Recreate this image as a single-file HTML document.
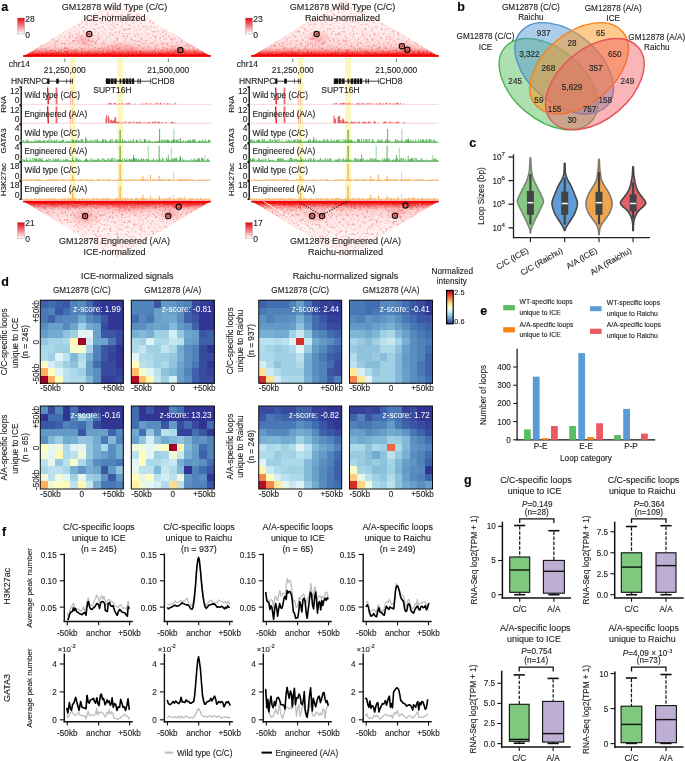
<!DOCTYPE html>
<html><head><meta charset="utf-8"><style>
html,body{margin:0;padding:0;background:#fff;}
svg{display:block;will-change:transform;}
text{font-family:"Liberation Sans", sans-serif;stroke:#222;stroke-width:0.12px;}
</style></head><body>
<svg width="685" height="761" viewBox="0 0 685 761" font-family='"Liberation Sans", sans-serif' fill="#222">
<defs>
<linearGradient id="cbr" x1="0" y1="0" x2="0" y2="1"><stop offset="0" stop-color="#e8000b"/><stop offset="1" stop-color="#ffffff"/></linearGradient>
<linearGradient id="triT" x1="0" y1="1" x2="0" y2="0">
 <stop offset="0" stop-color="#f00000"/><stop offset="0.04" stop-color="#f31c1c"/><stop offset="0.085" stop-color="#f76464"/><stop offset="0.12" stop-color="#faa4a4"/>
 <stop offset="0.16" stop-color="#fcd0d0"/><stop offset="0.3" stop-color="#fee8e8"/><stop offset="0.55" stop-color="#fff2f2"/><stop offset="1" stop-color="#fffbfb"/></linearGradient>
<linearGradient id="triB" x1="0" y1="0" x2="0" y2="1">
 <stop offset="0" stop-color="#f00000"/><stop offset="0.04" stop-color="#f31c1c"/><stop offset="0.085" stop-color="#f76464"/><stop offset="0.12" stop-color="#faa4a4"/>
 <stop offset="0.16" stop-color="#fcd0d0"/><stop offset="0.3" stop-color="#fee8e8"/><stop offset="0.55" stop-color="#fff2f2"/><stop offset="1" stop-color="#fffbfb"/></linearGradient>
<linearGradient id="mT" x1="0" y1="1" x2="0" y2="0"><stop offset="0" stop-color="#fff"/><stop offset="0.25" stop-color="#aaa"/><stop offset="1" stop-color="#555"/></linearGradient>
<linearGradient id="mB" x1="0" y1="0" x2="0" y2="1"><stop offset="0" stop-color="#fff"/><stop offset="0.25" stop-color="#aaa"/><stop offset="1" stop-color="#555"/></linearGradient>
<filter id="spk" x="0" y="0" width="100%" height="100%" color-interpolation-filters="sRGB">
 <feTurbulence type="fractalNoise" baseFrequency="0.42" numOctaves="2" seed="7"/>
 <feColorMatrix type="matrix" values="0 0 0 0 0.95  0 0 0 0 0.25  0 0 0 0 0.25  3.6 0 0 0 -1.85"/>
</filter>
<filter id="wspk" x="0" y="0" width="100%" height="100%" color-interpolation-filters="sRGB">
 <feTurbulence type="fractalNoise" baseFrequency="0.75" numOctaves="2" seed="3"/>
 <feColorMatrix type="matrix" values="0 0 0 0 1  0 0 0 0 0.93  0 0 0 0 0.93  4 0 0 0 -1.9"/>
</filter>
<linearGradient id="wmT" x1="0" y1="1" x2="0" y2="0"><stop offset="0" stop-color="#000"/><stop offset="0.04" stop-color="#333"/><stop offset="0.09" stop-color="#fff"/><stop offset="0.18" stop-color="#999"/><stop offset="0.3" stop-color="#000"/></linearGradient>
<linearGradient id="wmB" x1="0" y1="0" x2="0" y2="1"><stop offset="0" stop-color="#000"/><stop offset="0.04" stop-color="#333"/><stop offset="0.09" stop-color="#fff"/><stop offset="0.18" stop-color="#999"/><stop offset="0.3" stop-color="#000"/></linearGradient>
<radialGradient id="cloud"><stop offset="0" stop-color="#f33" stop-opacity="0.3"/><stop offset="1" stop-color="#f33" stop-opacity="0"/></radialGradient>
<linearGradient id="rdylbu" x1="0" y1="1" x2="0" y2="0">
 <stop offset="0" stop-color="rgb(49,54,149)"/><stop offset="0.1" stop-color="rgb(69,117,180)"/><stop offset="0.2" stop-color="rgb(116,173,209)"/>
 <stop offset="0.3" stop-color="rgb(171,217,233)"/><stop offset="0.4" stop-color="rgb(224,243,248)"/><stop offset="0.5" stop-color="rgb(255,255,191)"/>
 <stop offset="0.6" stop-color="rgb(254,224,144)"/><stop offset="0.7" stop-color="rgb(253,174,97)"/><stop offset="0.8" stop-color="rgb(244,109,67)"/>
 <stop offset="0.9" stop-color="rgb(215,48,39)"/><stop offset="1" stop-color="rgb(165,0,38)"/></linearGradient>
</defs>
<text x="1.2" y="11.2" font-size="12.5" font-weight="bold" fill="#000" style="stroke:#000">a</text>
<rect x="69.80" y="58.00" width="5.50" height="143.00" fill="#fcf6bf"/>
<rect x="117.40" y="58.00" width="5.40" height="143.00" fill="#fcf6bf"/>
<clipPath id="clipt0"><polygon points="23.2,56.6 210.8,56.6 117.0,-0.8"/></clipPath>
<mask id="mt0"><rect x="23.2" y="-0.8" width="187.6" height="57.4" fill="url(#mT)"/></mask>
<g clip-path="url(#clipt0)"><rect x="23.2" y="-0.8" width="187.6" height="57.4" fill="url(#triT)"/><g mask="url(#mt0)"><rect x="23.2" y="-0.8" width="187.6" height="57.4" filter="url(#spk)" opacity="0.75"/></g>
<ellipse cx="85.0" cy="40.0" rx="14" ry="8" fill="url(#cloud)"/>
<ellipse cx="175.0" cy="50.0" rx="10" ry="5" fill="url(#cloud)"/>
<ellipse cx="120.0" cy="48.0" rx="25" ry="6" fill="url(#cloud)"/>
<path d="M23.2,56.6 L23.2,54.1 L24.2,53.0 L25.2,49.8 L26.2,52.4 L27.2,51.9 L28.2,54.1 L29.2,53.0 L30.2,54.6 L31.2,51.7 L32.2,54.0 L33.2,52.3 L34.2,53.8 L35.2,54.4 L36.2,53.7 L37.2,52.8 L38.2,53.4 L39.2,53.3 L40.2,54.4 L41.2,54.5 L42.2,54.1 L43.2,53.5 L44.2,54.2 L45.2,54.6 L46.2,54.0 L47.2,53.0 L48.2,53.5 L49.2,53.0 L50.2,52.2 L51.2,53.4 L52.2,54.2 L53.2,51.7 L54.2,53.6 L55.2,53.8 L56.2,50.9 L57.2,54.4 L58.2,51.4 L59.2,53.5 L60.2,54.3 L61.2,49.8 L62.2,53.8 L63.2,52.3 L64.2,54.2 L65.2,53.7 L66.2,50.0 L67.2,49.7 L68.2,52.2 L69.2,49.0 L70.2,50.3 L71.2,53.9 L72.2,51.9 L73.2,52.4 L74.2,51.9 L75.2,49.0 L76.2,51.0 L77.2,52.5 L78.2,53.0 L79.2,52.7 L80.2,53.5 L81.2,54.4 L82.2,51.3 L83.2,53.3 L84.2,53.6 L85.2,51.4 L86.2,52.6 L87.2,52.1 L88.2,52.6 L89.2,51.9 L90.2,53.7 L91.2,52.4 L92.2,53.2 L93.2,54.4 L94.2,53.5 L95.2,53.5 L96.2,53.1 L97.2,53.7 L98.2,54.3 L99.2,54.4 L100.2,53.7 L101.2,54.4 L102.2,53.8 L103.2,53.0 L104.2,53.8 L105.2,54.5 L106.2,53.5 L107.2,52.6 L108.2,53.2 L109.2,52.3 L110.2,53.3 L111.2,52.8 L112.2,52.2 L113.2,51.8 L114.2,50.5 L115.2,52.7 L116.2,52.1 L117.2,53.3 L118.2,51.3 L119.2,52.3 L120.2,51.6 L121.2,51.2 L122.2,53.6 L123.2,54.5 L124.2,52.8 L125.2,48.3 L126.2,53.5 L127.2,51.3 L128.2,50.1 L129.2,54.1 L130.2,53.6 L131.2,50.6 L132.2,51.8 L133.2,51.4 L134.2,49.0 L135.2,51.5 L136.2,49.7 L137.2,52.8 L138.2,52.6 L139.2,51.6 L140.2,50.0 L141.2,52.7 L142.2,51.1 L143.2,53.7 L144.2,52.4 L145.2,53.6 L146.2,52.9 L147.2,54.5 L148.2,53.5 L149.2,53.0 L150.2,54.6 L151.2,54.1 L152.2,53.2 L153.2,53.5 L154.2,54.3 L155.2,53.7 L156.2,53.4 L157.2,53.5 L158.2,53.2 L159.2,54.1 L160.2,53.2 L161.2,53.4 L162.2,53.3 L163.2,54.6 L164.2,54.4 L165.2,52.5 L166.2,53.8 L167.2,53.7 L168.2,53.0 L169.2,51.1 L170.2,52.6 L171.2,52.7 L172.2,51.7 L173.2,50.9 L174.2,51.7 L175.2,49.6 L176.2,53.3 L177.2,54.2 L178.2,53.5 L179.2,49.8 L180.2,49.8 L181.2,51.6 L182.2,50.3 L183.2,50.1 L184.2,48.1 L185.2,52.6 L186.2,49.4 L187.2,54.0 L188.2,54.0 L189.2,50.1 L190.2,53.2 L191.2,53.6 L192.2,54.5 L193.2,49.6 L194.2,50.2 L195.2,51.1 L196.2,51.0 L197.2,51.7 L198.2,51.5 L199.2,52.6 L200.2,53.5 L201.2,54.5 L202.2,51.8 L203.2,52.9 L204.2,53.4 L205.2,54.6 L206.2,52.8 L207.2,53.6 L208.2,54.3 L209.2,54.2 L210.2,53.4 L210.8,56.6Z" fill="#f00808" opacity="0.3"/>
<path d="M23.2,56.6 L23.2,55.5 L23.9,55.4 L24.6,55.6 L25.3,55.2 L26.0,55.1 L26.7,54.9 L27.4,55.2 L28.1,55.2 L28.8,54.6 L29.5,55.6 L30.2,54.9 L30.9,54.8 L31.6,54.9 L32.3,55.6 L33.0,54.5 L33.7,55.5 L34.4,55.4 L35.1,54.5 L35.8,53.9 L36.5,54.6 L37.2,54.0 L37.9,53.8 L38.6,54.8 L39.3,54.6 L40.0,54.5 L40.7,54.1 L41.4,55.2 L42.1,55.4 L42.8,53.0 L43.5,55.4 L44.2,54.1 L44.9,53.1 L45.6,53.8 L46.3,52.9 L47.0,52.1 L47.7,54.1 L48.4,55.4 L49.1,53.9 L49.8,55.0 L50.5,53.1 L51.2,53.2 L51.9,53.4 L52.6,54.5 L53.3,51.8 L54.0,54.1 L54.7,52.9 L55.4,54.6 L56.1,52.4 L56.8,51.8 L57.5,55.1 L58.2,53.9 L58.9,52.4 L59.6,52.7 L60.3,55.3 L61.0,54.8 L61.7,55.2 L62.4,54.2 L63.1,53.1 L63.8,54.0 L64.5,54.1 L65.2,55.0 L65.9,53.7 L66.6,55.6 L67.3,54.3 L68.0,55.0 L68.7,54.0 L69.4,55.3 L70.1,53.8 L70.8,54.9 L71.5,55.1 L72.2,54.3 L72.9,55.2 L73.6,55.1 L74.3,55.2 L75.0,55.3 L75.7,55.5 L76.4,54.7 L77.1,55.3 L77.8,55.3 L78.5,55.5 L79.2,55.1 L79.9,54.9 L80.6,55.0 L81.3,55.2 L82.0,55.5 L82.7,55.5 L83.4,55.3 L84.1,55.1 L84.8,55.0 L85.5,54.7 L86.2,55.2 L86.9,55.1 L87.6,54.5 L88.3,54.6 L89.0,54.9 L89.7,55.5 L90.4,54.7 L91.1,54.7 L91.8,55.4 L92.5,55.1 L93.2,55.2 L93.9,55.1 L94.6,55.5 L95.3,53.3 L96.0,55.0 L96.7,53.6 L97.4,53.8 L98.1,54.9 L98.8,52.9 L99.5,53.8 L100.2,55.2 L100.9,55.2 L101.6,52.6 L102.3,52.9 L103.0,54.0 L103.7,52.3 L104.4,53.7 L105.1,53.3 L105.8,54.0 L106.5,55.0 L107.2,53.0 L107.9,52.7 L108.6,54.2 L109.3,52.5 L110.0,52.0 L110.7,52.9 L111.4,54.2 L112.1,54.0 L112.8,54.6 L113.5,55.0 L114.2,52.3 L114.9,52.5 L115.6,55.0 L116.3,54.0 L117.0,52.7 L117.7,54.6 L118.4,53.6 L119.1,55.3 L119.8,54.6 L120.5,53.5 L121.2,55.5 L121.9,55.3 L122.6,55.5 L123.3,53.7 L124.0,55.0 L124.7,54.7 L125.4,54.7 L126.1,54.5 L126.8,54.1 L127.5,54.4 L128.2,54.1 L128.9,55.5 L129.6,54.5 L130.3,55.4 L131.0,55.2 L131.7,55.4 L132.4,54.8 L133.1,55.0 L133.8,55.2 L134.5,54.7 L135.2,55.4 L135.9,55.3 L136.6,54.9 L137.3,55.1 L138.0,55.2 L138.7,55.4 L139.4,55.1 L140.1,55.0 L140.8,54.7 L141.5,54.9 L142.2,54.7 L142.9,54.7 L143.6,55.3 L144.3,55.4 L145.0,54.3 L145.7,55.1 L146.4,54.9 L147.1,55.3 L147.8,55.6 L148.5,54.3 L149.2,54.1 L149.9,55.1 L150.6,54.9 L151.3,54.8 L152.0,53.8 L152.7,54.6 L153.4,54.6 L154.1,55.1 L154.8,53.7 L155.5,52.6 L156.2,54.4 L156.9,53.7 L157.6,54.5 L158.3,55.2 L159.0,53.7 L159.7,52.4 L160.4,53.8 L161.1,53.5 L161.8,52.8 L162.5,51.9 L163.2,54.7 L163.9,54.1 L164.6,51.8 L165.3,55.3 L166.0,55.2 L166.7,53.3 L167.4,53.2 L168.1,54.3 L168.8,52.1 L169.5,52.5 L170.2,53.8 L170.9,54.4 L171.6,55.4 L172.3,53.3 L173.0,55.1 L173.7,52.9 L174.4,53.2 L175.1,55.5 L175.8,53.6 L176.5,55.3 L177.2,53.1 L177.9,53.3 L178.6,54.3 L179.3,53.8 L180.0,55.2 L180.7,55.5 L181.4,55.4 L182.1,53.7 L182.8,54.1 L183.5,55.2 L184.2,54.2 L184.9,55.3 L185.6,54.7 L186.3,54.4 L187.0,55.0 L187.7,55.1 L188.4,55.1 L189.1,54.7 L189.8,55.2 L190.5,55.4 L191.2,55.0 L191.9,55.1 L192.6,55.0 L193.3,55.1 L194.0,55.4 L194.7,55.5 L195.4,55.4 L196.1,55.3 L196.8,55.1 L197.5,55.2 L198.2,54.8 L198.9,54.8 L199.6,54.7 L200.3,54.4 L201.0,54.9 L201.7,55.0 L202.4,55.4 L203.1,54.2 L203.8,55.1 L204.5,55.1 L205.2,55.6 L205.9,55.4 L206.6,54.0 L207.3,54.0 L208.0,55.0 L208.7,53.6 L209.4,53.4 L210.1,55.4 L210.8,53.5 L210.8,56.6Z" fill="#f00808" opacity="0.45"/>
<path d="M23.2,56.6 L23.2,55.5 L23.7,56.0 L24.2,54.5 L24.7,55.3 L25.2,55.7 L25.7,54.5 L26.2,54.7 L26.7,55.5 L27.2,55.9 L27.7,54.5 L28.2,54.8 L28.7,54.1 L29.2,56.0 L29.7,55.8 L30.2,53.8 L30.7,55.5 L31.2,53.9 L31.7,54.0 L32.2,54.6 L32.7,55.0 L33.2,54.7 L33.7,53.8 L34.2,55.1 L34.7,54.8 L35.2,54.4 L35.7,55.0 L36.2,53.7 L36.7,54.5 L37.2,55.0 L37.7,55.3 L38.2,54.4 L38.7,54.6 L39.2,54.3 L39.7,56.0 L40.2,56.1 L40.7,54.2 L41.2,54.4 L41.7,54.2 L42.2,56.0 L42.7,55.4 L43.2,54.4 L43.7,55.4 L44.2,55.9 L44.7,54.7 L45.2,55.6 L45.7,54.5 L46.2,55.9 L46.7,55.6 L47.2,55.6 L47.7,55.7 L48.2,54.7 L48.7,55.0 L49.2,55.3 L49.7,54.9 L50.2,55.3 L50.7,55.5 L51.2,55.5 L51.7,55.6 L52.2,55.1 L52.7,55.1 L53.2,56.1 L53.7,55.8 L54.2,55.2 L54.7,55.4 L55.2,55.6 L55.7,55.5 L56.2,55.7 L56.7,56.1 L57.2,56.1 L57.7,55.5 L58.2,55.5 L58.7,56.1 L59.2,56.1 L59.7,56.0 L60.2,55.8 L60.7,55.8 L61.2,56.1 L61.7,56.1 L62.2,56.0 L62.7,55.9 L63.2,56.0 L63.7,55.9 L64.2,55.9 L64.7,56.0 L65.2,55.8 L65.7,55.7 L66.2,55.7 L66.7,55.6 L67.2,55.7 L67.7,55.9 L68.2,55.5 L68.7,55.5 L69.2,55.8 L69.7,55.9 L70.2,55.3 L70.7,55.5 L71.2,55.8 L71.7,56.0 L72.2,55.5 L72.7,55.4 L73.2,55.3 L73.7,55.2 L74.2,56.1 L74.7,55.6 L75.2,55.2 L75.7,55.5 L76.2,54.7 L76.7,55.8 L77.2,55.5 L77.7,54.6 L78.2,55.7 L78.7,55.0 L79.2,55.8 L79.7,54.8 L80.2,55.7 L80.7,54.3 L81.2,55.4 L81.7,54.6 L82.2,55.4 L82.7,54.8 L83.2,55.9 L83.7,55.1 L84.2,55.5 L84.7,54.0 L85.2,54.2 L85.7,54.5 L86.2,55.5 L86.7,54.4 L87.2,54.4 L87.7,54.9 L88.2,54.1 L88.7,55.6 L89.2,55.8 L89.7,55.6 L90.2,55.8 L90.7,54.4 L91.2,53.7 L91.7,55.7 L92.2,55.4 L92.7,54.7 L93.2,53.8 L93.7,54.4 L94.2,54.5 L94.7,54.1 L95.2,55.8 L95.7,54.2 L96.2,55.0 L96.7,55.8 L97.2,53.9 L97.7,56.0 L98.2,55.8 L98.7,54.6 L99.2,54.1 L99.7,55.1 L100.2,54.9 L100.7,54.9 L101.2,55.4 L101.7,54.9 L102.2,54.7 L102.7,56.1 L103.2,55.5 L103.7,54.4 L104.2,54.9 L104.7,55.0 L105.2,55.4 L105.7,55.1 L106.2,55.5 L106.7,55.8 L107.2,55.3 L107.7,55.6 L108.2,55.7 L108.7,55.4 L109.2,55.1 L109.7,56.0 L110.2,55.6 L110.7,55.8 L111.2,55.7 L111.7,55.4 L112.2,55.8 L112.7,55.7 L113.2,55.6 L113.7,55.5 L114.2,55.9 L114.7,55.7 L115.2,55.7 L115.7,55.8 L116.2,55.8 L116.7,55.6 L117.2,55.7 L117.7,56.0 L118.2,55.7 L118.7,55.9 L119.2,55.8 L119.7,55.9 L120.2,55.6 L120.7,55.9 L121.2,55.9 L121.7,55.8 L122.2,55.9 L122.7,55.6 L123.2,55.9 L123.7,55.7 L124.2,55.6 L124.7,55.5 L125.2,55.8 L125.7,55.5 L126.2,55.4 L126.7,55.6 L127.2,55.6 L127.7,55.7 L128.2,55.3 L128.7,55.8 L129.2,56.1 L129.7,55.7 L130.2,56.0 L130.7,55.0 L131.2,55.1 L131.7,55.5 L132.2,55.2 L132.7,54.9 L133.2,55.4 L133.7,55.3 L134.2,55.0 L134.7,55.4 L135.2,55.6 L135.7,54.8 L136.2,55.8 L136.7,55.5 L137.2,54.9 L137.7,54.5 L138.2,56.0 L138.7,54.7 L139.2,55.1 L139.7,55.8 L140.2,56.1 L140.7,55.5 L141.2,55.6 L141.7,55.9 L142.2,54.4 L142.7,56.0 L143.2,55.3 L143.7,55.7 L144.2,55.4 L144.7,55.3 L145.2,54.3 L145.7,54.1 L146.2,54.7 L146.7,55.3 L147.2,53.7 L147.7,54.2 L148.2,54.2 L148.7,54.6 L149.2,55.2 L149.7,54.0 L150.2,54.1 L150.7,54.0 L151.2,55.0 L151.7,56.0 L152.2,55.9 L152.7,54.1 L153.2,54.8 L153.7,54.0 L154.2,54.3 L154.7,55.4 L155.2,55.0 L155.7,54.4 L156.2,54.2 L156.7,54.2 L157.2,54.8 L157.7,54.8 L158.2,55.1 L158.7,55.1 L159.2,55.0 L159.7,54.6 L160.2,54.5 L160.7,54.7 L161.2,55.8 L161.7,55.8 L162.2,55.6 L162.7,54.7 L163.2,55.8 L163.7,54.8 L164.2,56.0 L164.7,55.1 L165.2,55.7 L165.7,56.0 L166.2,55.5 L166.7,55.3 L167.2,55.9 L167.7,55.6 L168.2,55.7 L168.7,56.0 L169.2,55.5 L169.7,55.9 L170.2,55.6 L170.7,56.0 L171.2,56.0 L171.7,55.5 L172.2,55.7 L172.7,55.9 L173.2,56.0 L173.7,55.8 L174.2,56.0 L174.7,55.6 L175.2,55.7 L175.7,56.0 L176.2,56.0 L176.7,56.1 L177.2,56.0 L177.7,55.9 L178.2,56.1 L178.7,55.9 L179.2,55.9 L179.7,55.7 L180.2,55.8 L180.7,56.0 L181.2,55.6 L181.7,56.0 L182.2,55.4 L182.7,55.7 L183.2,55.5 L183.7,55.7 L184.2,55.5 L184.7,55.3 L185.2,56.1 L185.7,55.6 L186.2,55.1 L186.7,55.5 L187.2,55.8 L187.7,55.3 L188.2,55.7 L188.7,55.8 L189.2,55.6 L189.7,55.9 L190.2,55.5 L190.7,55.4 L191.2,55.2 L191.7,56.1 L192.2,55.0 L192.7,54.6 L193.2,54.6 L193.7,54.3 L194.2,55.5 L194.7,55.2 L195.2,55.1 L195.7,55.4 L196.2,54.4 L196.7,55.9 L197.2,55.4 L197.7,55.5 L198.2,55.4 L198.7,54.3 L199.2,55.9 L199.7,54.6 L200.2,54.1 L200.7,54.4 L201.2,55.8 L201.7,55.5 L202.2,54.7 L202.7,54.7 L203.2,54.0 L203.7,53.7 L204.2,54.9 L204.7,55.0 L205.2,54.3 L205.7,53.8 L206.2,55.0 L206.7,54.1 L207.2,54.4 L207.7,55.1 L208.2,54.2 L208.7,55.7 L209.2,56.0 L209.7,56.1 L210.2,54.4 L210.7,54.0 L210.8,56.6Z" fill="#f00808" opacity="0.5"/>
<mask id="wt0"><rect x="23.2" y="-0.8" width="187.6" height="57.4" fill="url(#wmT)"/></mask>
<g mask="url(#wt0)"><rect x="23.2" y="-0.8" width="187.6" height="57.4" filter="url(#wspk)" opacity="0.55"/></g>
</g>
<rect x="23.2" y="55.0" width="187.6" height="1.8" fill="#f00000"/>
<text x="114.5" y="9.6" font-size="9" text-anchor="middle">GM12878 Wild Type (C/C)</text>
<text x="114.5" y="20.5" font-size="9" text-anchor="middle">ICE-normalized</text>
<rect x="17.5" y="18" width="7" height="16" fill="url(#cbr)" stroke="#999" stroke-width="0.4"/>
<text x="25.2" y="21.8" font-size="8.5">28</text>
<text x="25.2" y="37.8" font-size="8.5">0</text>
<circle cx="89.3" cy="34.0" r="1.3" fill="#f22"/>
<circle cx="89.3" cy="34.0" r="2.6" fill="none" stroke="#111" stroke-width="1.3"/>
<circle cx="180.4" cy="50.1" r="1.3" fill="#f22"/>
<circle cx="180.4" cy="50.1" r="2.6" fill="none" stroke="#111" stroke-width="1.3"/>
<text x="8.8" y="67.3" font-size="8.5">chr14</text>
<line x1="64.80" y1="58.60" x2="64.80" y2="62.00" stroke="#333" stroke-width="0.7"/>
<text x="64.8" y="72.5" font-size="8.4" text-anchor="middle">21,250,000</text>
<line x1="168.30" y1="58.60" x2="168.30" y2="62.00" stroke="#333" stroke-width="0.7"/>
<text x="168.3" y="72.5" font-size="8.4" text-anchor="middle">21,500,000</text>
<line x1="47.00" y1="81.20" x2="72.70" y2="81.20" stroke="#111" stroke-width="0.8"/>
<rect x="47.20" y="78.45" width="2.20" height="5.50" fill="#111"/>
<rect x="56.20" y="78.70" width="2.60" height="5.00" fill="#111"/>
<rect x="66.00" y="78.70" width="0.60" height="5.00" fill="#111"/>
<rect x="69.90" y="78.70" width="0.70" height="5.00" fill="#111"/>
<rect x="71.90" y="78.70" width="0.80" height="5.00" fill="#111"/>
<text x="47.3" y="84.2" font-size="8.5" text-anchor="end">HNRNPC</text>
<line x1="105.80" y1="81.20" x2="150.40" y2="81.20" stroke="#111" stroke-width="0.8"/>
<rect x="105.80" y="78.45" width="4.70" height="5.50" fill="#111"/>
<rect x="111.00" y="78.45" width="2.60" height="5.50" fill="#111"/>
<rect x="114.20" y="78.45" width="2.40" height="5.50" fill="#111"/>
<rect x="119.60" y="78.70" width="1.60" height="5.00" fill="#111"/>
<rect x="122.60" y="78.45" width="2.60" height="5.50" fill="#111"/>
<rect x="125.80" y="78.45" width="2.80" height="5.50" fill="#111"/>
<rect x="129.20" y="78.45" width="2.10" height="5.50" fill="#111"/>
<rect x="131.90" y="78.45" width="2.30" height="5.50" fill="#111"/>
<rect x="137.50" y="78.70" width="1.00" height="5.00" fill="#111"/>
<rect x="139.80" y="78.70" width="1.00" height="5.00" fill="#111"/>
<rect x="150.00" y="78.45" width="0.60" height="5.50" fill="#111"/>
<text x="151.3" y="84.2" font-size="8.5">CHD8</text>
<text x="93.3" y="92.8" font-size="8.5">SUPT16H</text>
<path d="M19.5,87.0H21.2V104.8H19.5" stroke="#111" stroke-width="1.4" fill="none"/>
<text x="19.5" y="93.6" font-size="8.5" text-anchor="end">12</text>
<text x="19.5" y="103.4" font-size="8.5" text-anchor="end">0</text>
<path d="M19.5,105.9H21.2V123.7H19.5" stroke="#111" stroke-width="1.4" fill="none"/>
<text x="19.5" y="112.5" font-size="8.5" text-anchor="end">12</text>
<text x="19.5" y="122.3" font-size="8.5" text-anchor="end">0</text>
<path d="M19.5,124.8H21.2V142.6H19.5" stroke="#111" stroke-width="1.4" fill="none"/>
<text x="19.5" y="131.4" font-size="8.5" text-anchor="end">4</text>
<text x="19.5" y="141.2" font-size="8.5" text-anchor="end">0</text>
<path d="M19.5,143.7H21.2V161.5H19.5" stroke="#111" stroke-width="1.4" fill="none"/>
<text x="19.5" y="150.3" font-size="8.5" text-anchor="end">4</text>
<text x="19.5" y="160.1" font-size="8.5" text-anchor="end">0</text>
<path d="M19.5,162.6H21.2V180.4H19.5" stroke="#111" stroke-width="1.4" fill="none"/>
<text x="19.5" y="169.2" font-size="8.5" text-anchor="end">18</text>
<text x="19.5" y="179.0" font-size="8.5" text-anchor="end">0</text>
<path d="M19.5,181.5H21.2V199.3H19.5" stroke="#111" stroke-width="1.4" fill="none"/>
<text x="19.5" y="188.1" font-size="8.5" text-anchor="end">18</text>
<text x="19.5" y="197.9" font-size="8.5" text-anchor="end">0</text>
<text x="6.4" y="104.3" font-size="8.1" text-anchor="middle" transform="rotate(-90 6.4 104.3)">RNA</text>
<text x="6.4" y="140.9" font-size="8.1" text-anchor="middle" transform="rotate(-90 6.4 140.9)">GATA3</text>
<text x="6.4" y="179.7" font-size="8.1" text-anchor="middle" transform="rotate(-90 6.4 179.7)">H3K27ac</text>
<rect x="21.70" y="103.90" width="188.80" height="0.70" fill="#f9c4c4"/>
<path d="M47.6,87.5L48.3,104.3" stroke="#e31a1c" stroke-width="1.4"/>
<rect x="55.60" y="87.50" width="1.80" height="16.80" fill="#ee6a6a"/>
<rect x="70.40" y="93.00" width="0.50" height="11.30" fill="#f08080"/>
<rect x="72.30" y="90.00" width="0.50" height="14.30" fill="#f08080"/>
<rect x="21.70" y="122.80" width="188.80" height="0.70" fill="#f9c4c4"/>
<path d="M47.6,106.4L48.3,123.2" stroke="#e31a1c" stroke-width="1.4"/>
<rect x="55.60" y="106.40" width="1.80" height="16.80" fill="#ee6a6a"/>
<rect x="70.40" y="111.90" width="0.50" height="11.30" fill="#f08080"/>
<rect x="72.30" y="108.90" width="0.50" height="14.30" fill="#f08080"/>
<path d="M108.4,104.3v-0.0 M109.2,104.3v-1.5 M110.0,104.3v-1.4 M110.8,104.3v-0.8 M111.6,104.3v-0.9 M112.4,104.3v-0.0 M114.0,104.3v-1.2 M114.8,104.3v-1.3 M115.6,104.3v-1.0 M117.2,104.3v-0.3 M119.6,104.3v-0.9 M122.0,104.3v-1.4 M122.8,104.3v-0.6 M123.6,104.3v-0.2 M124.4,104.3v-0.5 M125.2,104.3v-0.0 M126.0,104.3v-0.5 M126.8,104.3v-1.3 M127.6,104.3v-0.5 M128.4,104.3v-1.1 M129.2,104.3v-1.6 M131.6,104.3v-0.6 M132.4,104.3v-0.0 M135.6,104.3v-0.6 M139.6,104.3v-0.1 M142.0,104.3v-0.9 M142.8,104.3v-0.5 M143.6,104.3v-0.1 M145.2,104.3v-0.3 M146.0,104.3v-1.6 M146.8,104.3v-0.6 M148.4,104.3v-0.7 M150.0,104.3v-0.1 M150.8,104.3v-1.3 M153.2,104.3v-0.2 M154.8,104.3v-0.5 M156.4,104.3v-1.6 M158.0,104.3v-0.8 M158.8,104.3v-0.6 M160.4,104.3v-1.5 M161.2,104.3v-0.8 M162.0,104.3v-0.1 M164.4,104.3v-1.2 M166.8,104.3v-0.4 M167.6,104.3v-1.2 M169.2,104.3v-1.0 M170.0,104.3v-0.0 M170.8,104.3v-0.4 M173.2,104.3v-0.6 M175.6,104.3v-1.4" stroke="#e31a1c" stroke-width="0.7"/>
<path d="M106.0,123.2v-5.7 M106.8,123.2v-8.6 M108.4,123.2v-7.5 M109.2,123.2v-4.9 M110.8,123.2v-3.1 M111.6,123.2v-3.5 M112.4,123.2v-2.3 M113.2,123.2v-2.4 M114.0,123.2v-3.3 M114.8,123.2v-5.3 M115.6,123.2v-6.1 M116.4,123.2v-1.8 M117.2,123.2v-0.8 M118.0,123.2v-0.8 M118.8,123.2v-1.7 M119.6,123.2v-0.1 M120.4,123.2v-0.2 M121.2,123.2v-0.7 M123.6,123.2v-1.3 M124.4,123.2v-0.3 M126.0,123.2v-1.9 M127.6,123.2v-0.0 M128.4,123.2v-1.1 M129.2,123.2v-0.3 M130.0,123.2v-1.8 M130.8,123.2v-0.9 M133.2,123.2v-1.8 M134.8,123.2v-1.0 M136.4,123.2v-1.0 M137.2,123.2v-1.0 M138.0,123.2v-1.2 M139.6,123.2v-1.7 M140.4,123.2v-1.1 M142.0,123.2v-0.5 M143.6,123.2v-0.6 M144.4,123.2v-0.9 M146.8,123.2v-0.6 M147.6,123.2v-0.7 M148.4,123.2v-1.1 M150.0,123.2v-1.2 M150.8,123.2v-0.5 M152.4,123.2v-1.1 M153.2,123.2v-1.6 M154.8,123.2v-1.3 M155.6,123.2v-1.8 M157.2,123.2v-0.4 M158.0,123.2v-1.7 M158.8,123.2v-1.7 M159.6,123.2v-0.9 M161.2,123.2v-0.3 M162.0,123.2v-1.1 M162.8,123.2v-0.7 M164.4,123.2v-0.1 M166.0,123.2v-1.3 M169.2,123.2v-0.4 M170.8,123.2v-0.3 M171.6,123.2v-1.8 M172.4,123.2v-1.2 M173.2,123.2v-0.3 M174.0,123.2v-0.1 M174.8,123.2v-0.8 M175.6,123.2v-0.1" stroke="#e31a1c" stroke-width="0.7"/>
<path d="M120.1,142.9v-13.0" stroke="#2f9e2f" stroke-width="1.0"/>
<path d="M159.6,142.9v-14.0" stroke="#2f9e2f" stroke-width="0.8"/>
<path d="M173.9,142.9v-14.0" stroke="#86c986" stroke-width="0.8"/>
<path d="M180.2,142.9v-5.0" stroke="#2f9e2f" stroke-width="0.7"/>
<path d="M133.6,142.9v-4.0" stroke="#2f9e2f" stroke-width="0.7"/>
<path d="M85.7,142.9v-6.0" stroke="#2f9e2f" stroke-width="0.7"/>
<path d="M103.0,142.9v-4.0" stroke="#2f9e2f" stroke-width="0.7"/>
<path d="M111.0,142.9v-4.0" stroke="#2f9e2f" stroke-width="0.7"/>
<path d="M145.0,142.9v-4.0" stroke="#2f9e2f" stroke-width="0.7"/>
<path d="M168.0,142.9v-3.0" stroke="#2f9e2f" stroke-width="0.7"/>
<path d="M72.7,142.9v-3.0" stroke="#2f9e2f" stroke-width="0.7"/>
<path d="M21.7,142.9v-3.3 M22.4,142.9v-1.2 M23.1,142.9v-1.7 M23.8,142.9v-3.0 M24.5,142.9v-0.9 M25.2,142.9v-1.6 M25.9,142.9v-0.9 M26.6,142.9v-2.7 M27.3,142.9v-3.8 M28.0,142.9v-0.9 M28.7,142.9v-2.0 M29.4,142.9v-1.5 M30.1,142.9v-1.6 M30.8,142.9v-1.1 M31.5,142.9v-1.8 M32.2,142.9v-1.1 M32.9,142.9v-1.7 M33.6,142.9v-0.9 M34.3,142.9v-2.0 M35.0,142.9v-1.1 M35.7,142.9v-3.3 M36.4,142.9v-1.3 M37.1,142.9v-2.6 M37.8,142.9v-1.6 M38.5,142.9v-2.5 M39.2,142.9v-2.1 M39.9,142.9v-3.3 M40.6,142.9v-2.1 M41.3,142.9v-1.2 M42.0,142.9v-1.6 M42.7,142.9v-2.0 M43.4,142.9v-2.5 M44.1,142.9v-1.6 M44.8,142.9v-2.9 M45.5,142.9v-1.5 M46.2,142.9v-0.9 M46.9,142.9v-2.6 M47.6,142.9v-2.1 M48.3,142.9v-1.0 M49.0,142.9v-4.0 M49.7,142.9v-2.0 M50.4,142.9v-1.1 M51.1,142.9v-3.8 M51.8,142.9v-1.7 M52.5,142.9v-2.0 M53.2,142.9v-0.9 M53.9,142.9v-3.1 M54.6,142.9v-2.8 M55.3,142.9v-1.9 M56.0,142.9v-1.6 M56.7,142.9v-3.4 M57.4,142.9v-1.1 M58.1,142.9v-1.8 M58.8,142.9v-1.4 M59.5,142.9v-2.3 M60.2,142.9v-1.7 M60.9,142.9v-1.1 M61.6,142.9v-2.1 M62.3,142.9v-3.0 M63.0,142.9v-3.1 M63.7,142.9v-3.2 M64.4,142.9v-0.9 M65.1,142.9v-0.9 M65.8,142.9v-1.2 M66.5,142.9v-2.3 M67.2,142.9v-0.9 M67.9,142.9v-1.9 M68.6,142.9v-1.2 M69.3,142.9v-1.7 M70.0,142.9v-1.7 M70.7,142.9v-1.5 M71.4,142.9v-1.1 M72.1,142.9v-3.5 M72.8,142.9v-1.1 M73.5,142.9v-3.1 M74.2,142.9v-0.9 M74.9,142.9v-2.7 M75.6,142.9v-2.6 M76.3,142.9v-2.0 M77.0,142.9v-4.0 M77.7,142.9v-1.9 M78.4,142.9v-2.4 M79.1,142.9v-2.1 M79.8,142.9v-2.3 M80.5,142.9v-1.3 M81.2,142.9v-3.4 M81.9,142.9v-3.3 M82.6,142.9v-3.8 M83.3,142.9v-1.6 M84.0,142.9v-0.9 M84.7,142.9v-0.9 M85.4,142.9v-3.9 M86.1,142.9v-1.0 M86.8,142.9v-4.0 M87.5,142.9v-1.8 M88.2,142.9v-1.4 M88.9,142.9v-2.5 M89.6,142.9v-1.1 M90.3,142.9v-2.4 M91.0,142.9v-1.8 M91.7,142.9v-3.4 M92.4,142.9v-0.9 M93.1,142.9v-1.3 M93.8,142.9v-3.0 M94.5,142.9v-1.1 M95.2,142.9v-3.2 M95.9,142.9v-1.4 M96.6,142.9v-2.5 M97.3,142.9v-4.0 M98.0,142.9v-2.7 M98.7,142.9v-1.0 M99.4,142.9v-1.1 M100.1,142.9v-2.2 M100.8,142.9v-1.4 M101.5,142.9v-1.2 M102.2,142.9v-2.2 M102.9,142.9v-3.5 M103.6,142.9v-2.0 M104.3,142.9v-0.9 M105.0,142.9v-3.4 M105.7,142.9v-3.2 M106.4,142.9v-2.2 M107.1,142.9v-1.5 M107.8,142.9v-1.1 M108.5,142.9v-1.2 M109.2,142.9v-2.0 M109.9,142.9v-1.7 M110.6,142.9v-3.0 M111.3,142.9v-0.9 M112.0,142.9v-0.9 M112.7,142.9v-3.5 M113.4,142.9v-1.1 M114.1,142.9v-1.6 M114.8,142.9v-1.0 M115.5,142.9v-2.8 M116.2,142.9v-3.6 M116.9,142.9v-3.9 M117.6,142.9v-1.3 M118.3,142.9v-1.7 M119.0,142.9v-2.4 M119.7,142.9v-0.9 M120.4,142.9v-1.3 M121.1,142.9v-1.7 M121.8,142.9v-0.9 M122.5,142.9v-3.9 M123.2,142.9v-1.0 M123.9,142.9v-2.2 M124.6,142.9v-2.0 M125.3,142.9v-2.4 M126.0,142.9v-2.0 M126.7,142.9v-1.2 M127.4,142.9v-1.2 M128.1,142.9v-1.7 M128.8,142.9v-2.3 M129.5,142.9v-1.5 M130.2,142.9v-1.3 M130.9,142.9v-3.3 M131.6,142.9v-1.3 M132.3,142.9v-2.0 M133.0,142.9v-2.2 M133.7,142.9v-0.9 M134.4,142.9v-0.9 M135.1,142.9v-0.9 M135.8,142.9v-2.3 M136.5,142.9v-3.0 M137.2,142.9v-3.4 M137.9,142.9v-1.8 M138.6,142.9v-0.9 M139.3,142.9v-1.0 M140.0,142.9v-4.0 M140.7,142.9v-1.3 M141.4,142.9v-1.9 M142.1,142.9v-1.3 M142.8,142.9v-1.0 M143.5,142.9v-0.9 M144.2,142.9v-3.6 M144.9,142.9v-3.6 M145.6,142.9v-2.8 M146.3,142.9v-1.0 M147.0,142.9v-1.0 M147.7,142.9v-2.4 M148.4,142.9v-0.9 M149.1,142.9v-3.1 M149.8,142.9v-2.0 M150.5,142.9v-1.7 M151.2,142.9v-1.4 M151.9,142.9v-0.9 M152.6,142.9v-1.6 M153.3,142.9v-0.9 M154.0,142.9v-1.0 M154.7,142.9v-1.2 M155.4,142.9v-1.5 M156.1,142.9v-2.2 M156.8,142.9v-0.9 M157.5,142.9v-1.8 M158.2,142.9v-1.6 M158.9,142.9v-2.7 M159.6,142.9v-1.8 M160.3,142.9v-1.1 M161.0,142.9v-2.0 M161.7,142.9v-3.6 M162.4,142.9v-2.4 M163.1,142.9v-0.9 M163.8,142.9v-3.4 M164.5,142.9v-2.9 M165.2,142.9v-1.3 M165.9,142.9v-3.3 M166.6,142.9v-2.6 M167.3,142.9v-2.2 M168.0,142.9v-3.5 M168.7,142.9v-2.1 M169.4,142.9v-1.2 M170.1,142.9v-2.1 M170.8,142.9v-0.9 M171.5,142.9v-2.7 M172.2,142.9v-1.9 M172.9,142.9v-2.7 M173.6,142.9v-4.0 M174.3,142.9v-2.3 M175.0,142.9v-3.6 M175.7,142.9v-1.0 M176.4,142.9v-3.2 M177.1,142.9v-2.6 M177.8,142.9v-3.7 M178.5,142.9v-1.5 M179.2,142.9v-1.6 M179.9,142.9v-1.3 M180.6,142.9v-3.6 M181.3,142.9v-1.0 M182.0,142.9v-1.5 M182.7,142.9v-1.3 M183.4,142.9v-2.8 M184.1,142.9v-1.1 M184.8,142.9v-0.9 M185.5,142.9v-2.2 M186.2,142.9v-1.1 M186.9,142.9v-2.0 M187.6,142.9v-2.1 M188.3,142.9v-2.5 M189.0,142.9v-3.1 M189.7,142.9v-2.0 M190.4,142.9v-3.3 M191.1,142.9v-2.1 M191.8,142.9v-1.2 M192.5,142.9v-3.1 M193.2,142.9v-2.8 M193.9,142.9v-3.9 M194.6,142.9v-3.9 M195.3,142.9v-1.8 M196.0,142.9v-1.3 M196.7,142.9v-1.4 M197.4,142.9v-0.9 M198.1,142.9v-1.7 M198.8,142.9v-1.5 M199.5,142.9v-2.5 M200.2,142.9v-2.4 M200.9,142.9v-1.1 M201.6,142.9v-1.2 M202.3,142.9v-3.5 M203.0,142.9v-1.9 M203.7,142.9v-1.7 M204.4,142.9v-1.5 M205.1,142.9v-4.0 M205.8,142.9v-1.0 M206.5,142.9v-1.9 M207.2,142.9v-0.9 M207.9,142.9v-1.6 M208.6,142.9v-3.3 M209.3,142.9v-2.7 M210.0,142.9v-2.8" stroke="#2f9e2f" stroke-width="0.7" fill="none"/>
<path d="M120.1,161.8v-16.0" stroke="#2f9e2f" stroke-width="1.0"/>
<path d="M133.6,161.8v-7.0" stroke="#2f9e2f" stroke-width="0.8"/>
<path d="M148.2,161.8v-16.0" stroke="#86c986" stroke-width="0.8"/>
<path d="M159.1,161.8v-16.0" stroke="#2f9e2f" stroke-width="0.8"/>
<path d="M168.3,161.8v-7.0" stroke="#2f9e2f" stroke-width="0.7"/>
<path d="M171.3,161.8v-14.0" stroke="#86c986" stroke-width="0.7"/>
<path d="M180.2,161.8v-6.0" stroke="#2f9e2f" stroke-width="0.7"/>
<path d="M204.9,161.8v-7.0" stroke="#86c986" stroke-width="0.7"/>
<path d="M72.7,161.8v-5.0" stroke="#2f9e2f" stroke-width="0.8"/>
<path d="M86.0,161.8v-3.0" stroke="#2f9e2f" stroke-width="0.7"/>
<path d="M111.0,161.8v-4.0" stroke="#2f9e2f" stroke-width="0.7"/>
<path d="M21.7,161.8v-3.8 M22.4,161.8v-0.9 M23.1,161.8v-2.7 M23.8,161.8v-1.3 M24.5,161.8v-2.2 M25.2,161.8v-1.0 M25.9,161.8v-1.5 M26.6,161.8v-4.1 M27.3,161.8v-2.0 M28.0,161.8v-1.2 M28.7,161.8v-0.9 M29.4,161.8v-1.3 M30.1,161.8v-3.5 M30.8,161.8v-2.0 M31.5,161.8v-0.9 M32.2,161.8v-1.0 M32.9,161.8v-4.1 M33.6,161.8v-1.0 M34.3,161.8v-3.0 M35.0,161.8v-3.6 M35.7,161.8v-3.0 M36.4,161.8v-4.0 M37.1,161.8v-1.0 M37.8,161.8v-2.7 M38.5,161.8v-1.9 M39.2,161.8v-3.7 M39.9,161.8v-3.2 M40.6,161.8v-3.5 M41.3,161.8v-1.7 M42.0,161.8v-3.7 M42.7,161.8v-1.8 M43.4,161.8v-1.3 M44.1,161.8v-1.0 M44.8,161.8v-1.2 M45.5,161.8v-1.3 M46.2,161.8v-2.6 M46.9,161.8v-1.9 M47.6,161.8v-2.1 M48.3,161.8v-1.1 M49.0,161.8v-3.7 M49.7,161.8v-0.9 M50.4,161.8v-2.7 M51.1,161.8v-1.1 M51.8,161.8v-0.9 M52.5,161.8v-1.2 M53.2,161.8v-3.4 M53.9,161.8v-1.9 M54.6,161.8v-1.2 M55.3,161.8v-3.4 M56.0,161.8v-2.7 M56.7,161.8v-1.4 M57.4,161.8v-2.5 M58.1,161.8v-3.8 M58.8,161.8v-2.7 M59.5,161.8v-1.2 M60.2,161.8v-1.0 M60.9,161.8v-2.5 M61.6,161.8v-0.9 M62.3,161.8v-1.0 M63.0,161.8v-1.4 M63.7,161.8v-2.8 M64.4,161.8v-1.4 M65.1,161.8v-1.7 M65.8,161.8v-2.8 M66.5,161.8v-2.8 M67.2,161.8v-2.6 M67.9,161.8v-1.1 M68.6,161.8v-1.3 M69.3,161.8v-1.7 M70.0,161.8v-1.0 M70.7,161.8v-1.5 M71.4,161.8v-1.0 M72.1,161.8v-1.2 M72.8,161.8v-1.6 M73.5,161.8v-2.0 M74.2,161.8v-0.9 M74.9,161.8v-1.0 M75.6,161.8v-2.3 M76.3,161.8v-4.0 M77.0,161.8v-4.1 M77.7,161.8v-1.6 M78.4,161.8v-2.1 M79.1,161.8v-3.0 M79.8,161.8v-1.2 M80.5,161.8v-1.9 M81.2,161.8v-0.9 M81.9,161.8v-1.0 M82.6,161.8v-1.1 M83.3,161.8v-1.0 M84.0,161.8v-1.1 M84.7,161.8v-1.7 M85.4,161.8v-2.3 M86.1,161.8v-3.6 M86.8,161.8v-2.7 M87.5,161.8v-1.9 M88.2,161.8v-0.9 M88.9,161.8v-1.9 M89.6,161.8v-0.9 M90.3,161.8v-1.4 M91.0,161.8v-3.7 M91.7,161.8v-1.2 M92.4,161.8v-1.4 M93.1,161.8v-2.5 M93.8,161.8v-1.3 M94.5,161.8v-2.5 M95.2,161.8v-1.7 M95.9,161.8v-1.8 M96.6,161.8v-2.1 M97.3,161.8v-1.2 M98.0,161.8v-3.7 M98.7,161.8v-2.8 M99.4,161.8v-2.1 M100.1,161.8v-1.7 M100.8,161.8v-1.5 M101.5,161.8v-1.0 M102.2,161.8v-3.3 M102.9,161.8v-3.9 M103.6,161.8v-0.9 M104.3,161.8v-2.9 M105.0,161.8v-1.8 M105.7,161.8v-1.7 M106.4,161.8v-1.2 M107.1,161.8v-1.7 M107.8,161.8v-3.1 M108.5,161.8v-3.2 M109.2,161.8v-1.1 M109.9,161.8v-1.2 M110.6,161.8v-2.5 M111.3,161.8v-2.1 M112.0,161.8v-0.9 M112.7,161.8v-4.1 M113.4,161.8v-1.6 M114.1,161.8v-0.9 M114.8,161.8v-4.0 M115.5,161.8v-1.0 M116.2,161.8v-1.1 M116.9,161.8v-2.5 M117.6,161.8v-1.9 M118.3,161.8v-2.0 M119.0,161.8v-2.8 M119.7,161.8v-1.9 M120.4,161.8v-1.2 M121.1,161.8v-1.7 M121.8,161.8v-1.5 M122.5,161.8v-3.0 M123.2,161.8v-1.0 M123.9,161.8v-0.9 M124.6,161.8v-3.5 M125.3,161.8v-1.9 M126.0,161.8v-1.5 M126.7,161.8v-3.7 M127.4,161.8v-1.7 M128.1,161.8v-1.3 M128.8,161.8v-2.4 M129.5,161.8v-3.3 M130.2,161.8v-2.3 M130.9,161.8v-2.4 M131.6,161.8v-2.3 M132.3,161.8v-1.7 M133.0,161.8v-3.5 M133.7,161.8v-3.1 M134.4,161.8v-3.8 M135.1,161.8v-2.2 M135.8,161.8v-3.5 M136.5,161.8v-3.1 M137.2,161.8v-1.1 M137.9,161.8v-2.1 M138.6,161.8v-3.1 M139.3,161.8v-2.2 M140.0,161.8v-1.2 M140.7,161.8v-1.7 M141.4,161.8v-3.9 M142.1,161.8v-0.9 M142.8,161.8v-3.2 M143.5,161.8v-2.8 M144.2,161.8v-2.5 M144.9,161.8v-1.2 M145.6,161.8v-0.9 M146.3,161.8v-2.8 M147.0,161.8v-2.8 M147.7,161.8v-1.5 M148.4,161.8v-3.0 M149.1,161.8v-1.0 M149.8,161.8v-1.5 M150.5,161.8v-1.3 M151.2,161.8v-2.0 M151.9,161.8v-1.4 M152.6,161.8v-1.5 M153.3,161.8v-3.4 M154.0,161.8v-2.4 M154.7,161.8v-2.0 M155.4,161.8v-0.9 M156.1,161.8v-1.3 M156.8,161.8v-3.0 M157.5,161.8v-1.5 M158.2,161.8v-0.9 M158.9,161.8v-1.5 M159.6,161.8v-3.3 M160.3,161.8v-2.3 M161.0,161.8v-1.1 M161.7,161.8v-1.1 M162.4,161.8v-3.9 M163.1,161.8v-3.1 M163.8,161.8v-1.4 M164.5,161.8v-0.9 M165.2,161.8v-1.0 M165.9,161.8v-1.2 M166.6,161.8v-3.7 M167.3,161.8v-2.3 M168.0,161.8v-1.3 M168.7,161.8v-1.1 M169.4,161.8v-2.5 M170.1,161.8v-1.4 M170.8,161.8v-1.1 M171.5,161.8v-2.3 M172.2,161.8v-3.2 M172.9,161.8v-3.4 M173.6,161.8v-1.8 M174.3,161.8v-3.8 M175.0,161.8v-2.8 M175.7,161.8v-3.7 M176.4,161.8v-4.0 M177.1,161.8v-2.3 M177.8,161.8v-1.4 M178.5,161.8v-1.0 M179.2,161.8v-1.4 M179.9,161.8v-3.5 M180.6,161.8v-3.9 M181.3,161.8v-0.9 M182.0,161.8v-1.4 M182.7,161.8v-3.5 M183.4,161.8v-1.6 M184.1,161.8v-1.1 M184.8,161.8v-1.5 M185.5,161.8v-2.3 M186.2,161.8v-1.3 M186.9,161.8v-0.9 M187.6,161.8v-1.1 M188.3,161.8v-1.6 M189.0,161.8v-1.4 M189.7,161.8v-1.1 M190.4,161.8v-1.4 M191.1,161.8v-2.9 M191.8,161.8v-1.0 M192.5,161.8v-1.6 M193.2,161.8v-1.0 M193.9,161.8v-3.3 M194.6,161.8v-2.9 M195.3,161.8v-1.5 M196.0,161.8v-1.5 M196.7,161.8v-2.3 M197.4,161.8v-3.2 M198.1,161.8v-2.1 M198.8,161.8v-4.0 M199.5,161.8v-3.2 M200.2,161.8v-1.5 M200.9,161.8v-0.9 M201.6,161.8v-4.1 M202.3,161.8v-3.7 M203.0,161.8v-3.6 M203.7,161.8v-1.3 M204.4,161.8v-0.9 M205.1,161.8v-1.4 M205.8,161.8v-1.0 M206.5,161.8v-0.9 M207.2,161.8v-2.4 M207.9,161.8v-3.5 M208.6,161.8v-1.8 M209.3,161.8v-1.0 M210.0,161.8v-0.9" stroke="#2f9e2f" stroke-width="0.7" fill="none"/>
<path d="M120.1,180.7v-16.5" stroke="#f39a2e" stroke-width="1.0"/>
<path d="M142.8,180.7v-5.0" stroke="#f39a2e" stroke-width="0.8"/>
<path d="M150.4,180.7v-6.0" stroke="#f39a2e" stroke-width="0.8"/>
<path d="M159.1,180.7v-5.0" stroke="#f39a2e" stroke-width="0.8"/>
<path d="M173.5,180.7v-9.0" stroke="#f8c48c" stroke-width="0.8"/>
<path d="M180.6,180.7v-2.0" stroke="#f39a2e" stroke-width="0.7"/>
<path d="M72.7,180.7v-5.0" stroke="#f39a2e" stroke-width="0.9"/>
<path d="M190.0,180.7v-2.0" stroke="#f39a2e" stroke-width="0.7"/>
<path d="M21.7,180.7v-1.2 M22.4,180.7v-1.3 M23.8,180.7v-0.9 M25.2,180.7v-1.0 M26.6,180.7v-1.6 M27.3,180.7v-1.3 M28.0,180.7v-1.3 M29.4,180.7v-1.4 M30.8,180.7v-1.4 M31.5,180.7v-1.0 M32.2,180.7v-1.6 M32.9,180.7v-1.4 M35.7,180.7v-1.5 M36.4,180.7v-1.7 M37.8,180.7v-0.9 M38.5,180.7v-1.7 M39.2,180.7v-1.3 M39.9,180.7v-1.2 M40.6,180.7v-1.0 M41.3,180.7v-1.2 M46.2,180.7v-1.6 M48.3,180.7v-1.4 M49.0,180.7v-1.5 M49.7,180.7v-1.0 M50.4,180.7v-1.6 M51.8,180.7v-1.5 M52.5,180.7v-0.9 M53.2,180.7v-1.5 M54.6,180.7v-1.3 M55.3,180.7v-1.4 M56.0,180.7v-1.6 M57.4,180.7v-1.8 M58.1,180.7v-0.9 M58.8,180.7v-0.9 M59.5,180.7v-1.1 M60.9,180.7v-0.9 M62.3,180.7v-1.7 M63.7,180.7v-1.1 M64.4,180.7v-1.3 M65.1,180.7v-1.2 M67.2,180.7v-1.1 M68.6,180.7v-1.0 M70.0,180.7v-1.2 M70.7,180.7v-1.1 M71.4,180.7v-0.9 M73.5,180.7v-1.3 M74.2,180.7v-1.3 M74.9,180.7v-1.4 M76.3,180.7v-0.9 M78.4,180.7v-1.1 M79.1,180.7v-1.0 M79.8,180.7v-1.0 M80.5,180.7v-1.3 M81.2,180.7v-1.1 M82.6,180.7v-1.2 M84.0,180.7v-1.0 M85.4,180.7v-0.9 M86.1,180.7v-1.4 M86.8,180.7v-1.0 M87.5,180.7v-1.5 M88.2,180.7v-1.6 M88.9,180.7v-1.0 M91.0,180.7v-1.0 M91.7,180.7v-1.2 M92.4,180.7v-1.5 M93.8,180.7v-1.0 M96.6,180.7v-0.9 M97.3,180.7v-1.5 M98.0,180.7v-1.0 M98.7,180.7v-1.1 M99.4,180.7v-1.7 M100.1,180.7v-0.9 M102.9,180.7v-1.7 M104.3,180.7v-1.4 M106.4,180.7v-1.0 M107.1,180.7v-1.0 M107.8,180.7v-1.2 M108.5,180.7v-1.5 M109.2,180.7v-1.6 M112.7,180.7v-0.9 M114.1,180.7v-1.0 M115.5,180.7v-1.1 M117.6,180.7v-1.0 M119.0,180.7v-1.5 M119.7,180.7v-0.9 M120.4,180.7v-1.5 M121.1,180.7v-1.5 M123.9,180.7v-1.3 M125.3,180.7v-1.0 M126.0,180.7v-1.2 M126.7,180.7v-1.1 M128.1,180.7v-0.9 M128.8,180.7v-0.9 M129.5,180.7v-1.8 M130.9,180.7v-1.2 M131.6,180.7v-1.0 M132.3,180.7v-1.3 M133.0,180.7v-1.0 M133.7,180.7v-1.0 M134.4,180.7v-1.2 M135.8,180.7v-0.9 M136.5,180.7v-1.1 M138.6,180.7v-1.5 M140.0,180.7v-1.1 M140.7,180.7v-1.4 M141.4,180.7v-1.4 M142.1,180.7v-1.0 M142.8,180.7v-1.4 M143.5,180.7v-1.1 M144.2,180.7v-1.6 M145.6,180.7v-1.6 M147.0,180.7v-1.1 M147.7,180.7v-1.5 M151.9,180.7v-0.9 M152.6,180.7v-0.9 M153.3,180.7v-1.5 M154.0,180.7v-0.9 M154.7,180.7v-1.6 M155.4,180.7v-0.9 M156.8,180.7v-1.6 M159.6,180.7v-1.5 M160.3,180.7v-1.5 M161.0,180.7v-1.4 M161.7,180.7v-1.4 M163.1,180.7v-1.0 M163.8,180.7v-1.5 M164.5,180.7v-0.9 M165.2,180.7v-1.3 M166.6,180.7v-1.0 M167.3,180.7v-1.0 M168.0,180.7v-0.9 M168.7,180.7v-1.8 M169.4,180.7v-1.4 M170.1,180.7v-1.4 M172.2,180.7v-1.1 M174.3,180.7v-0.9 M176.4,180.7v-1.1 M177.8,180.7v-1.0 M178.5,180.7v-1.2 M179.2,180.7v-1.0 M181.3,180.7v-1.4 M182.0,180.7v-1.6 M182.7,180.7v-1.0 M183.4,180.7v-0.9 M184.1,180.7v-1.1 M184.8,180.7v-1.0 M185.5,180.7v-1.5 M186.2,180.7v-1.8 M186.9,180.7v-1.3 M187.6,180.7v-1.6 M189.0,180.7v-1.1 M191.1,180.7v-1.4 M192.5,180.7v-1.0 M193.2,180.7v-1.4 M196.0,180.7v-0.9 M196.7,180.7v-0.9 M199.5,180.7v-1.6 M200.2,180.7v-1.1 M201.6,180.7v-0.9 M203.0,180.7v-1.0 M203.7,180.7v-1.3 M204.4,180.7v-1.0 M205.1,180.7v-1.1 M205.8,180.7v-1.2 M207.2,180.7v-1.2 M207.9,180.7v-1.0 M209.3,180.7v-1.6" stroke="#f39a2e" stroke-width="0.7" fill="none"/>
<rect x="21.7" y="180.2" width="188.8" height="0.8" fill="#f7b878"/>
<path d="M120.1,199.6v-13.8" stroke="#f39a2e" stroke-width="1.0"/>
<path d="M142.8,199.6v-5.0" stroke="#f39a2e" stroke-width="0.8"/>
<path d="M150.4,199.6v-4.0" stroke="#f39a2e" stroke-width="0.8"/>
<path d="M159.1,199.6v-4.0" stroke="#f39a2e" stroke-width="0.8"/>
<path d="M170.0,199.6v-3.0" stroke="#f39a2e" stroke-width="0.7"/>
<path d="M173.5,199.6v-5.0" stroke="#f8c48c" stroke-width="0.8"/>
<path d="M180.6,199.6v-2.0" stroke="#f39a2e" stroke-width="0.7"/>
<path d="M72.7,199.6v-7.0" stroke="#f39a2e" stroke-width="0.9"/>
<path d="M185.0,199.6v-2.5" stroke="#f39a2e" stroke-width="0.7"/>
<path d="M21.7,199.6v-0.9 M22.4,199.6v-0.9 M23.1,199.6v-1.1 M25.9,199.6v-1.2 M26.6,199.6v-0.9 M27.3,199.6v-1.0 M30.8,199.6v-1.0 M34.3,199.6v-1.3 M35.7,199.6v-0.9 M36.4,199.6v-0.9 M38.5,199.6v-1.0 M39.9,199.6v-1.7 M41.3,199.6v-1.1 M42.0,199.6v-1.1 M42.7,199.6v-1.0 M44.1,199.6v-0.9 M45.5,199.6v-1.2 M46.2,199.6v-1.0 M47.6,199.6v-1.1 M48.3,199.6v-1.3 M49.0,199.6v-1.1 M50.4,199.6v-1.3 M51.8,199.6v-0.9 M52.5,199.6v-1.5 M53.9,199.6v-1.0 M54.6,199.6v-1.1 M55.3,199.6v-1.4 M58.8,199.6v-1.0 M60.9,199.6v-1.8 M63.0,199.6v-1.0 M63.7,199.6v-0.9 M64.4,199.6v-1.8 M65.1,199.6v-0.9 M65.8,199.6v-0.9 M67.2,199.6v-1.0 M67.9,199.6v-1.9 M68.6,199.6v-1.0 M69.3,199.6v-0.9 M70.0,199.6v-1.4 M70.7,199.6v-0.9 M71.4,199.6v-1.0 M72.8,199.6v-1.2 M74.2,199.6v-1.9 M74.9,199.6v-1.0 M75.6,199.6v-0.9 M76.3,199.6v-1.0 M78.4,199.6v-0.9 M79.1,199.6v-1.0 M79.8,199.6v-1.0 M81.2,199.6v-0.9 M82.6,199.6v-1.9 M83.3,199.6v-1.7 M86.1,199.6v-0.9 M86.8,199.6v-1.7 M88.9,199.6v-1.4 M91.7,199.6v-1.4 M93.1,199.6v-1.8 M94.5,199.6v-1.8 M96.6,199.6v-1.7 M97.3,199.6v-1.8 M98.7,199.6v-0.9 M100.1,199.6v-1.5 M101.5,199.6v-0.9 M102.9,199.6v-1.7 M103.6,199.6v-1.6 M105.7,199.6v-1.7 M106.4,199.6v-1.4 M107.1,199.6v-1.7 M108.5,199.6v-1.2 M109.2,199.6v-0.9 M109.9,199.6v-1.2 M112.0,199.6v-1.1 M113.4,199.6v-0.9 M115.5,199.6v-1.2 M116.2,199.6v-1.6 M116.9,199.6v-1.0 M117.6,199.6v-1.8 M118.3,199.6v-0.9 M120.4,199.6v-1.1 M122.5,199.6v-1.7 M123.2,199.6v-1.0 M124.6,199.6v-1.6 M125.3,199.6v-1.7 M126.0,199.6v-0.9 M126.7,199.6v-1.0 M127.4,199.6v-1.7 M128.8,199.6v-1.0 M129.5,199.6v-1.2 M130.9,199.6v-0.9 M131.6,199.6v-1.6 M132.3,199.6v-1.5 M135.8,199.6v-1.7 M136.5,199.6v-1.7 M137.2,199.6v-1.7 M139.3,199.6v-0.9 M140.7,199.6v-1.4 M141.4,199.6v-0.9 M142.1,199.6v-1.6 M142.8,199.6v-1.7 M143.5,199.6v-1.3 M144.2,199.6v-1.3 M144.9,199.6v-1.1 M146.3,199.6v-1.4 M147.0,199.6v-1.0 M147.7,199.6v-0.9 M151.9,199.6v-1.3 M152.6,199.6v-1.3 M155.4,199.6v-1.4 M158.9,199.6v-1.8 M159.6,199.6v-1.3 M161.7,199.6v-1.0 M162.4,199.6v-1.3 M164.5,199.6v-1.1 M165.9,199.6v-1.1 M166.6,199.6v-0.9 M167.3,199.6v-1.4 M168.7,199.6v-1.8 M170.1,199.6v-0.9 M173.6,199.6v-0.9 M174.3,199.6v-1.0 M177.1,199.6v-1.0 M177.8,199.6v-1.8 M178.5,199.6v-1.6 M179.9,199.6v-1.8 M180.6,199.6v-1.2 M181.3,199.6v-0.9 M182.0,199.6v-1.0 M182.7,199.6v-0.9 M184.1,199.6v-1.7 M189.0,199.6v-1.4 M190.4,199.6v-1.2 M191.1,199.6v-1.6 M191.8,199.6v-0.9 M192.5,199.6v-1.7 M193.2,199.6v-1.1 M195.3,199.6v-1.1 M196.0,199.6v-0.9 M197.4,199.6v-1.8 M198.1,199.6v-0.9 M200.2,199.6v-1.2 M200.9,199.6v-1.5 M201.6,199.6v-1.6 M205.1,199.6v-1.6 M206.5,199.6v-0.9 M208.6,199.6v-1.4" stroke="#f39a2e" stroke-width="0.7" fill="none"/>
<rect x="21.7" y="199.1" width="188.8" height="0.8" fill="#f7b878"/>
<text x="24.5" y="97.7" font-size="8.2">Wild type (C/C)</text>
<text x="24.5" y="116.6" font-size="8.2">Engineered (A/A)</text>
<text x="24.5" y="135.5" font-size="8.2">Wild type (C/C)</text>
<text x="24.5" y="154.4" font-size="8.2">Engineered (A/A)</text>
<text x="24.5" y="173.3" font-size="8.2">Wild type (C/C)</text>
<text x="24.5" y="192.2" font-size="8.2">Engineered (A/A)</text>
<clipPath id="clipb0"><polygon points="23.2,200.9 210.8,200.9 117.0,258.3"/></clipPath>
<mask id="mb0"><rect x="23.2" y="200.9" width="187.6" height="57.4" fill="url(#mB)"/></mask>
<g clip-path="url(#clipb0)"><rect x="23.2" y="200.9" width="187.6" height="57.4" fill="url(#triB)"/><g mask="url(#mb0)"><rect x="23.2" y="200.9" width="187.6" height="57.4" filter="url(#spk)" opacity="0.75"/></g>
<ellipse cx="85.0" cy="218.0" rx="16" ry="9" fill="url(#cloud)"/>
<ellipse cx="170.0" cy="214.0" rx="12" ry="7" fill="url(#cloud)"/>
<ellipse cx="130.0" cy="208.0" rx="25" ry="6" fill="url(#cloud)"/>
<path d="M23.2,200.9 L23.2,203.7 L24.2,206.3 L25.2,206.9 L26.2,203.2 L27.2,205.5 L28.2,206.7 L29.2,204.3 L30.2,203.0 L31.2,206.1 L32.2,204.1 L33.2,205.1 L34.2,204.7 L35.2,203.9 L36.2,204.9 L37.2,204.6 L38.2,203.0 L39.2,203.0 L40.2,204.3 L41.2,203.5 L42.2,202.9 L43.2,204.2 L44.2,204.0 L45.2,204.1 L46.2,203.2 L47.2,203.9 L48.2,203.3 L49.2,204.8 L50.2,203.8 L51.2,204.6 L52.2,204.2 L53.2,206.1 L54.2,206.0 L55.2,204.8 L56.2,206.7 L57.2,204.4 L58.2,206.0 L59.2,203.4 L60.2,203.8 L61.2,203.9 L62.2,205.5 L63.2,205.1 L64.2,203.7 L65.2,208.6 L66.2,205.7 L67.2,203.1 L68.2,208.2 L69.2,205.9 L70.2,203.4 L71.2,203.8 L72.2,205.9 L73.2,207.5 L74.2,206.0 L75.2,209.4 L76.2,206.8 L77.2,207.7 L78.2,205.0 L79.2,206.0 L80.2,203.6 L81.2,204.5 L82.2,203.4 L83.2,206.5 L84.2,206.5 L85.2,204.6 L86.2,204.7 L87.2,205.9 L88.2,204.5 L89.2,204.4 L90.2,205.3 L91.2,204.9 L92.2,203.4 L93.2,203.2 L94.2,203.7 L95.2,203.5 L96.2,203.8 L97.2,203.7 L98.2,203.8 L99.2,203.2 L100.2,203.2 L101.2,203.9 L102.2,204.2 L103.2,204.4 L104.2,203.9 L105.2,203.7 L106.2,204.8 L107.2,203.6 L108.2,203.5 L109.2,204.1 L110.2,203.7 L111.2,203.4 L112.2,203.4 L113.2,206.5 L114.2,206.2 L115.2,206.3 L116.2,203.0 L117.2,208.2 L118.2,205.7 L119.2,208.6 L120.2,207.6 L121.2,205.7 L122.2,208.3 L123.2,206.4 L124.2,209.6 L125.2,204.3 L126.2,204.1 L127.2,209.2 L128.2,203.3 L129.2,204.0 L130.2,203.1 L131.2,203.3 L132.2,206.6 L133.2,208.4 L134.2,204.1 L135.2,205.4 L136.2,208.2 L137.2,204.1 L138.2,207.2 L139.2,205.5 L140.2,205.6 L141.2,206.8 L142.2,204.9 L143.2,206.2 L144.2,204.4 L145.2,205.5 L146.2,203.8 L147.2,204.2 L148.2,203.3 L149.2,204.1 L150.2,203.8 L151.2,204.0 L152.2,203.5 L153.2,203.6 L154.2,203.9 L155.2,203.8 L156.2,203.7 L157.2,203.6 L158.2,203.6 L159.2,203.2 L160.2,203.2 L161.2,204.5 L162.2,202.9 L163.2,203.0 L164.2,203.9 L165.2,204.5 L166.2,204.9 L167.2,205.1 L168.2,205.9 L169.2,203.0 L170.2,204.6 L171.2,205.4 L172.2,207.6 L173.2,207.9 L174.2,208.3 L175.2,208.0 L176.2,207.8 L177.2,208.6 L178.2,204.2 L179.2,203.3 L180.2,209.6 L181.2,208.5 L182.2,204.4 L183.2,206.5 L184.2,206.7 L185.2,207.8 L186.2,205.0 L187.2,208.7 L188.2,206.4 L189.2,206.9 L190.2,208.3 L191.2,204.2 L192.2,206.0 L193.2,207.9 L194.2,203.4 L195.2,206.6 L196.2,205.7 L197.2,206.2 L198.2,205.3 L199.2,203.9 L200.2,204.8 L201.2,204.4 L202.2,205.5 L203.2,203.2 L204.2,205.2 L205.2,203.3 L206.2,203.2 L207.2,203.8 L208.2,203.6 L209.2,204.2 L210.2,203.0 L210.8,200.9Z" fill="#f00808" opacity="0.3"/>
<path d="M23.2,200.9 L23.2,202.1 L23.9,202.3 L24.6,202.6 L25.3,201.9 L26.0,202.4 L26.7,202.1 L27.4,202.1 L28.1,201.9 L28.8,202.4 L29.5,202.4 L30.2,202.2 L30.9,202.3 L31.6,201.9 L32.3,202.5 L33.0,203.1 L33.7,203.5 L34.4,203.1 L35.1,202.6 L35.8,203.0 L36.5,202.6 L37.2,203.7 L37.9,203.6 L38.6,203.0 L39.3,202.0 L40.0,202.1 L40.7,202.9 L41.4,202.8 L42.1,204.1 L42.8,203.6 L43.5,203.3 L44.2,202.8 L44.9,203.5 L45.6,202.2 L46.3,204.1 L47.0,203.1 L47.7,201.9 L48.4,202.4 L49.1,203.7 L49.8,203.1 L50.5,205.7 L51.2,205.4 L51.9,204.7 L52.6,205.8 L53.3,204.0 L54.0,204.2 L54.7,205.7 L55.4,203.9 L56.1,204.6 L56.8,204.0 L57.5,204.0 L58.2,205.0 L58.9,202.8 L59.6,203.8 L60.3,204.7 L61.0,202.1 L61.7,201.9 L62.4,203.8 L63.1,203.1 L63.8,204.4 L64.5,202.8 L65.2,204.1 L65.9,203.2 L66.6,202.3 L67.3,202.7 L68.0,203.2 L68.7,202.9 L69.4,202.6 L70.1,203.6 L70.8,202.3 L71.5,203.1 L72.2,202.3 L72.9,202.2 L73.6,202.0 L74.3,203.0 L75.0,202.0 L75.7,202.9 L76.4,202.3 L77.1,202.7 L77.8,202.4 L78.5,202.0 L79.2,201.9 L79.9,202.2 L80.6,202.4 L81.3,202.5 L82.0,202.3 L82.7,202.1 L83.4,201.9 L84.1,202.7 L84.8,202.8 L85.5,202.0 L86.2,202.9 L86.9,202.9 L87.6,202.2 L88.3,202.2 L89.0,202.4 L89.7,202.5 L90.4,201.9 L91.1,203.3 L91.8,202.2 L92.5,203.0 L93.2,202.7 L93.9,202.7 L94.6,202.2 L95.3,202.5 L96.0,201.9 L96.7,204.3 L97.4,203.0 L98.1,204.1 L98.8,204.4 L99.5,204.7 L100.2,203.3 L100.9,204.8 L101.6,203.2 L102.3,205.2 L103.0,205.0 L103.7,203.4 L104.4,203.4 L105.1,202.1 L105.8,204.1 L106.5,204.2 L107.2,202.9 L107.9,204.4 L108.6,202.7 L109.3,204.3 L110.0,204.1 L110.7,205.7 L111.4,205.2 L112.1,203.6 L112.8,205.3 L113.5,202.8 L114.2,203.6 L114.9,204.0 L115.6,204.5 L116.3,205.4 L117.0,204.1 L117.7,204.1 L118.4,202.5 L119.1,203.8 L119.8,204.5 L120.5,203.8 L121.2,202.2 L121.9,203.1 L122.6,202.1 L123.3,201.9 L124.0,202.4 L124.7,202.3 L125.4,203.0 L126.1,203.7 L126.8,202.0 L127.5,203.0 L128.2,202.9 L128.9,202.1 L129.6,202.3 L130.3,203.2 L131.0,203.0 L131.7,201.9 L132.4,202.2 L133.1,202.5 L133.8,202.0 L134.5,202.3 L135.2,202.7 L135.9,202.3 L136.6,202.1 L137.3,202.2 L138.0,202.2 L138.7,202.0 L139.4,202.7 L140.1,202.0 L140.8,202.0 L141.5,202.5 L142.2,202.6 L142.9,202.9 L143.6,202.9 L144.3,202.8 L145.0,202.7 L145.7,202.8 L146.4,202.1 L147.1,203.0 L147.8,202.6 L148.5,202.1 L149.2,202.6 L149.9,203.9 L150.6,202.2 L151.3,202.4 L152.0,203.0 L152.7,203.1 L153.4,202.5 L154.1,203.0 L154.8,203.5 L155.5,203.5 L156.2,204.6 L156.9,202.6 L157.6,202.9 L158.3,204.1 L159.0,205.0 L159.7,203.0 L160.4,205.0 L161.1,204.4 L161.8,203.4 L162.5,203.3 L163.2,203.7 L163.9,203.6 L164.6,204.0 L165.3,205.4 L166.0,203.5 L166.7,203.3 L167.4,203.4 L168.1,204.2 L168.8,205.0 L169.5,202.8 L170.2,205.6 L170.9,203.2 L171.6,202.7 L172.3,204.3 L173.0,202.1 L173.7,203.6 L174.4,202.8 L175.1,203.6 L175.8,203.9 L176.5,202.7 L177.2,204.1 L177.9,202.8 L178.6,202.1 L179.3,201.9 L180.0,204.0 L180.7,203.6 L181.4,202.3 L182.1,203.8 L182.8,202.6 L183.5,202.4 L184.2,203.2 L184.9,203.0 L185.6,202.3 L186.3,202.6 L187.0,202.6 L187.7,202.9 L188.4,202.7 L189.1,202.6 L189.8,202.1 L190.5,202.5 L191.2,202.5 L191.9,202.7 L192.6,202.6 L193.3,202.3 L194.0,202.0 L194.7,202.2 L195.4,202.3 L196.1,202.1 L196.8,201.9 L197.5,202.2 L198.2,202.8 L198.9,202.8 L199.6,202.2 L200.3,202.5 L201.0,202.0 L201.7,202.9 L202.4,202.5 L203.1,202.8 L203.8,203.0 L204.5,202.3 L205.2,202.8 L205.9,203.3 L206.6,203.7 L207.3,203.1 L208.0,203.8 L208.7,202.0 L209.4,202.7 L210.1,204.6 L210.8,204.1 L210.8,200.9Z" fill="#f00808" opacity="0.45"/>
<path d="M23.2,200.9 L23.2,202.7 L23.7,202.4 L24.2,202.6 L24.7,202.4 L25.2,202.6 L25.7,203.3 L26.2,202.7 L26.7,201.5 L27.2,201.6 L27.7,203.0 L28.2,202.7 L28.7,203.0 L29.2,202.2 L29.7,201.6 L30.2,203.0 L30.7,202.8 L31.2,202.6 L31.7,203.4 L32.2,203.2 L32.7,202.2 L33.2,202.8 L33.7,202.3 L34.2,201.7 L34.7,201.5 L35.2,203.2 L35.7,202.8 L36.2,203.2 L36.7,203.4 L37.2,202.0 L37.7,201.4 L38.2,201.5 L38.7,201.7 L39.2,201.7 L39.7,201.9 L40.2,202.4 L40.7,202.8 L41.2,201.9 L41.7,201.9 L42.2,201.7 L42.7,202.4 L43.2,202.5 L43.7,201.6 L44.2,201.8 L44.7,203.2 L45.2,202.1 L45.7,202.6 L46.2,202.9 L46.7,202.5 L47.2,202.1 L47.7,202.5 L48.2,201.6 L48.7,202.3 L49.2,201.8 L49.7,202.0 L50.2,201.9 L50.7,202.4 L51.2,201.8 L51.7,202.2 L52.2,201.8 L52.7,202.0 L53.2,202.1 L53.7,201.6 L54.2,201.7 L54.7,201.9 L55.2,202.1 L55.7,201.7 L56.2,201.4 L56.7,201.5 L57.2,201.8 L57.7,201.5 L58.2,201.6 L58.7,201.9 L59.2,201.7 L59.7,201.8 L60.2,201.9 L60.7,201.5 L61.2,201.5 L61.7,201.5 L62.2,201.9 L62.7,201.6 L63.2,201.6 L63.7,201.8 L64.2,201.9 L64.7,201.8 L65.2,201.5 L65.7,201.7 L66.2,201.7 L66.7,201.6 L67.2,201.6 L67.7,201.6 L68.2,201.6 L68.7,201.6 L69.2,201.9 L69.7,202.0 L70.2,201.9 L70.7,202.0 L71.2,202.2 L71.7,202.3 L72.2,202.3 L72.7,201.8 L73.2,201.8 L73.7,201.9 L74.2,202.1 L74.7,202.3 L75.2,201.6 L75.7,201.8 L76.2,202.5 L76.7,202.6 L77.2,201.6 L77.7,202.3 L78.2,202.5 L78.7,202.3 L79.2,202.0 L79.7,201.9 L80.2,202.9 L80.7,202.8 L81.2,203.0 L81.7,201.8 L82.2,201.9 L82.7,203.1 L83.2,202.5 L83.7,201.5 L84.2,202.8 L84.7,202.9 L85.2,201.8 L85.7,202.9 L86.2,202.3 L86.7,203.4 L87.2,203.7 L87.7,202.3 L88.2,202.1 L88.7,202.9 L89.2,201.6 L89.7,203.1 L90.2,203.7 L90.7,203.1 L91.2,201.4 L91.7,202.4 L92.2,202.5 L92.7,202.7 L93.2,203.6 L93.7,202.7 L94.2,203.8 L94.7,203.6 L95.2,203.4 L95.7,203.4 L96.2,201.8 L96.7,202.0 L97.2,203.1 L97.7,203.3 L98.2,202.8 L98.7,202.6 L99.2,202.0 L99.7,202.2 L100.2,201.7 L100.7,202.6 L101.2,202.9 L101.7,202.6 L102.2,202.3 L102.7,202.5 L103.2,201.8 L103.7,202.0 L104.2,202.3 L104.7,202.0 L105.2,201.9 L105.7,201.6 L106.2,202.1 L106.7,201.9 L107.2,201.9 L107.7,202.1 L108.2,201.4 L108.7,201.9 L109.2,202.0 L109.7,201.4 L110.2,201.4 L110.7,201.5 L111.2,201.8 L111.7,201.6 L112.2,202.0 L112.7,201.4 L113.2,202.1 L113.7,201.5 L114.2,201.9 L114.7,202.0 L115.2,201.6 L115.7,201.9 L116.2,201.5 L116.7,201.9 L117.2,201.4 L117.7,201.8 L118.2,201.9 L118.7,201.6 L119.2,201.5 L119.7,201.5 L120.2,201.4 L120.7,201.7 L121.2,201.8 L121.7,201.5 L122.2,201.8 L122.7,201.6 L123.2,201.6 L123.7,201.5 L124.2,201.5 L124.7,201.6 L125.2,201.5 L125.7,201.7 L126.2,201.8 L126.7,202.0 L127.2,202.1 L127.7,202.1 L128.2,201.5 L128.7,202.2 L129.2,202.2 L129.7,201.7 L130.2,201.7 L130.7,201.9 L131.2,202.2 L131.7,202.1 L132.2,201.7 L132.7,202.0 L133.2,202.2 L133.7,201.9 L134.2,202.6 L134.7,201.9 L135.2,202.7 L135.7,202.2 L136.2,202.5 L136.7,202.2 L137.2,202.1 L137.7,201.9 L138.2,202.4 L138.7,203.0 L139.2,201.6 L139.7,201.7 L140.2,201.5 L140.7,203.0 L141.2,201.8 L141.7,202.2 L142.2,202.5 L142.7,203.1 L143.2,203.6 L143.7,201.6 L144.2,202.4 L144.7,202.4 L145.2,202.1 L145.7,202.0 L146.2,202.7 L146.7,203.3 L147.2,203.6 L147.7,202.7 L148.2,202.0 L148.7,202.1 L149.2,202.0 L149.7,203.5 L150.2,203.3 L150.7,201.6 L151.2,202.1 L151.7,201.8 L152.2,202.0 L152.7,202.2 L153.2,202.4 L153.7,202.5 L154.2,203.6 L154.7,202.2 L155.2,202.5 L155.7,201.6 L156.2,203.1 L156.7,201.8 L157.2,202.2 L157.7,201.6 L158.2,202.2 L158.7,201.9 L159.2,201.7 L159.7,202.0 L160.2,202.4 L160.7,202.4 L161.2,202.5 L161.7,202.6 L162.2,202.6 L162.7,202.2 L163.2,202.4 L163.7,202.6 L164.2,202.6 L164.7,202.3 L165.2,202.2 L165.7,201.5 L166.2,202.4 L166.7,202.0 L167.2,201.6 L167.7,201.7 L168.2,201.4 L168.7,202.1 L169.2,201.5 L169.7,201.7 L170.2,201.7 L170.7,202.0 L171.2,201.5 L171.7,201.4 L172.2,201.8 L172.7,201.9 L173.2,201.9 L173.7,201.9 L174.2,201.8 L174.7,201.6 L175.2,201.9 L175.7,201.8 L176.2,201.9 L176.7,201.5 L177.2,201.5 L177.7,201.6 L178.2,201.7 L178.7,201.6 L179.2,201.8 L179.7,201.5 L180.2,201.9 L180.7,201.9 L181.2,202.0 L181.7,201.8 L182.2,201.5 L182.7,201.7 L183.2,201.9 L183.7,201.5 L184.2,201.6 L184.7,201.9 L185.2,201.5 L185.7,201.5 L186.2,202.0 L186.7,202.4 L187.2,202.3 L187.7,202.3 L188.2,202.3 L188.7,202.4 L189.2,202.3 L189.7,202.4 L190.2,202.4 L190.7,201.9 L191.2,201.6 L191.7,202.7 L192.2,201.7 L192.7,202.5 L193.2,202.8 L193.7,202.0 L194.2,201.9 L194.7,201.6 L195.2,201.4 L195.7,201.8 L196.2,202.5 L196.7,203.4 L197.2,203.1 L197.7,201.7 L198.2,202.8 L198.7,203.2 L199.2,202.0 L199.7,203.3 L200.2,202.8 L200.7,203.8 L201.2,202.5 L201.7,201.9 L202.2,203.1 L202.7,202.5 L203.2,202.3 L203.7,201.8 L204.2,202.3 L204.7,202.4 L205.2,203.3 L205.7,203.0 L206.2,203.5 L206.7,202.8 L207.2,203.1 L207.7,203.3 L208.2,203.4 L208.7,203.5 L209.2,201.4 L209.7,203.6 L210.2,202.6 L210.7,201.9 L210.8,200.9Z" fill="#f00808" opacity="0.5"/>
<mask id="wb0"><rect x="23.2" y="200.9" width="187.6" height="57.4" fill="url(#wmB)"/></mask>
<g mask="url(#wb0)"><rect x="23.2" y="200.9" width="187.6" height="57.4" filter="url(#wspk)" opacity="0.55"/></g>
</g>
<rect x="23.2" y="200.7" width="187.6" height="1.8" fill="#f00000"/>
<circle cx="85.1" cy="216.1" r="1.3" fill="#f22"/>
<circle cx="85.1" cy="216.1" r="2.6" fill="none" stroke="#111" stroke-width="1.3"/>
<circle cx="168.2" cy="216.1" r="1.3" fill="#f22"/>
<circle cx="168.2" cy="216.1" r="2.6" fill="none" stroke="#111" stroke-width="1.3"/>
<circle cx="178.7" cy="206.7" r="1.3" fill="#f22"/>
<circle cx="178.7" cy="206.7" r="2.6" fill="none" stroke="#111" stroke-width="1.3"/>
<rect x="17.5" y="222.5" width="7" height="16" fill="url(#cbr)" stroke="#999" stroke-width="0.4"/>
<text x="25.2" y="226.3" font-size="8.5">21</text>
<text x="25.2" y="242.3" font-size="8.5">0</text>
<text x="114.5" y="244.4" font-size="9" text-anchor="middle">GM12878 Engineered (A/A)</text>
<text x="114.5" y="255.2" font-size="9" text-anchor="middle">ICE-normalized</text>
<rect x="297.80" y="58.00" width="5.50" height="143.00" fill="#fcf6bf"/>
<rect x="345.40" y="58.00" width="5.40" height="143.00" fill="#fcf6bf"/>
<clipPath id="clipt228"><polygon points="251.2,56.6 438.8,56.6 345.0,-0.8"/></clipPath>
<mask id="mt228"><rect x="251.2" y="-0.8" width="187.6" height="57.4" fill="url(#mT)"/></mask>
<g clip-path="url(#clipt228)"><rect x="251.2" y="-0.8" width="187.6" height="57.4" fill="url(#triT)"/><g mask="url(#mt228)"><rect x="251.2" y="-0.8" width="187.6" height="57.4" filter="url(#spk)" opacity="0.75"/></g>
<ellipse cx="318.0" cy="38.0" rx="14" ry="8" fill="url(#cloud)"/>
<ellipse cx="406.0" cy="48.0" rx="10" ry="6" fill="url(#cloud)"/>
<path d="M251.2,56.6 L251.2,49.0 L252.2,52.7 L253.2,51.2 L254.2,52.2 L255.2,52.9 L256.2,51.7 L257.2,53.5 L258.2,52.4 L259.2,51.5 L260.2,51.7 L261.2,52.4 L262.2,54.2 L263.2,52.8 L264.2,54.6 L265.2,54.2 L266.2,54.4 L267.2,53.4 L268.2,53.8 L269.2,53.2 L270.2,53.7 L271.2,53.8 L272.2,53.5 L273.2,53.4 L274.2,54.4 L275.2,54.5 L276.2,53.7 L277.2,52.5 L278.2,54.1 L279.2,53.0 L280.2,53.0 L281.2,51.8 L282.2,52.2 L283.2,53.9 L284.2,51.5 L285.2,52.6 L286.2,50.9 L287.2,52.3 L288.2,52.3 L289.2,52.7 L290.2,50.6 L291.2,49.3 L292.2,53.2 L293.2,50.0 L294.2,53.8 L295.2,50.4 L296.2,51.5 L297.2,52.6 L298.2,50.7 L299.2,49.8 L300.2,52.4 L301.2,53.7 L302.2,53.5 L303.2,52.4 L304.2,51.9 L305.2,52.5 L306.2,54.4 L307.2,49.4 L308.2,49.5 L309.2,53.6 L310.2,51.9 L311.2,51.7 L312.2,53.6 L313.2,52.0 L314.2,51.5 L315.2,53.2 L316.2,54.5 L317.2,52.7 L318.2,54.0 L319.2,53.6 L320.2,53.6 L321.2,52.8 L322.2,54.1 L323.2,54.0 L324.2,54.4 L325.2,53.5 L326.2,53.2 L327.2,54.2 L328.2,53.2 L329.2,54.4 L330.2,53.4 L331.2,54.0 L332.2,53.7 L333.2,53.8 L334.2,52.4 L335.2,52.8 L336.2,52.0 L337.2,52.7 L338.2,52.9 L339.2,54.4 L340.2,53.8 L341.2,52.9 L342.2,50.4 L343.2,54.5 L344.2,53.0 L345.2,49.3 L346.2,52.2 L347.2,50.1 L348.2,48.8 L349.2,51.6 L350.2,51.0 L351.2,52.8 L352.2,51.3 L353.2,53.4 L354.2,51.1 L355.2,52.6 L356.2,53.4 L357.2,48.1 L358.2,53.8 L359.2,52.3 L360.2,50.8 L361.2,54.5 L362.2,50.6 L363.2,53.7 L364.2,53.9 L365.2,50.1 L366.2,53.2 L367.2,50.7 L368.2,50.6 L369.2,53.4 L370.2,51.8 L371.2,51.7 L372.2,52.1 L373.2,52.6 L374.2,52.7 L375.2,52.3 L376.2,52.7 L377.2,53.4 L378.2,53.3 L379.2,54.4 L380.2,53.4 L381.2,54.4 L382.2,54.2 L383.2,54.0 L384.2,53.3 L385.2,54.0 L386.2,53.8 L387.2,53.6 L388.2,53.6 L389.2,53.6 L390.2,52.7 L391.2,52.7 L392.2,53.3 L393.2,54.0 L394.2,52.7 L395.2,53.8 L396.2,52.9 L397.2,51.5 L398.2,53.0 L399.2,51.5 L400.2,52.7 L401.2,53.2 L402.2,52.7 L403.2,50.0 L404.2,49.7 L405.2,48.6 L406.2,52.1 L407.2,54.3 L408.2,50.0 L409.2,53.8 L410.2,51.1 L411.2,49.2 L412.2,52.6 L413.2,50.3 L414.2,51.6 L415.2,54.0 L416.2,54.3 L417.2,49.4 L418.2,51.8 L419.2,51.0 L420.2,50.1 L421.2,52.6 L422.2,52.6 L423.2,49.8 L424.2,53.2 L425.2,54.1 L426.2,52.3 L427.2,51.6 L428.2,54.4 L429.2,53.4 L430.2,52.8 L431.2,52.4 L432.2,54.3 L433.2,54.0 L434.2,53.7 L435.2,53.0 L436.2,53.2 L437.2,54.0 L438.2,53.3 L438.8,56.6Z" fill="#f00808" opacity="0.3"/>
<path d="M251.2,56.6 L251.2,55.3 L251.9,55.5 L252.6,54.9 L253.3,55.4 L254.0,55.3 L254.7,55.3 L255.4,55.4 L256.1,55.0 L256.8,54.8 L257.5,54.8 L258.2,55.2 L258.9,55.4 L259.6,55.0 L260.3,54.3 L261.0,54.3 L261.7,54.2 L262.4,55.3 L263.1,54.7 L263.8,53.9 L264.5,55.5 L265.2,53.6 L265.9,55.2 L266.6,53.7 L267.3,54.5 L268.0,54.3 L268.7,54.8 L269.4,55.1 L270.1,54.5 L270.8,54.9 L271.5,54.9 L272.2,53.2 L272.9,54.5 L273.6,54.5 L274.3,54.8 L275.0,54.7 L275.7,54.6 L276.4,52.3 L277.1,52.0 L277.8,54.3 L278.5,54.5 L279.2,55.5 L279.9,54.0 L280.6,53.9 L281.3,53.1 L282.0,55.3 L282.7,55.1 L283.4,52.1 L284.1,52.4 L284.8,53.0 L285.5,55.4 L286.2,53.2 L286.9,52.9 L287.6,54.1 L288.3,54.1 L289.0,55.5 L289.7,54.5 L290.4,54.0 L291.1,52.6 L291.8,54.2 L292.5,53.8 L293.2,53.3 L293.9,54.3 L294.6,55.4 L295.3,53.8 L296.0,54.6 L296.7,53.7 L297.4,54.8 L298.1,55.4 L298.8,54.2 L299.5,55.1 L300.2,54.5 L300.9,54.5 L301.6,54.7 L302.3,55.3 L303.0,55.1 L303.7,55.4 L304.4,54.8 L305.1,55.4 L305.8,55.6 L306.5,54.8 L307.2,55.1 L307.9,55.1 L308.6,55.2 L309.3,55.3 L310.0,55.1 L310.7,55.3 L311.4,54.8 L312.1,55.2 L312.8,54.9 L313.5,54.7 L314.2,55.5 L314.9,54.6 L315.6,55.3 L316.3,54.5 L317.0,54.6 L317.7,55.1 L318.4,55.2 L319.1,55.3 L319.8,54.7 L320.5,53.7 L321.2,55.2 L321.9,53.6 L322.6,53.3 L323.3,53.3 L324.0,55.2 L324.7,55.2 L325.4,54.6 L326.1,52.7 L326.8,55.6 L327.5,54.5 L328.2,55.3 L328.9,54.4 L329.6,53.2 L330.3,54.1 L331.0,53.4 L331.7,55.3 L332.4,52.7 L333.1,54.8 L333.8,53.4 L334.5,55.4 L335.2,52.5 L335.9,52.9 L336.6,53.1 L337.3,52.7 L338.0,55.3 L338.7,55.5 L339.4,55.6 L340.1,54.6 L340.8,54.3 L341.5,54.6 L342.2,55.4 L342.9,53.7 L343.6,53.4 L344.3,54.3 L345.0,54.5 L345.7,52.8 L346.4,52.6 L347.1,54.5 L347.8,54.0 L348.5,54.0 L349.2,54.2 L349.9,55.3 L350.6,55.2 L351.3,54.5 L352.0,54.4 L352.7,55.6 L353.4,55.3 L354.1,54.1 L354.8,54.1 L355.5,55.4 L356.2,54.1 L356.9,54.5 L357.6,54.3 L358.3,54.4 L359.0,55.3 L359.7,54.9 L360.4,54.7 L361.1,55.1 L361.8,55.3 L362.5,54.7 L363.2,55.1 L363.9,55.2 L364.6,55.4 L365.3,55.1 L366.0,55.3 L366.7,55.5 L367.4,55.3 L368.1,54.8 L368.8,55.4 L369.5,54.9 L370.2,55.5 L370.9,54.9 L371.6,54.7 L372.3,55.4 L373.0,54.6 L373.7,55.5 L374.4,54.8 L375.1,55.2 L375.8,54.9 L376.5,55.1 L377.2,54.2 L377.9,55.6 L378.6,54.5 L379.3,55.0 L380.0,53.5 L380.7,55.4 L381.4,55.5 L382.1,55.1 L382.8,54.8 L383.5,52.9 L384.2,52.7 L384.9,54.9 L385.6,53.3 L386.3,55.0 L387.0,53.8 L387.7,54.4 L388.4,54.9 L389.1,52.0 L389.8,54.8 L390.5,53.3 L391.2,52.4 L391.9,55.6 L392.6,55.2 L393.3,51.8 L394.0,54.3 L394.7,52.3 L395.4,54.5 L396.1,53.9 L396.8,52.9 L397.5,54.6 L398.2,52.5 L398.9,52.0 L399.6,52.9 L400.3,54.6 L401.0,55.6 L401.7,53.2 L402.4,52.5 L403.1,53.1 L403.8,53.8 L404.5,55.3 L405.2,54.1 L405.9,53.9 L406.6,55.1 L407.3,53.9 L408.0,53.6 L408.7,54.8 L409.4,55.5 L410.1,55.0 L410.8,55.3 L411.5,53.8 L412.2,55.1 L412.9,54.6 L413.6,55.3 L414.3,54.7 L415.0,55.1 L415.7,54.9 L416.4,55.2 L417.1,55.4 L417.8,55.0 L418.5,55.4 L419.2,55.0 L419.9,55.5 L420.6,54.9 L421.3,55.6 L422.0,55.0 L422.7,55.4 L423.4,54.8 L424.1,55.4 L424.8,54.9 L425.5,55.5 L426.2,55.4 L426.9,54.8 L427.6,54.8 L428.3,55.0 L429.0,55.3 L429.7,55.3 L430.4,54.3 L431.1,55.3 L431.8,54.8 L432.5,54.9 L433.2,55.4 L433.9,55.2 L434.6,54.5 L435.3,53.9 L436.0,53.5 L436.7,54.6 L437.4,55.0 L438.1,53.5 L438.8,52.9 L438.8,56.6Z" fill="#f00808" opacity="0.45"/>
<path d="M251.2,56.6 L251.2,55.1 L251.7,54.4 L252.2,54.5 L252.7,55.8 L253.2,54.3 L253.7,54.8 L254.2,54.2 L254.7,54.6 L255.2,55.6 L255.7,55.5 L256.2,54.3 L256.7,55.0 L257.2,55.2 L257.7,54.4 L258.2,55.4 L258.7,54.9 L259.2,54.7 L259.7,53.9 L260.2,54.4 L260.7,55.5 L261.2,54.3 L261.7,54.6 L262.2,54.5 L262.7,55.0 L263.2,55.8 L263.7,55.3 L264.2,54.3 L264.7,54.3 L265.2,55.0 L265.7,54.7 L266.2,56.0 L266.7,53.9 L267.2,54.4 L267.7,54.4 L268.2,54.7 L268.7,54.6 L269.2,54.7 L269.7,55.7 L270.2,55.2 L270.7,55.8 L271.2,55.7 L271.7,55.8 L272.2,55.8 L272.7,56.1 L273.2,54.2 L273.7,55.1 L274.2,55.3 L274.7,54.6 L275.2,55.6 L275.7,55.0 L276.2,54.8 L276.7,55.7 L277.2,55.9 L277.7,56.1 L278.2,54.9 L278.7,55.0 L279.2,55.6 L279.7,55.5 L280.2,55.3 L280.7,55.8 L281.2,55.7 L281.7,55.2 L282.2,55.3 L282.7,56.0 L283.2,55.9 L283.7,55.7 L284.2,56.0 L284.7,55.7 L285.2,55.7 L285.7,55.6 L286.2,56.0 L286.7,56.0 L287.2,55.7 L287.7,55.8 L288.2,55.6 L288.7,55.7 L289.2,56.0 L289.7,55.8 L290.2,55.9 L290.7,55.9 L291.2,56.1 L291.7,56.0 L292.2,56.0 L292.7,56.0 L293.2,55.7 L293.7,55.6 L294.2,55.6 L294.7,56.0 L295.2,55.5 L295.7,55.5 L296.2,55.5 L296.7,55.9 L297.2,55.8 L297.7,55.9 L298.2,55.4 L298.7,55.8 L299.2,55.4 L299.7,55.7 L300.2,55.9 L300.7,55.5 L301.2,55.2 L301.7,55.1 L302.2,55.2 L302.7,55.8 L303.2,55.8 L303.7,55.1 L304.2,55.0 L304.7,55.4 L305.2,54.8 L305.7,54.9 L306.2,55.3 L306.7,54.9 L307.2,54.6 L307.7,54.5 L308.2,54.8 L308.7,55.9 L309.2,54.8 L309.7,55.8 L310.2,55.1 L310.7,54.0 L311.2,55.4 L311.7,54.6 L312.2,54.1 L312.7,54.3 L313.2,56.0 L313.7,54.5 L314.2,54.6 L314.7,54.1 L315.2,53.9 L315.7,55.3 L316.2,54.5 L316.7,55.9 L317.2,55.5 L317.7,54.4 L318.2,53.6 L318.7,53.8 L319.2,55.8 L319.7,54.1 L320.2,55.7 L320.7,54.8 L321.2,54.9 L321.7,54.7 L322.2,54.8 L322.7,54.7 L323.2,55.9 L323.7,55.5 L324.2,55.2 L324.7,54.8 L325.2,54.8 L325.7,55.5 L326.2,54.9 L326.7,54.3 L327.2,55.7 L327.7,55.4 L328.2,54.6 L328.7,55.7 L329.2,55.3 L329.7,55.5 L330.2,56.0 L330.7,54.6 L331.2,54.6 L331.7,55.8 L332.2,55.8 L332.7,55.6 L333.2,54.8 L333.7,54.9 L334.2,55.3 L334.7,54.9 L335.2,55.6 L335.7,55.9 L336.2,55.1 L336.7,55.7 L337.2,55.9 L337.7,55.2 L338.2,55.6 L338.7,55.3 L339.2,56.0 L339.7,55.4 L340.2,55.6 L340.7,56.0 L341.2,55.5 L341.7,55.9 L342.2,55.8 L342.7,55.9 L343.2,55.6 L343.7,55.8 L344.2,55.9 L344.7,55.7 L345.2,55.8 L345.7,55.7 L346.2,56.0 L346.7,55.9 L347.2,55.8 L347.7,55.9 L348.2,55.7 L348.7,56.0 L349.2,55.8 L349.7,56.0 L350.2,56.0 L350.7,56.0 L351.2,56.0 L351.7,55.9 L352.2,55.6 L352.7,55.7 L353.2,55.5 L353.7,55.9 L354.2,56.0 L354.7,56.0 L355.2,56.1 L355.7,55.2 L356.2,55.5 L356.7,55.6 L357.2,55.9 L357.7,56.1 L358.2,55.2 L358.7,55.6 L359.2,55.6 L359.7,55.3 L360.2,56.1 L360.7,54.9 L361.2,54.7 L361.7,54.7 L362.2,55.7 L362.7,55.1 L363.2,55.9 L363.7,56.0 L364.2,55.9 L364.7,55.2 L365.2,54.7 L365.7,55.6 L366.2,55.8 L366.7,55.4 L367.2,55.4 L367.7,54.4 L368.2,54.6 L368.7,54.9 L369.2,55.6 L369.7,55.7 L370.2,54.9 L370.7,55.1 L371.2,54.0 L371.7,54.2 L372.2,55.8 L372.7,54.3 L373.2,54.7 L373.7,53.9 L374.2,55.9 L374.7,55.3 L375.2,53.6 L375.7,55.0 L376.2,55.8 L376.7,53.7 L377.2,55.9 L377.7,55.9 L378.2,56.0 L378.7,55.1 L379.2,54.1 L379.7,55.8 L380.2,54.8 L380.7,54.8 L381.2,53.8 L381.7,55.5 L382.2,54.3 L382.7,54.2 L383.2,55.8 L383.7,55.1 L384.2,54.4 L384.7,55.4 L385.2,56.0 L385.7,56.0 L386.2,55.8 L386.7,55.8 L387.2,55.5 L387.7,55.6 L388.2,54.7 L388.7,55.6 L389.2,54.7 L389.7,55.1 L390.2,55.7 L390.7,55.1 L391.2,55.4 L391.7,55.3 L392.2,55.5 L392.7,55.9 L393.2,55.8 L393.7,55.2 L394.2,55.9 L394.7,55.3 L395.2,55.7 L395.7,56.0 L396.2,56.0 L396.7,55.6 L397.2,55.6 L397.7,55.4 L398.2,55.4 L398.7,56.1 L399.2,55.6 L399.7,55.7 L400.2,55.6 L400.7,55.9 L401.2,55.9 L401.7,55.7 L402.2,55.7 L402.7,55.8 L403.2,55.8 L403.7,55.8 L404.2,56.0 L404.7,55.8 L405.2,55.7 L405.7,55.9 L406.2,56.0 L406.7,55.6 L407.2,55.6 L407.7,55.8 L408.2,55.6 L408.7,55.8 L409.2,55.9 L409.7,55.8 L410.2,55.9 L410.7,55.5 L411.2,55.9 L411.7,55.6 L412.2,55.9 L412.7,55.4 L413.2,55.7 L413.7,55.6 L414.2,55.3 L414.7,55.6 L415.2,56.0 L415.7,55.5 L416.2,55.1 L416.7,54.8 L417.2,55.1 L417.7,55.5 L418.2,54.6 L418.7,55.4 L419.2,55.2 L419.7,55.3 L420.2,54.6 L420.7,55.2 L421.2,55.3 L421.7,55.4 L422.2,55.8 L422.7,55.7 L423.2,54.8 L423.7,54.1 L424.2,55.1 L424.7,55.2 L425.2,53.9 L425.7,56.0 L426.2,54.2 L426.7,54.6 L427.2,55.0 L427.7,55.5 L428.2,54.8 L428.7,54.6 L429.2,55.7 L429.7,54.8 L430.2,55.0 L430.7,56.1 L431.2,53.8 L431.7,54.7 L432.2,55.9 L432.7,55.9 L433.2,55.9 L433.7,54.9 L434.2,54.7 L434.7,56.0 L435.2,56.1 L435.7,53.7 L436.2,55.6 L436.7,54.7 L437.2,54.0 L437.7,54.5 L438.2,55.3 L438.7,55.7 L438.8,56.6Z" fill="#f00808" opacity="0.5"/>
<mask id="wt228"><rect x="251.2" y="-0.8" width="187.6" height="57.4" fill="url(#wmT)"/></mask>
<g mask="url(#wt228)"><rect x="251.2" y="-0.8" width="187.6" height="57.4" filter="url(#wspk)" opacity="0.55"/></g>
</g>
<rect x="251.2" y="55.0" width="187.6" height="1.8" fill="#f00000"/>
<text x="342.5" y="9.6" font-size="9" text-anchor="middle">GM12878 Wild Type (C/C)</text>
<text x="342.5" y="20.5" font-size="9" text-anchor="middle">Raichu-normalized</text>
<rect x="245.5" y="18" width="7" height="16" fill="url(#cbr)" stroke="#999" stroke-width="0.4"/>
<text x="253.2" y="21.8" font-size="8.5">23</text>
<text x="253.2" y="37.8" font-size="8.5">0</text>
<circle cx="316.6" cy="33.9" r="1.3" fill="#f22"/>
<circle cx="316.6" cy="33.9" r="2.6" fill="none" stroke="#111" stroke-width="1.3"/>
<circle cx="401.9" cy="46.3" r="1.3" fill="#f22"/>
<circle cx="401.9" cy="46.3" r="2.6" fill="none" stroke="#111" stroke-width="1.3"/>
<circle cx="407.3" cy="49.7" r="1.3" fill="#f22"/>
<circle cx="407.3" cy="49.7" r="2.6" fill="none" stroke="#111" stroke-width="1.3"/>
<text x="236.8" y="67.3" font-size="8.5">chr14</text>
<line x1="292.80" y1="58.60" x2="292.80" y2="62.00" stroke="#333" stroke-width="0.7"/>
<text x="292.8" y="72.5" font-size="8.4" text-anchor="middle">21,250,000</text>
<line x1="396.30" y1="58.60" x2="396.30" y2="62.00" stroke="#333" stroke-width="0.7"/>
<text x="396.3" y="72.5" font-size="8.4" text-anchor="middle">21,500,000</text>
<line x1="275.00" y1="81.20" x2="300.70" y2="81.20" stroke="#111" stroke-width="0.8"/>
<rect x="275.20" y="78.45" width="2.20" height="5.50" fill="#111"/>
<rect x="284.20" y="78.70" width="2.60" height="5.00" fill="#111"/>
<rect x="294.00" y="78.70" width="0.60" height="5.00" fill="#111"/>
<rect x="297.90" y="78.70" width="0.70" height="5.00" fill="#111"/>
<rect x="299.90" y="78.70" width="0.80" height="5.00" fill="#111"/>
<text x="275.3" y="84.2" font-size="8.5" text-anchor="end">HNRNPC</text>
<line x1="333.80" y1="81.20" x2="378.40" y2="81.20" stroke="#111" stroke-width="0.8"/>
<rect x="333.80" y="78.45" width="4.70" height="5.50" fill="#111"/>
<rect x="339.00" y="78.45" width="2.60" height="5.50" fill="#111"/>
<rect x="342.20" y="78.45" width="2.40" height="5.50" fill="#111"/>
<rect x="347.60" y="78.70" width="1.60" height="5.00" fill="#111"/>
<rect x="350.60" y="78.45" width="2.60" height="5.50" fill="#111"/>
<rect x="353.80" y="78.45" width="2.80" height="5.50" fill="#111"/>
<rect x="357.20" y="78.45" width="2.10" height="5.50" fill="#111"/>
<rect x="359.90" y="78.45" width="2.30" height="5.50" fill="#111"/>
<rect x="365.50" y="78.70" width="1.00" height="5.00" fill="#111"/>
<rect x="367.80" y="78.70" width="1.00" height="5.00" fill="#111"/>
<rect x="378.00" y="78.45" width="0.60" height="5.50" fill="#111"/>
<text x="379.3" y="84.2" font-size="8.5">CHD8</text>
<text x="321.3" y="92.8" font-size="8.5">SUPT16H</text>
<path d="M247.5,87.0H249.2V104.8H247.5" stroke="#111" stroke-width="1.4" fill="none"/>
<text x="247.5" y="93.6" font-size="8.5" text-anchor="end">12</text>
<text x="247.5" y="103.4" font-size="8.5" text-anchor="end">0</text>
<path d="M247.5,105.9H249.2V123.7H247.5" stroke="#111" stroke-width="1.4" fill="none"/>
<text x="247.5" y="112.5" font-size="8.5" text-anchor="end">12</text>
<text x="247.5" y="122.3" font-size="8.5" text-anchor="end">0</text>
<path d="M247.5,124.8H249.2V142.6H247.5" stroke="#111" stroke-width="1.4" fill="none"/>
<text x="247.5" y="131.4" font-size="8.5" text-anchor="end">4</text>
<text x="247.5" y="141.2" font-size="8.5" text-anchor="end">0</text>
<path d="M247.5,143.7H249.2V161.5H247.5" stroke="#111" stroke-width="1.4" fill="none"/>
<text x="247.5" y="150.3" font-size="8.5" text-anchor="end">4</text>
<text x="247.5" y="160.1" font-size="8.5" text-anchor="end">0</text>
<path d="M247.5,162.6H249.2V180.4H247.5" stroke="#111" stroke-width="1.4" fill="none"/>
<text x="247.5" y="169.2" font-size="8.5" text-anchor="end">18</text>
<text x="247.5" y="179.0" font-size="8.5" text-anchor="end">0</text>
<path d="M247.5,181.5H249.2V199.3H247.5" stroke="#111" stroke-width="1.4" fill="none"/>
<text x="247.5" y="188.1" font-size="8.5" text-anchor="end">18</text>
<text x="247.5" y="197.9" font-size="8.5" text-anchor="end">0</text>
<text x="234.4" y="104.3" font-size="8.1" text-anchor="middle" transform="rotate(-90 234.4 104.3)">RNA</text>
<text x="234.4" y="140.9" font-size="8.1" text-anchor="middle" transform="rotate(-90 234.4 140.9)">GATA3</text>
<text x="234.4" y="179.7" font-size="8.1" text-anchor="middle" transform="rotate(-90 234.4 179.7)">H3K27ac</text>
<rect x="249.70" y="103.90" width="188.80" height="0.70" fill="#f9c4c4"/>
<path d="M275.6,87.5L276.3,104.3" stroke="#e31a1c" stroke-width="1.4"/>
<rect x="283.60" y="87.50" width="1.80" height="16.80" fill="#ee6a6a"/>
<rect x="298.40" y="93.00" width="0.50" height="11.30" fill="#f08080"/>
<rect x="300.30" y="90.00" width="0.50" height="14.30" fill="#f08080"/>
<rect x="249.70" y="122.80" width="188.80" height="0.70" fill="#f9c4c4"/>
<path d="M275.6,106.4L276.3,123.2" stroke="#e31a1c" stroke-width="1.4"/>
<rect x="283.60" y="106.40" width="1.80" height="16.80" fill="#ee6a6a"/>
<rect x="298.40" y="111.90" width="0.50" height="11.30" fill="#f08080"/>
<rect x="300.30" y="108.90" width="0.50" height="14.30" fill="#f08080"/>
<path d="M334.0,104.3v-1.1 M335.6,104.3v-0.8 M336.4,104.3v-1.3 M338.0,104.3v-0.1 M339.6,104.3v-0.4 M340.4,104.3v-0.8 M341.2,104.3v-1.3 M342.0,104.3v-0.8 M342.8,104.3v-1.0 M343.6,104.3v-1.6 M344.4,104.3v-1.2 M346.0,104.3v-0.1 M346.8,104.3v-1.2 M347.6,104.3v-0.6 M348.4,104.3v-0.8 M349.2,104.3v-0.2 M350.0,104.3v-1.3 M351.6,104.3v-0.2 M352.4,104.3v-0.6 M354.0,104.3v-0.1 M355.6,104.3v-0.1 M356.4,104.3v-0.6 M357.2,104.3v-0.6 M358.0,104.3v-1.2 M358.8,104.3v-1.4 M359.6,104.3v-0.2 M360.4,104.3v-0.2 M361.2,104.3v-0.9 M362.0,104.3v-0.5 M362.8,104.3v-1.0 M363.6,104.3v-0.9 M365.2,104.3v-1.0 M366.0,104.3v-0.2 M367.6,104.3v-1.1 M368.4,104.3v-0.4 M369.2,104.3v-1.5 M370.8,104.3v-0.7 M372.4,104.3v-1.1 M374.8,104.3v-0.5 M376.4,104.3v-0.9 M377.2,104.3v-0.7 M378.0,104.3v-0.2 M378.8,104.3v-0.1 M379.6,104.3v-1.5 M380.4,104.3v-0.9 M381.2,104.3v-0.3 M382.8,104.3v-1.3 M383.6,104.3v-0.2 M386.0,104.3v-1.5 M386.8,104.3v-1.6 M389.2,104.3v-0.5 M390.0,104.3v-1.6 M391.6,104.3v-0.4 M393.2,104.3v-0.9 M394.0,104.3v-0.7 M394.8,104.3v-0.6 M396.4,104.3v-1.3 M397.2,104.3v-1.5 M398.0,104.3v-1.5 M399.6,104.3v-0.1 M400.4,104.3v-1.2 M403.6,104.3v-0.7" stroke="#e31a1c" stroke-width="0.7"/>
<path d="M334.0,123.2v-7.7 M334.8,123.2v-5.5 M335.6,123.2v-4.1 M338.0,123.2v-6.6 M338.8,123.2v-6.5 M339.6,123.2v-7.6 M340.4,123.2v-3.0 M342.0,123.2v-3.1 M342.8,123.2v-4.9 M343.6,123.2v-3.7 M344.4,123.2v-1.6 M345.2,123.2v-0.6 M346.0,123.2v-1.0 M346.8,123.2v-1.8 M347.6,123.2v-1.3 M348.4,123.2v-0.2 M350.0,123.2v-0.6 M350.8,123.2v-0.2 M351.6,123.2v-1.8 M352.4,123.2v-1.2 M353.2,123.2v-1.2 M354.0,123.2v-0.8 M354.8,123.2v-1.8 M355.6,123.2v-0.5 M357.2,123.2v-1.3 M358.8,123.2v-1.6 M359.6,123.2v-1.4 M362.0,123.2v-1.0 M362.8,123.2v-0.7 M363.6,123.2v-1.2 M364.4,123.2v-1.5 M365.2,123.2v-1.1 M366.0,123.2v-1.0 M366.8,123.2v-0.5 M368.4,123.2v-1.9 M369.2,123.2v-0.9 M370.0,123.2v-1.5 M370.8,123.2v-0.7 M374.0,123.2v-1.9 M374.8,123.2v-2.0 M375.6,123.2v-0.8 M376.4,123.2v-0.1 M378.8,123.2v-0.6 M380.4,123.2v-0.0 M383.6,123.2v-1.0 M384.4,123.2v-1.2 M385.2,123.2v-1.7 M386.0,123.2v-1.8 M388.4,123.2v-0.8 M390.0,123.2v-1.7 M390.8,123.2v-1.4 M392.4,123.2v-0.8 M394.8,123.2v-0.7 M395.6,123.2v-0.1 M396.4,123.2v-1.2 M397.2,123.2v-1.5 M398.0,123.2v-0.6 M398.8,123.2v-1.7 M399.6,123.2v-0.1 M402.0,123.2v-0.3 M402.8,123.2v-0.1 M403.6,123.2v-0.8 M404.4,123.2v-1.0" stroke="#e31a1c" stroke-width="0.7"/>
<path d="M348.1,142.9v-13.0" stroke="#2f9e2f" stroke-width="1.0"/>
<path d="M387.6,142.9v-14.0" stroke="#2f9e2f" stroke-width="0.8"/>
<path d="M401.9,142.9v-14.0" stroke="#86c986" stroke-width="0.8"/>
<path d="M408.2,142.9v-5.0" stroke="#2f9e2f" stroke-width="0.7"/>
<path d="M361.6,142.9v-4.0" stroke="#2f9e2f" stroke-width="0.7"/>
<path d="M313.7,142.9v-6.0" stroke="#2f9e2f" stroke-width="0.7"/>
<path d="M331.0,142.9v-4.0" stroke="#2f9e2f" stroke-width="0.7"/>
<path d="M339.0,142.9v-4.0" stroke="#2f9e2f" stroke-width="0.7"/>
<path d="M373.0,142.9v-4.0" stroke="#2f9e2f" stroke-width="0.7"/>
<path d="M396.0,142.9v-3.0" stroke="#2f9e2f" stroke-width="0.7"/>
<path d="M300.7,142.9v-3.0" stroke="#2f9e2f" stroke-width="0.7"/>
<path d="M249.7,142.9v-1.1 M250.4,142.9v-3.0 M251.1,142.9v-3.2 M251.8,142.9v-3.7 M252.5,142.9v-1.3 M253.2,142.9v-3.1 M253.9,142.9v-1.0 M254.6,142.9v-2.7 M255.3,142.9v-0.9 M256.0,142.9v-0.9 M256.7,142.9v-2.9 M257.4,142.9v-2.5 M258.1,142.9v-3.3 M258.8,142.9v-3.5 M259.5,142.9v-2.6 M260.2,142.9v-2.0 M260.9,142.9v-1.6 M261.6,142.9v-1.1 M262.3,142.9v-4.0 M263.0,142.9v-3.6 M263.7,142.9v-1.9 M264.4,142.9v-3.9 M265.1,142.9v-1.9 M265.8,142.9v-1.2 M266.5,142.9v-1.6 M267.2,142.9v-1.5 M267.9,142.9v-2.1 M268.6,142.9v-1.0 M269.3,142.9v-3.8 M270.0,142.9v-1.2 M270.7,142.9v-4.1 M271.4,142.9v-1.0 M272.1,142.9v-2.9 M272.8,142.9v-3.1 M273.5,142.9v-0.9 M274.2,142.9v-1.0 M274.9,142.9v-3.7 M275.6,142.9v-3.8 M276.3,142.9v-2.3 M277.0,142.9v-1.0 M277.7,142.9v-3.6 M278.4,142.9v-1.2 M279.1,142.9v-3.8 M279.8,142.9v-1.0 M280.5,142.9v-1.0 M281.2,142.9v-1.0 M281.9,142.9v-3.3 M282.6,142.9v-1.0 M283.3,142.9v-1.1 M284.0,142.9v-1.2 M284.7,142.9v-1.1 M285.4,142.9v-0.9 M286.1,142.9v-3.3 M286.8,142.9v-1.7 M287.5,142.9v-1.4 M288.2,142.9v-2.2 M288.9,142.9v-3.4 M289.6,142.9v-2.5 M290.3,142.9v-1.9 M291.0,142.9v-1.0 M291.7,142.9v-3.0 M292.4,142.9v-1.1 M293.1,142.9v-1.3 M293.8,142.9v-3.3 M294.5,142.9v-2.8 M295.2,142.9v-3.6 M295.9,142.9v-1.9 M296.6,142.9v-1.4 M297.3,142.9v-3.6 M298.0,142.9v-3.6 M298.7,142.9v-1.1 M299.4,142.9v-2.9 M300.1,142.9v-1.6 M300.8,142.9v-3.1 M301.5,142.9v-1.0 M302.2,142.9v-1.0 M302.9,142.9v-1.4 M303.6,142.9v-0.9 M304.3,142.9v-1.8 M305.0,142.9v-1.8 M305.7,142.9v-0.9 M306.4,142.9v-1.4 M307.1,142.9v-2.0 M307.8,142.9v-1.9 M308.5,142.9v-2.6 M309.2,142.9v-3.8 M309.9,142.9v-1.7 M310.6,142.9v-3.4 M311.3,142.9v-1.8 M312.0,142.9v-0.9 M312.7,142.9v-2.6 M313.4,142.9v-2.9 M314.1,142.9v-1.3 M314.8,142.9v-3.5 M315.5,142.9v-1.3 M316.2,142.9v-4.1 M316.9,142.9v-1.7 M317.6,142.9v-2.0 M318.3,142.9v-1.9 M319.0,142.9v-1.8 M319.7,142.9v-2.7 M320.4,142.9v-1.7 M321.1,142.9v-1.6 M321.8,142.9v-2.5 M322.5,142.9v-1.5 M323.2,142.9v-2.1 M323.9,142.9v-3.9 M324.6,142.9v-3.9 M325.3,142.9v-0.9 M326.0,142.9v-1.9 M326.7,142.9v-2.6 M327.4,142.9v-3.8 M328.1,142.9v-2.7 M328.8,142.9v-1.5 M329.5,142.9v-1.7 M330.2,142.9v-1.1 M330.9,142.9v-0.9 M331.6,142.9v-2.1 M332.3,142.9v-1.1 M333.0,142.9v-2.7 M333.7,142.9v-1.6 M334.4,142.9v-3.0 M335.1,142.9v-2.0 M335.8,142.9v-0.9 M336.5,142.9v-3.0 M337.2,142.9v-3.2 M337.9,142.9v-2.4 M338.6,142.9v-1.7 M339.3,142.9v-1.2 M340.0,142.9v-0.9 M340.7,142.9v-2.6 M341.4,142.9v-0.9 M342.1,142.9v-1.1 M342.8,142.9v-3.8 M343.5,142.9v-1.2 M344.2,142.9v-2.7 M344.9,142.9v-2.3 M345.6,142.9v-4.1 M346.3,142.9v-1.1 M347.0,142.9v-2.4 M347.7,142.9v-2.5 M348.4,142.9v-0.9 M349.1,142.9v-3.0 M349.8,142.9v-2.1 M350.5,142.9v-2.6 M351.2,142.9v-3.3 M351.9,142.9v-2.9 M352.6,142.9v-2.0 M353.3,142.9v-1.0 M354.0,142.9v-0.9 M354.7,142.9v-2.1 M355.4,142.9v-1.0 M356.1,142.9v-1.7 M356.8,142.9v-0.9 M357.5,142.9v-3.8 M358.2,142.9v-3.9 M358.9,142.9v-3.6 M359.6,142.9v-3.7 M360.3,142.9v-1.1 M361.0,142.9v-1.2 M361.7,142.9v-1.3 M362.4,142.9v-0.9 M363.1,142.9v-1.4 M363.8,142.9v-3.9 M364.5,142.9v-1.0 M365.2,142.9v-2.1 M365.9,142.9v-3.9 M366.6,142.9v-3.7 M367.3,142.9v-1.2 M368.0,142.9v-3.3 M368.7,142.9v-1.0 M369.4,142.9v-4.1 M370.1,142.9v-1.0 M370.8,142.9v-0.9 M371.5,142.9v-1.6 M372.2,142.9v-3.3 M372.9,142.9v-1.6 M373.6,142.9v-1.2 M374.3,142.9v-1.1 M375.0,142.9v-1.0 M375.7,142.9v-1.1 M376.4,142.9v-0.9 M377.1,142.9v-1.7 M377.8,142.9v-4.0 M378.5,142.9v-2.1 M379.2,142.9v-2.8 M379.9,142.9v-1.9 M380.6,142.9v-2.0 M381.3,142.9v-3.9 M382.0,142.9v-3.4 M382.7,142.9v-1.2 M383.4,142.9v-1.1 M384.1,142.9v-1.9 M384.8,142.9v-1.1 M385.5,142.9v-2.6 M386.2,142.9v-3.9 M386.9,142.9v-0.9 M387.6,142.9v-2.3 M388.3,142.9v-2.5 M389.0,142.9v-1.6 M389.7,142.9v-2.8 M390.4,142.9v-1.1 M391.1,142.9v-1.4 M391.8,142.9v-1.0 M392.5,142.9v-1.0 M393.2,142.9v-1.0 M393.9,142.9v-1.1 M394.6,142.9v-1.1 M395.3,142.9v-3.9 M396.0,142.9v-1.0 M396.7,142.9v-1.3 M397.4,142.9v-3.2 M398.1,142.9v-1.0 M398.8,142.9v-2.7 M399.5,142.9v-1.6 M400.2,142.9v-1.0 M400.9,142.9v-2.8 M401.6,142.9v-1.1 M402.3,142.9v-1.9 M403.0,142.9v-1.2 M403.7,142.9v-1.7 M404.4,142.9v-1.3 M405.1,142.9v-1.3 M405.8,142.9v-3.6 M406.5,142.9v-2.6 M407.2,142.9v-3.4 M407.9,142.9v-1.8 M408.6,142.9v-3.0 M409.3,142.9v-2.3 M410.0,142.9v-1.0 M410.7,142.9v-3.4 M411.4,142.9v-0.9 M412.1,142.9v-2.2 M412.8,142.9v-2.4 M413.5,142.9v-2.1 M414.2,142.9v-1.1 M414.9,142.9v-0.9 M415.6,142.9v-3.2 M416.3,142.9v-1.7 M417.0,142.9v-1.1 M417.7,142.9v-0.9 M418.4,142.9v-3.9 M419.1,142.9v-1.1 M419.8,142.9v-2.0 M420.5,142.9v-3.8 M421.2,142.9v-1.1 M421.9,142.9v-2.5 M422.6,142.9v-3.5 M423.3,142.9v-3.7 M424.0,142.9v-3.1 M424.7,142.9v-1.6 M425.4,142.9v-1.1 M426.1,142.9v-3.4 M426.8,142.9v-4.0 M427.5,142.9v-1.7 M428.2,142.9v-1.0 M428.9,142.9v-3.2 M429.6,142.9v-3.8 M430.3,142.9v-3.9 M431.0,142.9v-0.9 M431.7,142.9v-2.7 M432.4,142.9v-1.1 M433.1,142.9v-2.4 M433.8,142.9v-2.5 M434.5,142.9v-3.4 M435.2,142.9v-1.1 M435.9,142.9v-1.9 M436.6,142.9v-1.1 M437.3,142.9v-0.9 M438.0,142.9v-1.2" stroke="#2f9e2f" stroke-width="0.7" fill="none"/>
<path d="M348.1,161.8v-16.0" stroke="#2f9e2f" stroke-width="1.0"/>
<path d="M361.6,161.8v-7.0" stroke="#2f9e2f" stroke-width="0.8"/>
<path d="M376.2,161.8v-16.0" stroke="#86c986" stroke-width="0.8"/>
<path d="M387.1,161.8v-16.0" stroke="#2f9e2f" stroke-width="0.8"/>
<path d="M396.3,161.8v-7.0" stroke="#2f9e2f" stroke-width="0.7"/>
<path d="M399.3,161.8v-14.0" stroke="#86c986" stroke-width="0.7"/>
<path d="M408.2,161.8v-6.0" stroke="#2f9e2f" stroke-width="0.7"/>
<path d="M432.9,161.8v-7.0" stroke="#86c986" stroke-width="0.7"/>
<path d="M300.7,161.8v-5.0" stroke="#2f9e2f" stroke-width="0.8"/>
<path d="M314.0,161.8v-3.0" stroke="#2f9e2f" stroke-width="0.7"/>
<path d="M339.0,161.8v-4.0" stroke="#2f9e2f" stroke-width="0.7"/>
<path d="M249.7,161.8v-1.3 M250.4,161.8v-3.5 M251.1,161.8v-2.4 M251.8,161.8v-1.8 M252.5,161.8v-3.4 M253.2,161.8v-2.3 M253.9,161.8v-4.0 M254.6,161.8v-2.5 M255.3,161.8v-0.9 M256.0,161.8v-1.3 M256.7,161.8v-1.0 M257.4,161.8v-2.0 M258.1,161.8v-1.2 M258.8,161.8v-3.9 M259.5,161.8v-2.7 M260.2,161.8v-1.3 M260.9,161.8v-1.7 M261.6,161.8v-2.3 M262.3,161.8v-1.6 M263.0,161.8v-3.3 M263.7,161.8v-1.2 M264.4,161.8v-1.0 M265.1,161.8v-3.1 M265.8,161.8v-3.2 M266.5,161.8v-1.1 M267.2,161.8v-1.0 M267.9,161.8v-1.0 M268.6,161.8v-3.7 M269.3,161.8v-1.5 M270.0,161.8v-2.0 M270.7,161.8v-1.9 M271.4,161.8v-1.2 M272.1,161.8v-1.4 M272.8,161.8v-2.2 M273.5,161.8v-1.3 M274.2,161.8v-1.1 M274.9,161.8v-1.2 M275.6,161.8v-1.0 M276.3,161.8v-1.0 M277.0,161.8v-1.0 M277.7,161.8v-3.4 M278.4,161.8v-2.9 M279.1,161.8v-3.7 M279.8,161.8v-2.6 M280.5,161.8v-3.5 M281.2,161.8v-1.3 M281.9,161.8v-3.1 M282.6,161.8v-3.5 M283.3,161.8v-2.9 M284.0,161.8v-1.5 M284.7,161.8v-1.8 M285.4,161.8v-1.0 M286.1,161.8v-1.5 M286.8,161.8v-2.1 M287.5,161.8v-1.0 M288.2,161.8v-2.3 M288.9,161.8v-0.9 M289.6,161.8v-2.3 M290.3,161.8v-3.8 M291.0,161.8v-3.9 M291.7,161.8v-4.0 M292.4,161.8v-1.6 M293.1,161.8v-2.7 M293.8,161.8v-1.5 M294.5,161.8v-2.5 M295.2,161.8v-3.0 M295.9,161.8v-1.4 M296.6,161.8v-2.8 M297.3,161.8v-2.2 M298.0,161.8v-1.9 M298.7,161.8v-0.9 M299.4,161.8v-1.7 M300.1,161.8v-1.5 M300.8,161.8v-1.9 M301.5,161.8v-2.7 M302.2,161.8v-1.6 M302.9,161.8v-3.0 M303.6,161.8v-1.1 M304.3,161.8v-1.6 M305.0,161.8v-1.1 M305.7,161.8v-3.4 M306.4,161.8v-1.1 M307.1,161.8v-1.9 M307.8,161.8v-1.4 M308.5,161.8v-2.6 M309.2,161.8v-1.1 M309.9,161.8v-4.0 M310.6,161.8v-1.7 M311.3,161.8v-3.7 M312.0,161.8v-1.0 M312.7,161.8v-1.4 M313.4,161.8v-4.0 M314.1,161.8v-1.2 M314.8,161.8v-0.9 M315.5,161.8v-2.3 M316.2,161.8v-0.9 M316.9,161.8v-1.1 M317.6,161.8v-2.0 M318.3,161.8v-1.9 M319.0,161.8v-1.2 M319.7,161.8v-2.4 M320.4,161.8v-3.8 M321.1,161.8v-0.9 M321.8,161.8v-2.4 M322.5,161.8v-1.5 M323.2,161.8v-1.7 M323.9,161.8v-1.2 M324.6,161.8v-2.4 M325.3,161.8v-3.7 M326.0,161.8v-1.0 M326.7,161.8v-1.0 M327.4,161.8v-3.1 M328.1,161.8v-2.6 M328.8,161.8v-1.3 M329.5,161.8v-2.7 M330.2,161.8v-3.8 M330.9,161.8v-3.0 M331.6,161.8v-1.0 M332.3,161.8v-1.2 M333.0,161.8v-1.1 M333.7,161.8v-1.0 M334.4,161.8v-1.4 M335.1,161.8v-2.4 M335.8,161.8v-1.2 M336.5,161.8v-1.9 M337.2,161.8v-2.7 M337.9,161.8v-1.7 M338.6,161.8v-1.3 M339.3,161.8v-1.0 M340.0,161.8v-2.9 M340.7,161.8v-1.4 M341.4,161.8v-1.0 M342.1,161.8v-2.9 M342.8,161.8v-1.1 M343.5,161.8v-3.4 M344.2,161.8v-1.7 M344.9,161.8v-2.4 M345.6,161.8v-1.3 M346.3,161.8v-3.3 M347.0,161.8v-1.8 M347.7,161.8v-1.3 M348.4,161.8v-0.9 M349.1,161.8v-0.9 M349.8,161.8v-2.3 M350.5,161.8v-1.3 M351.2,161.8v-2.2 M351.9,161.8v-1.2 M352.6,161.8v-1.9 M353.3,161.8v-0.9 M354.0,161.8v-0.9 M354.7,161.8v-3.8 M355.4,161.8v-3.8 M356.1,161.8v-1.6 M356.8,161.8v-3.2 M357.5,161.8v-2.6 M358.2,161.8v-1.4 M358.9,161.8v-3.4 M359.6,161.8v-1.4 M360.3,161.8v-2.7 M361.0,161.8v-2.9 M361.7,161.8v-1.3 M362.4,161.8v-2.9 M363.1,161.8v-1.0 M363.8,161.8v-3.7 M364.5,161.8v-1.2 M365.2,161.8v-1.4 M365.9,161.8v-1.5 M366.6,161.8v-1.4 M367.3,161.8v-2.5 M368.0,161.8v-1.5 M368.7,161.8v-1.3 M369.4,161.8v-2.3 M370.1,161.8v-2.6 M370.8,161.8v-4.0 M371.5,161.8v-1.1 M372.2,161.8v-2.7 M372.9,161.8v-3.4 M373.6,161.8v-2.3 M374.3,161.8v-1.4 M375.0,161.8v-3.7 M375.7,161.8v-2.9 M376.4,161.8v-1.0 M377.1,161.8v-1.9 M377.8,161.8v-1.7 M378.5,161.8v-2.0 M379.2,161.8v-2.0 M379.9,161.8v-1.0 M380.6,161.8v-1.0 M381.3,161.8v-1.0 M382.0,161.8v-1.9 M382.7,161.8v-3.5 M383.4,161.8v-1.2 M384.1,161.8v-2.0 M384.8,161.8v-3.9 M385.5,161.8v-2.0 M386.2,161.8v-2.7 M386.9,161.8v-3.5 M387.6,161.8v-0.9 M388.3,161.8v-2.6 M389.0,161.8v-3.6 M389.7,161.8v-1.3 M390.4,161.8v-2.0 M391.1,161.8v-0.9 M391.8,161.8v-1.4 M392.5,161.8v-1.6 M393.2,161.8v-2.4 M393.9,161.8v-2.2 M394.6,161.8v-1.1 M395.3,161.8v-2.6 M396.0,161.8v-1.4 M396.7,161.8v-3.1 M397.4,161.8v-3.7 M398.1,161.8v-1.8 M398.8,161.8v-0.9 M399.5,161.8v-1.4 M400.2,161.8v-3.8 M400.9,161.8v-0.9 M401.6,161.8v-4.1 M402.3,161.8v-1.2 M403.0,161.8v-2.8 M403.7,161.8v-3.5 M404.4,161.8v-1.3 M405.1,161.8v-1.0 M405.8,161.8v-2.8 M406.5,161.8v-1.0 M407.2,161.8v-1.3 M407.9,161.8v-1.0 M408.6,161.8v-1.4 M409.3,161.8v-2.4 M410.0,161.8v-2.5 M410.7,161.8v-2.9 M411.4,161.8v-3.9 M412.1,161.8v-3.8 M412.8,161.8v-2.9 M413.5,161.8v-2.0 M414.2,161.8v-1.1 M414.9,161.8v-4.1 M415.6,161.8v-0.9 M416.3,161.8v-3.7 M417.0,161.8v-1.8 M417.7,161.8v-1.8 M418.4,161.8v-1.5 M419.1,161.8v-1.8 M419.8,161.8v-1.7 M420.5,161.8v-1.2 M421.2,161.8v-3.9 M421.9,161.8v-2.0 M422.6,161.8v-2.5 M423.3,161.8v-1.5 M424.0,161.8v-1.3 M424.7,161.8v-1.3 M425.4,161.8v-1.7 M426.1,161.8v-1.1 M426.8,161.8v-2.1 M427.5,161.8v-1.5 M428.2,161.8v-1.3 M428.9,161.8v-0.9 M429.6,161.8v-1.8 M430.3,161.8v-1.8 M431.0,161.8v-1.2 M431.7,161.8v-2.3 M432.4,161.8v-0.9 M433.1,161.8v-3.1 M433.8,161.8v-0.9 M434.5,161.8v-2.9 M435.2,161.8v-2.5 M435.9,161.8v-3.6 M436.6,161.8v-1.2 M437.3,161.8v-1.7 M438.0,161.8v-1.8" stroke="#2f9e2f" stroke-width="0.7" fill="none"/>
<path d="M348.1,180.7v-16.5" stroke="#f39a2e" stroke-width="1.0"/>
<path d="M370.8,180.7v-5.0" stroke="#f39a2e" stroke-width="0.8"/>
<path d="M378.4,180.7v-6.0" stroke="#f39a2e" stroke-width="0.8"/>
<path d="M387.1,180.7v-5.0" stroke="#f39a2e" stroke-width="0.8"/>
<path d="M401.5,180.7v-9.0" stroke="#f8c48c" stroke-width="0.8"/>
<path d="M408.6,180.7v-2.0" stroke="#f39a2e" stroke-width="0.7"/>
<path d="M300.7,180.7v-5.0" stroke="#f39a2e" stroke-width="0.9"/>
<path d="M418.0,180.7v-2.0" stroke="#f39a2e" stroke-width="0.7"/>
<path d="M254.6,180.7v-1.5 M255.3,180.7v-1.0 M256.0,180.7v-1.0 M258.1,180.7v-1.3 M258.8,180.7v-0.9 M260.9,180.7v-1.0 M261.6,180.7v-0.9 M264.4,180.7v-1.1 M265.8,180.7v-1.4 M266.5,180.7v-1.5 M267.9,180.7v-1.0 M268.6,180.7v-0.9 M270.0,180.7v-1.6 M271.4,180.7v-1.3 M272.1,180.7v-1.1 M272.8,180.7v-1.6 M274.2,180.7v-1.7 M275.6,180.7v-1.0 M276.3,180.7v-1.0 M277.7,180.7v-0.9 M278.4,180.7v-1.5 M279.8,180.7v-1.1 M280.5,180.7v-1.1 M281.9,180.7v-1.4 M283.3,180.7v-1.0 M284.0,180.7v-1.7 M284.7,180.7v-1.0 M285.4,180.7v-1.8 M286.1,180.7v-1.7 M286.8,180.7v-0.9 M287.5,180.7v-1.4 M288.2,180.7v-1.2 M293.1,180.7v-0.9 M293.8,180.7v-1.2 M296.6,180.7v-1.5 M297.3,180.7v-1.1 M298.0,180.7v-1.1 M300.1,180.7v-1.8 M302.2,180.7v-1.3 M302.9,180.7v-1.6 M303.6,180.7v-1.7 M305.0,180.7v-1.2 M307.1,180.7v-1.0 M309.9,180.7v-1.7 M312.7,180.7v-1.5 M313.4,180.7v-1.0 M314.1,180.7v-1.0 M314.8,180.7v-1.2 M316.9,180.7v-1.2 M319.0,180.7v-0.9 M320.4,180.7v-1.0 M321.8,180.7v-1.6 M323.2,180.7v-1.1 M324.6,180.7v-0.9 M326.0,180.7v-1.7 M326.7,180.7v-1.2 M327.4,180.7v-1.6 M328.1,180.7v-0.9 M334.4,180.7v-1.0 M335.8,180.7v-1.3 M337.2,180.7v-1.1 M337.9,180.7v-0.9 M338.6,180.7v-1.2 M339.3,180.7v-1.0 M340.0,180.7v-0.9 M340.7,180.7v-0.9 M341.4,180.7v-1.5 M342.1,180.7v-1.7 M343.5,180.7v-0.9 M346.3,180.7v-1.6 M349.1,180.7v-1.4 M349.8,180.7v-1.1 M350.5,180.7v-1.2 M351.9,180.7v-1.3 M353.3,180.7v-0.9 M354.7,180.7v-1.0 M355.4,180.7v-1.5 M356.1,180.7v-1.7 M357.5,180.7v-0.9 M358.2,180.7v-1.5 M358.9,180.7v-1.7 M360.3,180.7v-0.9 M361.7,180.7v-1.2 M362.4,180.7v-1.4 M363.1,180.7v-0.9 M363.8,180.7v-1.8 M365.2,180.7v-1.8 M367.3,180.7v-1.2 M368.0,180.7v-1.1 M368.7,180.7v-1.0 M369.4,180.7v-0.9 M370.1,180.7v-0.9 M370.8,180.7v-1.4 M372.2,180.7v-1.7 M372.9,180.7v-0.9 M373.6,180.7v-1.4 M374.3,180.7v-1.0 M376.4,180.7v-0.9 M377.1,180.7v-1.0 M377.8,180.7v-1.0 M378.5,180.7v-1.0 M379.2,180.7v-0.9 M379.9,180.7v-1.4 M380.6,180.7v-1.5 M384.8,180.7v-1.6 M385.5,180.7v-1.1 M386.2,180.7v-1.2 M386.9,180.7v-1.0 M387.6,180.7v-1.7 M388.3,180.7v-1.5 M389.0,180.7v-0.9 M390.4,180.7v-1.8 M391.8,180.7v-1.2 M392.5,180.7v-1.2 M393.2,180.7v-1.0 M393.9,180.7v-1.6 M395.3,180.7v-1.3 M396.0,180.7v-1.4 M396.7,180.7v-1.7 M397.4,180.7v-1.0 M400.2,180.7v-1.1 M400.9,180.7v-0.9 M401.6,180.7v-1.2 M402.3,180.7v-1.7 M403.7,180.7v-0.9 M404.4,180.7v-1.2 M405.1,180.7v-1.6 M405.8,180.7v-0.9 M406.5,180.7v-1.5 M407.2,180.7v-1.0 M407.9,180.7v-0.9 M409.3,180.7v-1.3 M410.0,180.7v-1.1 M410.7,180.7v-1.1 M411.4,180.7v-0.9 M412.8,180.7v-1.2 M415.6,180.7v-1.3 M416.3,180.7v-0.9 M417.0,180.7v-1.0 M417.7,180.7v-0.9 M419.1,180.7v-1.2 M419.8,180.7v-1.1 M420.5,180.7v-1.1 M421.2,180.7v-1.7 M422.6,180.7v-1.3 M423.3,180.7v-1.2 M427.5,180.7v-1.3 M429.6,180.7v-1.0 M430.3,180.7v-1.1 M431.0,180.7v-1.0 M432.4,180.7v-1.6 M434.5,180.7v-0.9 M435.2,180.7v-1.0 M435.9,180.7v-0.9 M437.3,180.7v-1.8 M438.0,180.7v-0.9" stroke="#f39a2e" stroke-width="0.7" fill="none"/>
<rect x="249.7" y="180.2" width="188.8" height="0.8" fill="#f7b878"/>
<path d="M348.1,199.6v-13.8" stroke="#f39a2e" stroke-width="1.0"/>
<path d="M370.8,199.6v-5.0" stroke="#f39a2e" stroke-width="0.8"/>
<path d="M378.4,199.6v-4.0" stroke="#f39a2e" stroke-width="0.8"/>
<path d="M387.1,199.6v-4.0" stroke="#f39a2e" stroke-width="0.8"/>
<path d="M398.0,199.6v-3.0" stroke="#f39a2e" stroke-width="0.7"/>
<path d="M401.5,199.6v-5.0" stroke="#f8c48c" stroke-width="0.8"/>
<path d="M408.6,199.6v-2.0" stroke="#f39a2e" stroke-width="0.7"/>
<path d="M300.7,199.6v-7.0" stroke="#f39a2e" stroke-width="0.9"/>
<path d="M413.0,199.6v-2.5" stroke="#f39a2e" stroke-width="0.7"/>
<path d="M249.7,199.6v-1.0 M250.4,199.6v-1.7 M251.1,199.6v-1.0 M252.5,199.6v-1.2 M253.2,199.6v-1.0 M253.9,199.6v-0.9 M254.6,199.6v-1.1 M256.7,199.6v-1.3 M258.8,199.6v-0.9 M259.5,199.6v-0.9 M260.2,199.6v-1.1 M261.6,199.6v-1.2 M262.3,199.6v-1.0 M264.4,199.6v-0.9 M265.1,199.6v-1.0 M266.5,199.6v-1.1 M267.2,199.6v-0.9 M267.9,199.6v-1.2 M268.6,199.6v-1.6 M269.3,199.6v-1.6 M270.0,199.6v-1.1 M271.4,199.6v-0.9 M272.1,199.6v-1.6 M272.8,199.6v-1.1 M273.5,199.6v-1.2 M274.9,199.6v-0.9 M275.6,199.6v-1.7 M276.3,199.6v-1.0 M277.0,199.6v-0.9 M277.7,199.6v-1.1 M278.4,199.6v-0.9 M279.1,199.6v-1.8 M279.8,199.6v-1.1 M280.5,199.6v-1.5 M281.9,199.6v-1.3 M282.6,199.6v-1.8 M283.3,199.6v-1.0 M284.7,199.6v-1.3 M285.4,199.6v-1.4 M286.8,199.6v-1.3 M288.9,199.6v-1.6 M289.6,199.6v-0.9 M290.3,199.6v-1.7 M291.0,199.6v-1.4 M293.1,199.6v-1.2 M293.8,199.6v-0.9 M294.5,199.6v-1.1 M295.9,199.6v-1.0 M298.7,199.6v-1.1 M299.4,199.6v-0.9 M300.1,199.6v-1.4 M300.8,199.6v-1.0 M301.5,199.6v-0.9 M303.6,199.6v-1.7 M304.3,199.6v-1.9 M305.0,199.6v-0.9 M305.7,199.6v-0.9 M307.1,199.6v-1.3 M309.9,199.6v-0.9 M310.6,199.6v-1.8 M311.3,199.6v-1.4 M313.4,199.6v-1.6 M315.5,199.6v-0.9 M316.2,199.6v-1.6 M317.6,199.6v-1.9 M318.3,199.6v-1.3 M320.4,199.6v-1.9 M321.1,199.6v-1.0 M321.8,199.6v-1.0 M322.5,199.6v-1.0 M324.6,199.6v-1.8 M326.0,199.6v-1.0 M326.7,199.6v-1.5 M327.4,199.6v-1.4 M328.1,199.6v-1.8 M331.6,199.6v-1.8 M332.3,199.6v-0.9 M334.4,199.6v-1.9 M335.1,199.6v-1.4 M335.8,199.6v-1.2 M336.5,199.6v-1.5 M337.2,199.6v-1.2 M337.9,199.6v-1.5 M338.6,199.6v-1.0 M339.3,199.6v-1.0 M340.0,199.6v-1.3 M341.4,199.6v-1.3 M344.2,199.6v-1.1 M344.9,199.6v-0.9 M345.6,199.6v-1.5 M346.3,199.6v-1.2 M347.7,199.6v-1.1 M348.4,199.6v-1.1 M349.8,199.6v-1.3 M351.9,199.6v-1.1 M352.6,199.6v-1.0 M353.3,199.6v-1.6 M354.0,199.6v-0.9 M354.7,199.6v-1.5 M356.8,199.6v-1.0 M357.5,199.6v-1.7 M358.9,199.6v-1.6 M359.6,199.6v-1.8 M360.3,199.6v-1.2 M361.0,199.6v-0.9 M362.4,199.6v-1.5 M363.8,199.6v-1.5 M366.6,199.6v-1.1 M367.3,199.6v-1.0 M368.0,199.6v-0.9 M368.7,199.6v-1.1 M369.4,199.6v-1.8 M370.1,199.6v-1.1 M370.8,199.6v-1.7 M371.5,199.6v-1.5 M373.6,199.6v-1.3 M374.3,199.6v-0.9 M375.0,199.6v-1.5 M376.4,199.6v-0.9 M378.5,199.6v-1.2 M379.2,199.6v-1.5 M380.6,199.6v-1.1 M381.3,199.6v-0.9 M384.1,199.6v-0.9 M385.5,199.6v-1.3 M386.9,199.6v-1.2 M387.6,199.6v-1.6 M388.3,199.6v-1.1 M389.0,199.6v-1.1 M389.7,199.6v-1.8 M391.1,199.6v-1.9 M391.8,199.6v-1.6 M393.9,199.6v-1.6 M394.6,199.6v-1.3 M396.0,199.6v-0.9 M397.4,199.6v-1.1 M398.1,199.6v-1.5 M398.8,199.6v-1.2 M404.4,199.6v-1.0 M405.1,199.6v-1.6 M405.8,199.6v-1.2 M407.9,199.6v-1.4 M408.6,199.6v-1.1 M410.0,199.6v-1.9 M412.1,199.6v-1.8 M412.8,199.6v-1.1 M413.5,199.6v-1.8 M414.2,199.6v-1.8 M415.6,199.6v-0.9 M417.7,199.6v-1.3 M418.4,199.6v-1.0 M419.8,199.6v-1.3 M421.9,199.6v-1.7 M422.6,199.6v-1.9 M423.3,199.6v-1.0 M424.0,199.6v-1.0 M425.4,199.6v-0.9 M426.1,199.6v-1.3 M427.5,199.6v-1.4 M428.9,199.6v-1.6 M429.6,199.6v-1.1 M431.0,199.6v-1.2 M431.7,199.6v-1.0 M432.4,199.6v-0.9 M433.1,199.6v-0.9 M433.8,199.6v-1.8 M434.5,199.6v-1.3 M435.2,199.6v-1.2 M435.9,199.6v-1.0 M437.3,199.6v-0.9 M438.0,199.6v-0.9" stroke="#f39a2e" stroke-width="0.7" fill="none"/>
<rect x="249.7" y="199.1" width="188.8" height="0.8" fill="#f7b878"/>
<text x="252.5" y="97.7" font-size="8.2">Wild type (C/C)</text>
<text x="252.5" y="116.6" font-size="8.2">Engineered (A/A)</text>
<text x="252.5" y="135.5" font-size="8.2">Wild type (C/C)</text>
<text x="252.5" y="154.4" font-size="8.2">Engineered (A/A)</text>
<text x="252.5" y="173.3" font-size="8.2">Wild type (C/C)</text>
<text x="252.5" y="192.2" font-size="8.2">Engineered (A/A)</text>
<clipPath id="clipb228"><polygon points="251.2,200.9 438.8,200.9 345.0,258.3"/></clipPath>
<mask id="mb228"><rect x="251.2" y="200.9" width="187.6" height="57.4" fill="url(#mB)"/></mask>
<g clip-path="url(#clipb228)"><rect x="251.2" y="200.9" width="187.6" height="57.4" fill="url(#triB)"/><g mask="url(#mb228)"><rect x="251.2" y="200.9" width="187.6" height="57.4" filter="url(#spk)" opacity="0.75"/></g>
<ellipse cx="316.0" cy="216.0" rx="14" ry="8" fill="url(#cloud)"/>
<ellipse cx="398.0" cy="212.0" rx="12" ry="7" fill="url(#cloud)"/>
<path d="M251.2,200.9 L251.2,205.0 L252.2,204.3 L253.2,206.3 L254.2,204.0 L255.2,206.2 L256.2,205.9 L257.2,204.2 L258.2,204.6 L259.2,204.8 L260.2,203.4 L261.2,203.0 L262.2,203.1 L263.2,204.8 L264.2,204.6 L265.2,204.1 L266.2,204.1 L267.2,203.1 L268.2,203.4 L269.2,203.7 L270.2,202.9 L271.2,203.4 L272.2,203.5 L273.2,203.9 L274.2,204.1 L275.2,203.3 L276.2,203.4 L277.2,204.1 L278.2,204.0 L279.2,205.5 L280.2,205.6 L281.2,203.5 L282.2,204.1 L283.2,205.1 L284.2,206.0 L285.2,205.0 L286.2,207.4 L287.2,203.1 L288.2,206.6 L289.2,207.3 L290.2,208.1 L291.2,205.2 L292.2,205.7 L293.2,208.1 L294.2,206.6 L295.2,206.1 L296.2,209.8 L297.2,204.1 L298.2,209.3 L299.2,207.8 L300.2,209.6 L301.2,203.6 L302.2,205.9 L303.2,203.8 L304.2,208.0 L305.2,206.4 L306.2,206.6 L307.2,204.0 L308.2,205.7 L309.2,203.7 L310.2,206.5 L311.2,207.0 L312.2,205.9 L313.2,206.9 L314.2,205.8 L315.2,206.2 L316.2,203.9 L317.2,205.2 L318.2,202.9 L319.2,203.6 L320.2,203.6 L321.2,202.9 L322.2,203.9 L323.2,204.4 L324.2,203.0 L325.2,203.6 L326.2,203.7 L327.2,203.2 L328.2,204.1 L329.2,203.2 L330.2,203.4 L331.2,203.4 L332.2,203.0 L333.2,203.5 L334.2,203.2 L335.2,205.3 L336.2,205.4 L337.2,204.2 L338.2,204.6 L339.2,203.0 L340.2,206.6 L341.2,203.1 L342.2,206.0 L343.2,204.7 L344.2,204.6 L345.2,204.9 L346.2,207.2 L347.2,204.8 L348.2,204.5 L349.2,203.7 L350.2,203.9 L351.2,208.2 L352.2,208.4 L353.2,206.0 L354.2,209.2 L355.2,203.7 L356.2,203.6 L357.2,203.5 L358.2,204.0 L359.2,204.1 L360.2,208.2 L361.2,204.0 L362.2,206.3 L363.2,207.5 L364.2,204.0 L365.2,208.3 L366.2,203.5 L367.2,206.0 L368.2,207.4 L369.2,203.5 L370.2,206.2 L371.2,205.8 L372.2,204.5 L373.2,203.3 L374.2,203.9 L375.2,203.1 L376.2,204.1 L377.2,203.5 L378.2,203.0 L379.2,204.5 L380.2,203.7 L381.2,203.9 L382.2,203.3 L383.2,203.6 L384.2,203.6 L385.2,204.1 L386.2,203.1 L387.2,203.5 L388.2,203.8 L389.2,204.0 L390.2,203.6 L391.2,204.2 L392.2,203.1 L393.2,203.8 L394.2,203.3 L395.2,203.9 L396.2,205.4 L397.2,204.6 L398.2,206.9 L399.2,206.7 L400.2,204.0 L401.2,203.7 L402.2,206.2 L403.2,204.6 L404.2,205.8 L405.2,203.5 L406.2,206.5 L407.2,208.0 L408.2,205.5 L409.2,208.1 L410.2,208.9 L411.2,209.8 L412.2,208.7 L413.2,207.8 L414.2,203.7 L415.2,206.8 L416.2,205.1 L417.2,205.7 L418.2,205.5 L419.2,205.8 L420.2,203.3 L421.2,206.7 L422.2,204.3 L423.2,204.2 L424.2,203.9 L425.2,203.8 L426.2,204.0 L427.2,203.2 L428.2,203.5 L429.2,204.4 L430.2,205.7 L431.2,203.5 L432.2,203.0 L433.2,204.3 L434.2,202.9 L435.2,203.3 L436.2,203.2 L437.2,204.0 L438.2,203.3 L438.8,200.9Z" fill="#f00808" opacity="0.3"/>
<path d="M251.2,200.9 L251.2,202.2 L251.9,202.1 L252.6,202.3 L253.3,202.2 L254.0,202.6 L254.7,202.3 L255.4,202.8 L256.1,202.0 L256.8,202.4 L257.5,202.1 L258.2,202.6 L258.9,203.0 L259.6,202.2 L260.3,202.3 L261.0,202.4 L261.7,202.8 L262.4,202.5 L263.1,202.9 L263.8,203.4 L264.5,202.7 L265.2,203.6 L265.9,203.5 L266.6,203.4 L267.3,202.1 L268.0,203.0 L268.7,203.2 L269.4,202.6 L270.1,203.3 L270.8,202.5 L271.5,204.2 L272.2,202.1 L272.9,203.9 L273.6,205.3 L274.3,203.6 L275.0,203.1 L275.7,201.9 L276.4,202.3 L277.1,203.2 L277.8,203.1 L278.5,204.0 L279.2,202.9 L279.9,203.2 L280.6,203.9 L281.3,202.8 L282.0,203.0 L282.7,203.2 L283.4,205.3 L284.1,205.0 L284.8,204.5 L285.5,203.4 L286.2,204.1 L286.9,203.0 L287.6,204.5 L288.3,204.7 L289.0,204.7 L289.7,202.8 L290.4,204.5 L291.1,201.9 L291.8,203.9 L292.5,204.6 L293.2,204.2 L293.9,202.3 L294.6,203.2 L295.3,204.1 L296.0,204.1 L296.7,203.0 L297.4,202.7 L298.1,202.7 L298.8,202.6 L299.5,202.9 L300.2,202.5 L300.9,203.1 L301.6,202.8 L302.3,202.3 L303.0,202.2 L303.7,201.9 L304.4,202.6 L305.1,202.0 L305.8,202.6 L306.5,202.3 L307.2,202.1 L307.9,202.6 L308.6,202.6 L309.3,202.1 L310.0,202.4 L310.7,202.3 L311.4,202.0 L312.1,202.5 L312.8,202.8 L313.5,201.9 L314.2,202.8 L314.9,202.2 L315.6,202.5 L316.3,202.4 L317.0,203.2 L317.7,203.2 L318.4,202.2 L319.1,203.5 L319.8,203.1 L320.5,203.5 L321.2,203.2 L321.9,202.2 L322.6,202.9 L323.3,204.2 L324.0,202.5 L324.7,202.8 L325.4,202.4 L326.1,203.9 L326.8,203.4 L327.5,202.0 L328.2,203.0 L328.9,203.1 L329.6,205.2 L330.3,203.7 L331.0,203.4 L331.7,204.6 L332.4,202.0 L333.1,202.7 L333.8,201.9 L334.5,203.2 L335.2,205.7 L335.9,203.8 L336.6,205.1 L337.3,202.4 L338.0,205.3 L338.7,205.9 L339.4,203.0 L340.1,202.2 L340.8,203.5 L341.5,202.1 L342.2,202.2 L342.9,202.8 L343.6,204.3 L344.3,202.2 L345.0,202.9 L345.7,202.6 L346.4,204.5 L347.1,202.9 L347.8,203.7 L348.5,202.4 L349.2,203.8 L349.9,203.3 L350.6,204.3 L351.3,202.7 L352.0,203.9 L352.7,203.9 L353.4,203.9 L354.1,202.6 L354.8,203.1 L355.5,203.5 L356.2,202.8 L356.9,202.1 L357.6,201.9 L358.3,201.9 L359.0,202.6 L359.7,202.0 L360.4,202.9 L361.1,202.3 L361.8,202.3 L362.5,202.7 L363.2,202.7 L363.9,202.3 L364.6,202.4 L365.3,202.6 L366.0,202.5 L366.7,201.9 L367.4,202.4 L368.1,202.0 L368.8,202.0 L369.5,202.5 L370.2,202.4 L370.9,202.2 L371.6,203.0 L372.3,202.4 L373.0,202.7 L373.7,202.1 L374.4,202.0 L375.1,202.6 L375.8,202.9 L376.5,202.1 L377.2,202.3 L377.9,202.6 L378.6,203.7 L379.3,202.7 L380.0,202.7 L380.7,202.5 L381.4,204.2 L382.1,204.1 L382.8,203.0 L383.5,203.0 L384.2,204.3 L384.9,204.4 L385.6,202.4 L386.3,202.1 L387.0,202.8 L387.7,203.2 L388.4,205.4 L389.1,204.5 L389.8,205.4 L390.5,202.1 L391.2,204.9 L391.9,202.4 L392.6,205.7 L393.3,203.2 L394.0,204.1 L394.7,205.2 L395.4,203.5 L396.1,202.9 L396.8,205.8 L397.5,204.0 L398.2,204.3 L398.9,204.3 L399.6,203.5 L400.3,205.3 L401.0,203.9 L401.7,204.4 L402.4,204.1 L403.1,204.0 L403.8,205.0 L404.5,203.5 L405.2,204.8 L405.9,202.3 L406.6,203.1 L407.3,203.9 L408.0,202.7 L408.7,202.1 L409.4,203.3 L410.1,203.5 L410.8,203.6 L411.5,201.9 L412.2,203.5 L412.9,202.4 L413.6,202.0 L414.3,202.9 L415.0,202.1 L415.7,202.1 L416.4,201.9 L417.1,202.8 L417.8,202.1 L418.5,202.7 L419.2,202.1 L419.9,202.0 L420.6,202.0 L421.3,202.3 L422.0,202.0 L422.7,202.0 L423.4,202.1 L424.1,202.0 L424.8,202.2 L425.5,202.1 L426.2,202.8 L426.9,202.9 L427.6,202.3 L428.3,202.2 L429.0,202.4 L429.7,202.6 L430.4,202.2 L431.1,202.9 L431.8,203.3 L432.5,202.8 L433.2,202.9 L433.9,203.2 L434.6,203.9 L435.3,203.5 L436.0,204.0 L436.7,204.2 L437.4,202.0 L438.1,202.7 L438.8,203.4 L438.8,200.9Z" fill="#f00808" opacity="0.45"/>
<path d="M251.2,200.9 L251.2,201.4 L251.7,202.5 L252.2,202.0 L252.7,201.9 L253.2,201.9 L253.7,201.5 L254.2,202.8 L254.7,203.2 L255.2,202.8 L255.7,202.4 L256.2,203.5 L256.7,202.3 L257.2,202.8 L257.7,203.7 L258.2,202.6 L258.7,203.1 L259.2,202.5 L259.7,202.9 L260.2,202.6 L260.7,201.6 L261.2,202.5 L261.7,201.7 L262.2,203.8 L262.7,203.8 L263.2,202.5 L263.7,203.1 L264.2,203.4 L264.7,201.8 L265.2,203.1 L265.7,203.1 L266.2,203.4 L266.7,202.6 L267.2,201.4 L267.7,201.7 L268.2,202.2 L268.7,203.4 L269.2,202.5 L269.7,203.2 L270.2,202.2 L270.7,202.0 L271.2,202.5 L271.7,201.6 L272.2,201.7 L272.7,201.5 L273.2,203.1 L273.7,201.9 L274.2,202.6 L274.7,202.2 L275.2,202.8 L275.7,202.0 L276.2,202.9 L276.7,202.5 L277.2,201.5 L277.7,202.4 L278.2,202.6 L278.7,201.8 L279.2,202.3 L279.7,202.3 L280.2,201.4 L280.7,202.1 L281.2,201.6 L281.7,201.7 L282.2,202.1 L282.7,202.3 L283.2,201.6 L283.7,202.0 L284.2,202.1 L284.7,201.4 L285.2,202.1 L285.7,201.7 L286.2,201.8 L286.7,201.9 L287.2,201.5 L287.7,201.6 L288.2,201.8 L288.7,201.9 L289.2,201.6 L289.7,201.5 L290.2,201.8 L290.7,201.7 L291.2,201.7 L291.7,201.4 L292.2,201.9 L292.7,201.9 L293.2,201.9 L293.7,201.9 L294.2,201.6 L294.7,201.4 L295.2,201.7 L295.7,201.8 L296.2,201.6 L296.7,201.5 L297.2,202.1 L297.7,202.1 L298.2,202.0 L298.7,201.7 L299.2,201.4 L299.7,201.5 L300.2,202.2 L300.7,201.7 L301.2,202.3 L301.7,201.8 L302.2,201.9 L302.7,201.8 L303.2,201.5 L303.7,202.6 L304.2,202.3 L304.7,201.4 L305.2,202.3 L305.7,201.7 L306.2,202.7 L306.7,201.9 L307.2,202.4 L307.7,201.6 L308.2,203.1 L308.7,202.5 L309.2,202.5 L309.7,202.1 L310.2,201.6 L310.7,202.5 L311.2,202.8 L311.7,201.6 L312.2,202.5 L312.7,202.0 L313.2,202.4 L313.7,202.8 L314.2,202.5 L314.7,201.8 L315.2,201.9 L315.7,203.3 L316.2,203.7 L316.7,202.5 L317.2,203.6 L317.7,201.4 L318.2,201.6 L318.7,203.3 L319.2,203.3 L319.7,203.4 L320.2,202.6 L320.7,202.9 L321.2,202.7 L321.7,203.0 L322.2,203.1 L322.7,203.3 L323.2,201.5 L323.7,203.1 L324.2,201.5 L324.7,203.1 L325.2,203.3 L325.7,203.4 L326.2,203.2 L326.7,202.0 L327.2,203.1 L327.7,202.2 L328.2,202.3 L328.7,202.4 L329.2,201.6 L329.7,201.8 L330.2,202.0 L330.7,203.1 L331.2,202.6 L331.7,201.6 L332.2,202.0 L332.7,202.2 L333.2,202.7 L333.7,202.6 L334.2,201.8 L334.7,201.5 L335.2,201.8 L335.7,202.4 L336.2,202.2 L336.7,202.3 L337.2,201.7 L337.7,201.6 L338.2,201.6 L338.7,201.6 L339.2,201.5 L339.7,202.2 L340.2,201.5 L340.7,201.5 L341.2,201.6 L341.7,201.6 L342.2,201.4 L342.7,202.0 L343.2,201.5 L343.7,201.6 L344.2,201.8 L344.7,201.5 L345.2,201.5 L345.7,201.5 L346.2,201.7 L346.7,201.7 L347.2,201.9 L347.7,201.6 L348.2,201.8 L348.7,201.5 L349.2,201.5 L349.7,201.5 L350.2,201.6 L350.7,201.8 L351.2,201.7 L351.7,201.8 L352.2,201.4 L352.7,201.8 L353.2,202.1 L353.7,201.5 L354.2,201.8 L354.7,202.2 L355.2,201.8 L355.7,201.4 L356.2,202.1 L356.7,202.3 L357.2,202.1 L357.7,202.0 L358.2,202.5 L358.7,202.0 L359.2,202.0 L359.7,201.8 L360.2,202.5 L360.7,202.4 L361.2,202.8 L361.7,202.7 L362.2,202.7 L362.7,202.3 L363.2,202.4 L363.7,201.9 L364.2,201.8 L364.7,203.0 L365.2,202.7 L365.7,202.9 L366.2,201.6 L366.7,202.8 L367.2,202.2 L367.7,203.0 L368.2,203.3 L368.7,202.1 L369.2,201.7 L369.7,202.2 L370.2,202.6 L370.7,201.4 L371.2,203.4 L371.7,203.4 L372.2,202.4 L372.7,202.4 L373.2,202.8 L373.7,201.6 L374.2,202.8 L374.7,202.1 L375.2,203.4 L375.7,201.9 L376.2,201.5 L376.7,202.6 L377.2,202.8 L377.7,203.0 L378.2,201.8 L378.7,202.1 L379.2,202.0 L379.7,202.4 L380.2,203.7 L380.7,203.0 L381.2,201.7 L381.7,203.1 L382.2,202.4 L382.7,201.6 L383.2,203.5 L383.7,201.5 L384.2,202.0 L384.7,202.9 L385.2,201.6 L385.7,203.3 L386.2,201.5 L386.7,203.1 L387.2,202.2 L387.7,202.8 L388.2,201.6 L388.7,201.7 L389.2,202.0 L389.7,201.5 L390.2,202.8 L390.7,201.6 L391.2,202.6 L391.7,201.6 L392.2,201.8 L392.7,202.1 L393.2,202.3 L393.7,202.0 L394.2,202.3 L394.7,201.7 L395.2,201.7 L395.7,202.2 L396.2,201.9 L396.7,201.9 L397.2,201.5 L397.7,201.8 L398.2,202.0 L398.7,201.7 L399.2,201.5 L399.7,201.5 L400.2,201.5 L400.7,201.5 L401.2,201.5 L401.7,201.4 L402.2,201.8 L402.7,201.7 L403.2,201.7 L403.7,201.8 L404.2,201.6 L404.7,201.4 L405.2,201.9 L405.7,201.4 L406.2,201.5 L406.7,201.9 L407.2,201.6 L407.7,201.6 L408.2,201.8 L408.7,201.8 L409.2,202.1 L409.7,202.0 L410.2,201.9 L410.7,201.5 L411.2,202.1 L411.7,201.8 L412.2,201.4 L412.7,202.2 L413.2,201.9 L413.7,201.6 L414.2,201.8 L414.7,201.8 L415.2,202.2 L415.7,202.0 L416.2,202.3 L416.7,202.1 L417.2,202.6 L417.7,202.3 L418.2,201.7 L418.7,202.3 L419.2,202.3 L419.7,201.9 L420.2,201.6 L420.7,202.0 L421.2,202.2 L421.7,203.2 L422.2,201.9 L422.7,202.8 L423.2,202.4 L423.7,201.7 L424.2,202.4 L424.7,202.5 L425.2,202.6 L425.7,202.3 L426.2,202.4 L426.7,203.3 L427.2,202.1 L427.7,201.8 L428.2,201.8 L428.7,202.8 L429.2,201.5 L429.7,202.3 L430.2,202.1 L430.7,201.7 L431.2,201.6 L431.7,202.6 L432.2,202.9 L432.7,202.1 L433.2,203.2 L433.7,202.2 L434.2,202.4 L434.7,202.9 L435.2,203.1 L435.7,202.9 L436.2,201.9 L436.7,202.3 L437.2,203.0 L437.7,202.9 L438.2,201.7 L438.7,201.7 L438.8,200.9Z" fill="#f00808" opacity="0.5"/>
<mask id="wb228"><rect x="251.2" y="200.9" width="187.6" height="57.4" fill="url(#wmB)"/></mask>
<g mask="url(#wb228)"><rect x="251.2" y="200.9" width="187.6" height="57.4" filter="url(#wspk)" opacity="0.55"/></g>
</g>
<rect x="251.2" y="200.7" width="187.6" height="1.8" fill="#f00000"/>
<line x1="263.40" y1="201.40" x2="312.00" y2="231.14" stroke="#fff" stroke-width="0.9"/>
<circle cx="312.1" cy="216.0" r="1.3" fill="#f22"/>
<circle cx="312.1" cy="216.0" r="2.6" fill="none" stroke="#111" stroke-width="1.3"/>
<circle cx="322.0" cy="216.0" r="1.3" fill="#f22"/>
<circle cx="322.0" cy="216.0" r="2.6" fill="none" stroke="#111" stroke-width="1.3"/>
<circle cx="395.0" cy="215.7" r="1.3" fill="#f22"/>
<circle cx="395.0" cy="215.7" r="2.6" fill="none" stroke="#111" stroke-width="1.3"/>
<circle cx="405.5" cy="205.5" r="1.3" fill="#f22"/>
<circle cx="405.5" cy="205.5" r="2.6" fill="none" stroke="#111" stroke-width="1.3"/>
<rect x="245.5" y="222.5" width="7" height="16" fill="url(#cbr)" stroke="#999" stroke-width="0.4"/>
<text x="253.2" y="226.3" font-size="8.5">17</text>
<text x="253.2" y="242.3" font-size="8.5">0</text>
<text x="345.5" y="244.4" font-size="9" text-anchor="middle">GM12878 Engineered (A/A)</text>
<text x="345.5" y="255.2" font-size="9" text-anchor="middle">Raichu-normalized</text>
<path d="M298.8,201.5 L321.3,215.5 M346.9,201.5 L321.3,215.5" stroke="#111" stroke-width="1" stroke-dasharray="1.5,1.2" fill="none"/>
<text x="457.3" y="11.0" font-size="12.5" font-weight="bold" fill="#000" style="stroke:#000">b</text>
<ellipse cx="548.4" cy="84.1" rx="56.9" ry="35.6" transform="rotate(40 548.4 84.1)" fill="rgba(92,192,98,0.5)" stroke="rgb(80,180,85)" stroke-width="1.4"/>
<ellipse cx="564.2" cy="68.3" rx="56.9" ry="35.6" transform="rotate(40 564.2 68.3)" fill="rgba(90,155,212,0.5)" stroke="rgb(80,145,205)" stroke-width="1.4"/>
<ellipse cx="579.1" cy="68.3" rx="56.9" ry="35.6" transform="rotate(-40 579.1 68.3)" fill="rgba(255,150,30,0.5)" stroke="rgb(245,130,20)" stroke-width="1.4"/>
<ellipse cx="594.9" cy="84.1" rx="56.9" ry="35.6" transform="rotate(-40 594.9 84.1)" fill="rgba(241,90,96,0.45)" stroke="rgb(230,80,90)" stroke-width="1.4"/>
<text x="627.4" y="83.8" font-size="8.2" text-anchor="middle">249</text>
<text x="600.5" y="36.4" font-size="8.2" text-anchor="middle">65</text>
<text x="614.8" y="57.0" font-size="8.2" text-anchor="middle">650</text>
<text x="543.7" y="36.4" font-size="8.2" text-anchor="middle">937</text>
<text x="605.3" y="102.8" font-size="8.2" text-anchor="middle">158</text>
<text x="572.1" y="45.9" font-size="8.2" text-anchor="middle">28</text>
<text x="595.8" y="71.2" font-size="8.2" text-anchor="middle">357</text>
<text x="515.2" y="83.8" font-size="8.2" text-anchor="middle">245</text>
<text x="572.1" y="123.3" font-size="8.2" text-anchor="middle">30</text>
<text x="538.9" y="102.8" font-size="8.2" text-anchor="middle">59</text>
<text x="554.7" y="112.3" font-size="8.2" text-anchor="middle">155</text>
<text x="529.4" y="57.0" font-size="8.2" text-anchor="middle">3,322</text>
<text x="589.5" y="112.3" font-size="8.2" text-anchor="middle">757</text>
<text x="548.4" y="71.2" font-size="8.2" text-anchor="middle">268</text>
<text x="572.1" y="90.2" font-size="8.2" text-anchor="middle">5,629</text>
<text x="530.9" y="10.0" font-size="8.2" text-anchor="middle">GM12878 (C/C)</text>
<text x="530.9" y="20.4" font-size="8.2" text-anchor="middle">Raichu</text>
<text x="485.5" y="39.4" font-size="8.2" text-anchor="middle">GM12878 (C/C)</text>
<text x="485.5" y="49.8" font-size="8.2" text-anchor="middle">ICE</text>
<text x="613.2" y="10.6" font-size="8.2" text-anchor="middle">GM12878 (A/A)</text>
<text x="613.2" y="21.0" font-size="8.2" text-anchor="middle">ICE</text>
<text x="656.8" y="39.6" font-size="8.2" text-anchor="middle">GM12878 (A/A)</text>
<text x="656.8" y="50.0" font-size="8.2" text-anchor="middle">Raichu</text>
<text x="469.2" y="147.4" font-size="12.5" font-weight="bold" fill="#000" style="stroke:#000">c</text>
<line x1="513.50" y1="154.20" x2="513.50" y2="238.30" stroke="#222" stroke-width="1.3"/>
<line x1="512.90" y1="237.60" x2="650.00" y2="237.60" stroke="#222" stroke-width="1.3"/>
<line x1="508.50" y1="157.00" x2="513.50" y2="157.00" stroke="#222" stroke-width="1.3"/>
<text x="501.6" y="159.9" font-size="8.2" text-anchor="end">10</text>
<text x="501.6" y="156.4" font-size="6.2">7</text>
<line x1="508.50" y1="180.60" x2="513.50" y2="180.60" stroke="#222" stroke-width="1.3"/>
<text x="501.6" y="183.5" font-size="8.2" text-anchor="end">10</text>
<text x="501.6" y="180.0" font-size="6.2">6</text>
<line x1="508.50" y1="204.20" x2="513.50" y2="204.20" stroke="#222" stroke-width="1.3"/>
<text x="501.6" y="207.1" font-size="8.2" text-anchor="end">10</text>
<text x="501.6" y="203.6" font-size="6.2">5</text>
<line x1="508.50" y1="227.80" x2="513.50" y2="227.80" stroke="#222" stroke-width="1.3"/>
<text x="501.6" y="230.7" font-size="8.2" text-anchor="end">10</text>
<text x="501.6" y="227.2" font-size="6.2">4</text>
<text x="484.0" y="196.0" font-size="8.2" text-anchor="middle" transform="rotate(-90 484.0 196.0)">Loop Sizes (bp)</text>
<path d="M530.7,157.7 L530.8,158.6 L530.8,159.6 L530.8,160.5 L530.9,161.5 L530.9,162.4 L531.0,163.3 L531.0,164.3 L531.1,165.2 L531.1,166.2 L531.2,167.1 L531.2,168.0 L531.3,169.0 L531.4,169.9 L531.5,170.9 L531.6,171.8 L531.8,172.7 L532.0,173.7 L532.2,174.6 L532.4,175.6 L532.6,176.5 L532.9,177.4 L533.2,178.4 L533.6,179.3 L533.9,180.3 L534.3,181.2 L534.8,182.1 L535.2,183.1 L535.7,184.0 L536.2,185.0 L536.7,185.9 L537.1,186.8 L537.6,187.8 L538.1,188.7 L538.6,189.7 L539.0,190.6 L539.5,191.5 L540.0,192.5 L540.5,193.4 L540.9,194.4 L541.4,195.3 L541.8,196.2 L542.2,197.2 L542.6,198.1 L543.0,199.1 L543.3,200.0 L543.4,200.9 L543.4,201.9 L543.2,202.8 L542.9,203.8 L542.5,204.7 L542.0,205.6 L541.6,206.6 L541.1,207.5 L540.7,208.5 L540.2,209.4 L539.7,210.3 L539.3,211.3 L538.8,212.2 L538.4,213.2 L537.9,214.1 L537.4,215.0 L537.0,216.0 L536.5,216.9 L536.0,217.9 L535.6,218.8 L535.1,219.7 L534.7,220.7 L534.3,221.6 L533.8,222.6 L533.4,223.5 L533.0,224.4 L532.6,225.4 L532.2,226.3 L531.8,227.3 L531.4,228.2 L531.1,229.1 L530.9,230.1 L530.8,231.0 L530.7,232.0 L530.7,232.9 L530.1,232.9 L530.1,232.0 L530.0,231.0 L529.9,230.1 L529.7,229.1 L529.4,228.2 L529.0,227.3 L528.6,226.3 L528.2,225.4 L527.8,224.4 L527.4,223.5 L527.0,222.6 L526.5,221.6 L526.1,220.7 L525.7,219.7 L525.2,218.8 L524.8,217.9 L524.3,216.9 L523.8,216.0 L523.4,215.0 L522.9,214.1 L522.4,213.2 L522.0,212.2 L521.5,211.3 L521.1,210.3 L520.6,209.4 L520.1,208.5 L519.7,207.5 L519.2,206.6 L518.8,205.6 L518.3,204.7 L517.9,203.8 L517.6,202.8 L517.4,201.9 L517.4,200.9 L517.5,200.0 L517.8,199.1 L518.2,198.1 L518.6,197.2 L519.0,196.2 L519.4,195.3 L519.9,194.4 L520.3,193.4 L520.8,192.5 L521.3,191.5 L521.8,190.6 L522.2,189.7 L522.7,188.7 L523.2,187.8 L523.7,186.8 L524.1,185.9 L524.6,185.0 L525.1,184.0 L525.6,183.1 L526.0,182.1 L526.5,181.2 L526.9,180.3 L527.2,179.3 L527.6,178.4 L527.9,177.4 L528.1,176.5 L528.4,175.6 L528.6,174.6 L528.8,173.7 L529.0,172.7 L529.1,171.8 L529.3,170.9 L529.4,169.9 L529.5,169.0 L529.6,168.0 L529.6,167.1 L529.7,166.2 L529.7,165.2 L529.8,164.3 L529.8,163.3 L529.9,162.4 L529.9,161.5 L530.0,160.5 L530.0,159.6 L530.0,158.6 L530.1,157.7Z" fill="rgb(135,200,130)" stroke="#778a76" stroke-width="1.6" stroke-linejoin="round"/>
<line x1="530.40" y1="174.00" x2="530.40" y2="224.40" stroke="#444" stroke-width="2.2"/>
<rect x="526.90" y="191.00" width="7.00" height="23.80" fill="#444"/>
<line x1="527.40" y1="202.70" x2="533.40" y2="202.70" stroke="#fff" stroke-width="1.5"/>
<line x1="530.40" y1="237.60" x2="530.40" y2="242.30" stroke="#222" stroke-width="1.1"/>
<path d="M565.0,163.3 L565.1,164.1 L565.1,165.0 L565.1,165.8 L565.1,166.7 L565.2,167.5 L565.2,168.3 L565.2,169.2 L565.3,170.0 L565.3,170.9 L565.3,171.7 L565.4,172.5 L565.4,173.4 L565.6,174.2 L565.8,175.1 L566.1,175.9 L566.4,176.7 L566.8,177.6 L567.1,178.4 L567.5,179.3 L567.9,180.1 L568.4,180.9 L568.8,181.8 L569.3,182.6 L569.8,183.5 L570.3,184.3 L570.8,185.1 L571.2,186.0 L571.6,186.8 L572.0,187.7 L572.3,188.5 L572.6,189.3 L573.0,190.2 L573.3,191.0 L573.7,191.9 L574.0,192.7 L574.3,193.5 L574.7,194.4 L575.0,195.2 L575.4,196.1 L575.7,196.9 L576.0,197.7 L576.3,198.6 L576.6,199.4 L576.8,200.3 L577.1,201.1 L577.3,201.9 L577.4,202.8 L577.4,203.6 L577.4,204.5 L577.2,205.3 L577.1,206.1 L576.9,207.0 L576.7,207.8 L576.5,208.7 L576.2,209.5 L575.9,210.3 L575.6,211.2 L575.3,212.0 L575.0,212.9 L574.6,213.7 L574.1,214.5 L573.7,215.4 L573.2,216.2 L572.7,217.1 L572.1,217.9 L571.6,218.7 L571.1,219.6 L570.5,220.4 L570.0,221.3 L569.4,222.1 L568.9,222.9 L568.3,223.8 L567.8,224.6 L567.2,225.5 L566.7,226.3 L566.3,227.1 L565.8,228.0 L565.5,228.8 L565.3,229.7 L565.0,230.5 L564.4,230.5 L564.1,229.7 L563.9,228.8 L563.6,228.0 L563.1,227.1 L562.7,226.3 L562.2,225.5 L561.6,224.6 L561.1,223.8 L560.5,222.9 L560.0,222.1 L559.4,221.3 L558.9,220.4 L558.3,219.6 L557.8,218.7 L557.3,217.9 L556.7,217.1 L556.2,216.2 L555.7,215.4 L555.3,214.5 L554.8,213.7 L554.4,212.9 L554.1,212.0 L553.8,211.2 L553.5,210.3 L553.2,209.5 L552.9,208.7 L552.7,207.8 L552.5,207.0 L552.3,206.1 L552.2,205.3 L552.0,204.5 L552.0,203.6 L552.0,202.8 L552.1,201.9 L552.3,201.1 L552.6,200.3 L552.8,199.4 L553.1,198.6 L553.4,197.7 L553.7,196.9 L554.0,196.1 L554.4,195.2 L554.7,194.4 L555.1,193.5 L555.4,192.7 L555.7,191.9 L556.1,191.0 L556.4,190.2 L556.8,189.3 L557.1,188.5 L557.4,187.7 L557.8,186.8 L558.2,186.0 L558.6,185.1 L559.1,184.3 L559.6,183.5 L560.1,182.6 L560.6,181.8 L561.0,180.9 L561.5,180.1 L561.9,179.3 L562.3,178.4 L562.6,177.6 L563.0,176.7 L563.3,175.9 L563.6,175.1 L563.8,174.2 L564.0,173.4 L564.0,172.5 L564.1,171.7 L564.1,170.9 L564.1,170.0 L564.2,169.2 L564.2,168.3 L564.2,167.5 L564.3,166.7 L564.3,165.8 L564.3,165.0 L564.3,164.1 L564.4,163.3Z" fill="rgb(95,155,212)" stroke="#474747" stroke-width="1.6" stroke-linejoin="round"/>
<line x1="564.70" y1="178.00" x2="564.70" y2="224.40" stroke="#444" stroke-width="2.2"/>
<rect x="561.20" y="191.60" width="7.00" height="23.20" fill="#444"/>
<line x1="561.70" y1="203.50" x2="567.70" y2="203.50" stroke="#fff" stroke-width="1.5"/>
<line x1="564.70" y1="237.60" x2="564.70" y2="242.30" stroke="#222" stroke-width="1.1"/>
<path d="M599.3,159.4 L599.4,160.3 L599.4,161.3 L599.4,162.2 L599.5,163.2 L599.5,164.1 L599.6,165.0 L599.6,166.0 L599.7,166.9 L599.7,167.9 L599.8,168.8 L599.9,169.7 L600.0,170.7 L600.1,171.6 L600.3,172.6 L600.4,173.5 L600.5,174.4 L600.7,175.4 L600.8,176.3 L600.9,177.3 L601.1,178.2 L601.2,179.1 L601.5,180.1 L601.9,181.0 L602.3,182.0 L602.8,182.9 L603.3,183.8 L603.8,184.8 L604.4,185.7 L605.0,186.7 L605.6,187.6 L606.2,188.5 L606.8,189.5 L607.4,190.4 L607.9,191.4 L608.5,192.3 L609.0,193.2 L609.4,194.2 L609.9,195.1 L610.3,196.1 L610.7,197.0 L611.0,197.9 L611.3,198.9 L611.5,199.8 L611.8,200.8 L611.9,201.7 L612.0,202.6 L612.1,203.6 L612.0,204.5 L611.9,205.5 L611.8,206.4 L611.6,207.3 L611.4,208.3 L611.1,209.2 L610.8,210.2 L610.4,211.1 L609.9,212.0 L609.5,213.0 L609.0,213.9 L608.4,214.9 L607.8,215.8 L607.1,216.7 L606.5,217.7 L605.8,218.6 L605.1,219.6 L604.4,220.5 L603.7,221.4 L603.0,222.4 L602.3,223.3 L601.7,224.3 L601.1,225.2 L600.7,226.1 L600.3,227.1 L600.1,228.0 L599.8,229.0 L599.6,229.9 L599.5,230.8 L599.4,231.8 L599.3,232.7 L599.3,233.7 L599.3,234.6 L598.7,234.6 L598.7,233.7 L598.7,232.7 L598.6,231.8 L598.5,230.8 L598.4,229.9 L598.2,229.0 L597.9,228.0 L597.7,227.1 L597.3,226.1 L596.9,225.2 L596.3,224.3 L595.7,223.3 L595.0,222.4 L594.3,221.4 L593.6,220.5 L592.9,219.6 L592.2,218.6 L591.5,217.7 L590.9,216.7 L590.2,215.8 L589.6,214.9 L589.0,213.9 L588.5,213.0 L588.1,212.0 L587.6,211.1 L587.2,210.2 L586.9,209.2 L586.6,208.3 L586.4,207.3 L586.2,206.4 L586.1,205.5 L586.0,204.5 L585.9,203.6 L586.0,202.6 L586.1,201.7 L586.2,200.8 L586.5,199.8 L586.7,198.9 L587.0,197.9 L587.3,197.0 L587.7,196.1 L588.1,195.1 L588.6,194.2 L589.0,193.2 L589.5,192.3 L590.1,191.4 L590.6,190.4 L591.2,189.5 L591.8,188.5 L592.4,187.6 L593.0,186.7 L593.6,185.7 L594.2,184.8 L594.7,183.8 L595.2,182.9 L595.7,182.0 L596.1,181.0 L596.5,180.1 L596.8,179.1 L596.9,178.2 L597.1,177.3 L597.2,176.3 L597.3,175.4 L597.5,174.4 L597.6,173.5 L597.7,172.6 L597.9,171.6 L598.0,170.7 L598.1,169.7 L598.2,168.8 L598.3,167.9 L598.3,166.9 L598.4,166.0 L598.4,165.0 L598.5,164.1 L598.5,163.2 L598.6,162.2 L598.6,161.3 L598.6,160.3 L598.7,159.4Z" fill="rgb(240,165,80)" stroke="#85786a" stroke-width="1.6" stroke-linejoin="round"/>
<line x1="599.00" y1="172.10" x2="599.00" y2="224.40" stroke="#444" stroke-width="2.2"/>
<rect x="595.50" y="191.80" width="7.00" height="23.00" fill="#444"/>
<line x1="596.00" y1="202.70" x2="602.00" y2="202.70" stroke="#fff" stroke-width="1.5"/>
<line x1="599.00" y1="237.60" x2="599.00" y2="242.30" stroke="#222" stroke-width="1.1"/>
<path d="M633.4,166.7 L633.5,167.5 L633.5,168.3 L633.5,169.1 L633.5,169.9 L633.6,170.7 L633.6,171.5 L633.6,172.3 L633.7,173.1 L633.7,173.9 L633.8,174.7 L633.9,175.5 L634.0,176.3 L634.1,177.1 L634.3,177.9 L634.4,178.7 L634.5,179.5 L634.7,180.3 L634.8,181.1 L635.0,181.9 L635.1,182.7 L635.3,183.5 L635.4,184.3 L635.6,185.1 L635.8,185.9 L636.1,186.7 L636.4,187.5 L636.7,188.3 L637.0,189.1 L637.3,189.9 L637.7,190.7 L638.1,191.5 L638.6,192.3 L639.2,193.1 L639.7,193.9 L640.3,194.7 L640.9,195.5 L641.5,196.3 L642.1,197.1 L642.7,197.9 L643.3,198.6 L643.9,199.4 L644.5,200.2 L645.1,201.0 L645.5,201.8 L645.7,202.6 L645.7,203.4 L645.4,204.2 L644.8,205.0 L644.1,205.8 L643.3,206.6 L642.5,207.4 L641.5,208.2 L640.5,209.0 L639.6,209.8 L638.8,210.6 L638.1,211.4 L637.5,212.2 L637.0,213.0 L636.6,213.8 L636.2,214.6 L635.8,215.4 L635.4,216.2 L635.1,217.0 L634.8,217.8 L634.5,218.6 L634.3,219.4 L634.1,220.2 L633.9,221.0 L633.8,221.8 L633.7,222.6 L633.6,223.4 L633.6,224.2 L633.5,225.0 L633.4,225.8 L633.4,226.6 L633.4,227.4 L633.4,228.2 L633.4,229.0 L633.4,229.8 L633.4,230.6 L632.8,230.6 L632.8,229.8 L632.8,229.0 L632.8,228.2 L632.8,227.4 L632.8,226.6 L632.8,225.8 L632.7,225.0 L632.6,224.2 L632.6,223.4 L632.5,222.6 L632.4,221.8 L632.3,221.0 L632.1,220.2 L631.9,219.4 L631.7,218.6 L631.4,217.8 L631.1,217.0 L630.8,216.2 L630.4,215.4 L630.0,214.6 L629.6,213.8 L629.2,213.0 L628.7,212.2 L628.1,211.4 L627.4,210.6 L626.6,209.8 L625.7,209.0 L624.7,208.2 L623.7,207.4 L622.9,206.6 L622.1,205.8 L621.4,205.0 L620.8,204.2 L620.5,203.4 L620.5,202.6 L620.7,201.8 L621.1,201.0 L621.7,200.2 L622.3,199.4 L622.9,198.6 L623.5,197.9 L624.1,197.1 L624.7,196.3 L625.3,195.5 L625.9,194.7 L626.5,193.9 L627.0,193.1 L627.6,192.3 L628.1,191.5 L628.5,190.7 L628.9,189.9 L629.2,189.1 L629.5,188.3 L629.8,187.5 L630.1,186.7 L630.4,185.9 L630.6,185.1 L630.8,184.3 L630.9,183.5 L631.1,182.7 L631.2,181.9 L631.4,181.1 L631.5,180.3 L631.7,179.5 L631.8,178.7 L631.9,177.9 L632.1,177.1 L632.2,176.3 L632.3,175.5 L632.4,174.7 L632.5,173.9 L632.5,173.1 L632.6,172.3 L632.6,171.5 L632.6,170.7 L632.7,169.9 L632.7,169.1 L632.7,168.3 L632.7,167.5 L632.8,166.7Z" fill="rgb(228,95,105)" stroke="#454545" stroke-width="1.6" stroke-linejoin="round"/>
<line x1="633.10" y1="182.50" x2="633.10" y2="218.70" stroke="#444" stroke-width="2.2"/>
<rect x="629.60" y="194.40" width="7.00" height="17.00" fill="#444"/>
<line x1="630.10" y1="203.50" x2="636.10" y2="203.50" stroke="#fff" stroke-width="1.5"/>
<line x1="633.10" y1="237.60" x2="633.10" y2="242.30" stroke="#222" stroke-width="1.1"/>
<text x="529.0" y="252.2" font-size="8.2" text-anchor="end" transform="rotate(-30 529.0 252.2)">C/C (ICE)</text>
<text x="563.4" y="252.2" font-size="8.2" text-anchor="end" transform="rotate(-30 563.4 252.2)">C/C (Raichu)</text>
<text x="597.8" y="252.2" font-size="8.2" text-anchor="end" transform="rotate(-30 597.8 252.2)">A/A (ICE)</text>
<text x="632.1" y="252.2" font-size="8.2" text-anchor="end" transform="rotate(-30 632.1 252.2)">A/A (Raichu)</text>
<text x="1.3" y="285.8" font-size="12.5" font-weight="bold" fill="#000" style="stroke:#000">d</text>
<text x="127.2" y="278.6" font-size="9" text-anchor="middle">ICE-normalized signals</text>
<text x="345.6" y="278.6" font-size="9" text-anchor="middle">Raichu-normalized signals</text>
<g shape-rendering="crispEdges">
<rect x="40.30" y="300.20" width="7.85" height="7.85" fill="#3f61aa"/>
<rect x="47.85" y="300.20" width="7.85" height="7.85" fill="#426db0"/>
<rect x="55.39" y="300.20" width="7.85" height="7.85" fill="#3f61aa"/>
<rect x="62.94" y="300.20" width="7.85" height="7.85" fill="#3b56a4"/>
<rect x="70.48" y="300.20" width="7.85" height="7.85" fill="#5183bb"/>
<rect x="78.03" y="300.20" width="7.85" height="7.85" fill="#5a8ec1"/>
<rect x="85.57" y="300.20" width="7.85" height="7.85" fill="#426db0"/>
<rect x="93.12" y="300.20" width="7.85" height="7.85" fill="#34409a"/>
<rect x="100.66" y="300.20" width="7.85" height="7.85" fill="#313695"/>
<rect x="108.21" y="300.20" width="7.85" height="7.85" fill="#313695"/>
<rect x="115.75" y="300.20" width="7.85" height="7.85" fill="#313695"/>
<rect x="40.30" y="307.75" width="7.85" height="7.85" fill="#4878b6"/>
<rect x="47.85" y="307.75" width="7.85" height="7.85" fill="#5183bb"/>
<rect x="55.39" y="307.75" width="7.85" height="7.85" fill="#3b56a4"/>
<rect x="62.94" y="307.75" width="7.85" height="7.85" fill="#426db0"/>
<rect x="70.48" y="307.75" width="7.85" height="7.85" fill="#5183bb"/>
<rect x="78.03" y="307.75" width="7.85" height="7.85" fill="#5183bb"/>
<rect x="85.57" y="307.75" width="7.85" height="7.85" fill="#426db0"/>
<rect x="93.12" y="307.75" width="7.85" height="7.85" fill="#384b9f"/>
<rect x="100.66" y="307.75" width="7.85" height="7.85" fill="#313695"/>
<rect x="108.21" y="307.75" width="7.85" height="7.85" fill="#313695"/>
<rect x="115.75" y="307.75" width="7.85" height="7.85" fill="#313695"/>
<rect x="40.30" y="315.29" width="7.85" height="7.85" fill="#4878b6"/>
<rect x="47.85" y="315.29" width="7.85" height="7.85" fill="#3f61aa"/>
<rect x="55.39" y="315.29" width="7.85" height="7.85" fill="#5183bb"/>
<rect x="62.94" y="315.29" width="7.85" height="7.85" fill="#5689be"/>
<rect x="70.48" y="315.29" width="7.85" height="7.85" fill="#5689be"/>
<rect x="78.03" y="315.29" width="7.85" height="7.85" fill="#72abd0"/>
<rect x="85.57" y="315.29" width="7.85" height="7.85" fill="#5689be"/>
<rect x="93.12" y="315.29" width="7.85" height="7.85" fill="#4878b6"/>
<rect x="100.66" y="315.29" width="7.85" height="7.85" fill="#3b56a4"/>
<rect x="108.21" y="315.29" width="7.85" height="7.85" fill="#313695"/>
<rect x="115.75" y="315.29" width="7.85" height="7.85" fill="#313695"/>
<rect x="40.30" y="322.84" width="7.85" height="7.85" fill="#5a8ec1"/>
<rect x="47.85" y="322.84" width="7.85" height="7.85" fill="#69a0ca"/>
<rect x="55.39" y="322.84" width="7.85" height="7.85" fill="#69a0ca"/>
<rect x="62.94" y="322.84" width="7.85" height="7.85" fill="#5689be"/>
<rect x="70.48" y="322.84" width="7.85" height="7.85" fill="#6ea5cd"/>
<rect x="78.03" y="322.84" width="7.85" height="7.85" fill="#9fd0e4"/>
<rect x="85.57" y="322.84" width="7.85" height="7.85" fill="#72abd0"/>
<rect x="93.12" y="322.84" width="7.85" height="7.85" fill="#69a0ca"/>
<rect x="100.66" y="322.84" width="7.85" height="7.85" fill="#384b9f"/>
<rect x="108.21" y="322.84" width="7.85" height="7.85" fill="#313695"/>
<rect x="115.75" y="322.84" width="7.85" height="7.85" fill="#313695"/>
<rect x="40.30" y="330.38" width="7.85" height="7.85" fill="#69a0ca"/>
<rect x="47.85" y="330.38" width="7.85" height="7.85" fill="#72abd0"/>
<rect x="55.39" y="330.38" width="7.85" height="7.85" fill="#72abd0"/>
<rect x="62.94" y="330.38" width="7.85" height="7.85" fill="#8ec2dd"/>
<rect x="70.48" y="330.38" width="7.85" height="7.85" fill="#9fd0e4"/>
<rect x="78.03" y="330.38" width="7.85" height="7.85" fill="#e2f4f4"/>
<rect x="85.57" y="330.38" width="7.85" height="7.85" fill="#e2f4f4"/>
<rect x="93.12" y="330.38" width="7.85" height="7.85" fill="#69a0ca"/>
<rect x="100.66" y="330.38" width="7.85" height="7.85" fill="#3b56a4"/>
<rect x="108.21" y="330.38" width="7.85" height="7.85" fill="#3b56a4"/>
<rect x="115.75" y="330.38" width="7.85" height="7.85" fill="#384b9f"/>
<rect x="40.30" y="337.93" width="7.85" height="7.85" fill="#94c7df"/>
<rect x="47.85" y="337.93" width="7.85" height="7.85" fill="#a5d4e6"/>
<rect x="55.39" y="337.93" width="7.85" height="7.85" fill="#a5d4e6"/>
<rect x="62.94" y="337.93" width="7.85" height="7.85" fill="#abd9e9"/>
<rect x="70.48" y="337.93" width="7.85" height="7.85" fill="#fff8b4"/>
<rect x="78.03" y="337.93" width="7.85" height="7.85" fill="#a50026"/>
<rect x="85.57" y="337.93" width="7.85" height="7.85" fill="#cae8f2"/>
<rect x="93.12" y="337.93" width="7.85" height="7.85" fill="#6ea5cd"/>
<rect x="100.66" y="337.93" width="7.85" height="7.85" fill="#6ea5cd"/>
<rect x="108.21" y="337.93" width="7.85" height="7.85" fill="#4878b6"/>
<rect x="115.75" y="337.93" width="7.85" height="7.85" fill="#384b9f"/>
<rect x="40.30" y="345.47" width="7.85" height="7.85" fill="#abd9e9"/>
<rect x="47.85" y="345.47" width="7.85" height="7.85" fill="#abd9e9"/>
<rect x="55.39" y="345.47" width="7.85" height="7.85" fill="#9fd0e4"/>
<rect x="62.94" y="345.47" width="7.85" height="7.85" fill="#9fd0e4"/>
<rect x="70.48" y="345.47" width="7.85" height="7.85" fill="#f7fccd"/>
<rect x="78.03" y="345.47" width="7.85" height="7.85" fill="#f7fccd"/>
<rect x="85.57" y="345.47" width="7.85" height="7.85" fill="#a5d4e6"/>
<rect x="93.12" y="345.47" width="7.85" height="7.85" fill="#5183bb"/>
<rect x="100.66" y="345.47" width="7.85" height="7.85" fill="#3b56a4"/>
<rect x="108.21" y="345.47" width="7.85" height="7.85" fill="#384b9f"/>
<rect x="115.75" y="345.47" width="7.85" height="7.85" fill="#313695"/>
<rect x="40.30" y="353.02" width="7.85" height="7.85" fill="#b0dbea"/>
<rect x="47.85" y="353.02" width="7.85" height="7.85" fill="#9fd0e4"/>
<rect x="55.39" y="353.02" width="7.85" height="7.85" fill="#dff2f8"/>
<rect x="62.94" y="353.02" width="7.85" height="7.85" fill="#bbe1ee"/>
<rect x="70.48" y="353.02" width="7.85" height="7.85" fill="#83b9d8"/>
<rect x="78.03" y="353.02" width="7.85" height="7.85" fill="#b0dbea"/>
<rect x="85.57" y="353.02" width="7.85" height="7.85" fill="#78b0d3"/>
<rect x="93.12" y="353.02" width="7.85" height="7.85" fill="#5183bb"/>
<rect x="100.66" y="353.02" width="7.85" height="7.85" fill="#3b56a4"/>
<rect x="108.21" y="353.02" width="7.85" height="7.85" fill="#34409a"/>
<rect x="115.75" y="353.02" width="7.85" height="7.85" fill="#313695"/>
<rect x="40.30" y="360.56" width="7.85" height="7.85" fill="#f7fccd"/>
<rect x="47.85" y="360.56" width="7.85" height="7.85" fill="#d5edf5"/>
<rect x="55.39" y="360.56" width="7.85" height="7.85" fill="#bbe1ee"/>
<rect x="62.94" y="360.56" width="7.85" height="7.85" fill="#9fd0e4"/>
<rect x="70.48" y="360.56" width="7.85" height="7.85" fill="#8ec2dd"/>
<rect x="78.03" y="360.56" width="7.85" height="7.85" fill="#bbe1ee"/>
<rect x="85.57" y="360.56" width="7.85" height="7.85" fill="#69a0ca"/>
<rect x="93.12" y="360.56" width="7.85" height="7.85" fill="#426db0"/>
<rect x="100.66" y="360.56" width="7.85" height="7.85" fill="#384b9f"/>
<rect x="108.21" y="360.56" width="7.85" height="7.85" fill="#384b9f"/>
<rect x="115.75" y="360.56" width="7.85" height="7.85" fill="#313695"/>
<rect x="40.30" y="368.11" width="7.85" height="7.85" fill="#fdb063"/>
<rect x="47.85" y="368.11" width="7.85" height="7.85" fill="#fffebd"/>
<rect x="55.39" y="368.11" width="7.85" height="7.85" fill="#dff2f8"/>
<rect x="62.94" y="368.11" width="7.85" height="7.85" fill="#bbe1ee"/>
<rect x="70.48" y="368.11" width="7.85" height="7.85" fill="#abd9e9"/>
<rect x="78.03" y="368.11" width="7.85" height="7.85" fill="#9fd0e4"/>
<rect x="85.57" y="368.11" width="7.85" height="7.85" fill="#69a0ca"/>
<rect x="93.12" y="368.11" width="7.85" height="7.85" fill="#5a8ec1"/>
<rect x="100.66" y="368.11" width="7.85" height="7.85" fill="#384b9f"/>
<rect x="108.21" y="368.11" width="7.85" height="7.85" fill="#384b9f"/>
<rect x="115.75" y="368.11" width="7.85" height="7.85" fill="#34409a"/>
<rect x="40.30" y="375.65" width="7.85" height="7.85" fill="#a50026"/>
<rect x="47.85" y="375.65" width="7.85" height="7.85" fill="#fdb063"/>
<rect x="55.39" y="375.65" width="7.85" height="7.85" fill="#fdfec2"/>
<rect x="62.94" y="375.65" width="7.85" height="7.85" fill="#bbe1ee"/>
<rect x="70.48" y="375.65" width="7.85" height="7.85" fill="#b0dbea"/>
<rect x="78.03" y="375.65" width="7.85" height="7.85" fill="#b0dbea"/>
<rect x="85.57" y="375.65" width="7.85" height="7.85" fill="#83b9d8"/>
<rect x="93.12" y="375.65" width="7.85" height="7.85" fill="#5a8ec1"/>
<rect x="100.66" y="375.65" width="7.85" height="7.85" fill="#34409a"/>
<rect x="108.21" y="375.65" width="7.85" height="7.85" fill="#34409a"/>
<rect x="115.75" y="375.65" width="7.85" height="7.85" fill="#384b9f"/>
</g>
<rect x="40.3" y="300.2" width="83.0" height="83.0" fill="none" stroke="#111" stroke-width="1"/>
<text x="120.7" y="311.8" font-size="8.2" text-anchor="end" fill="#fff" style="stroke:none">z-score: 1.99</text>
<text x="50.5" y="391.1" font-size="8.2" text-anchor="middle">-50kb</text>
<text x="81.8" y="391.1" font-size="8.2" text-anchor="middle">0</text>
<text x="113.4" y="391.1" font-size="8.2" text-anchor="middle">+50kb</text>
<text x="81.8" y="292.9" font-size="8.2" text-anchor="middle">GM12878 (C/C)</text>
<text x="38.8" y="311.4" font-size="8.2" text-anchor="middle" transform="rotate(-90 38.8 311.4)">+50kb</text>
<text x="38.8" y="342.2" font-size="8.2" text-anchor="middle" transform="rotate(-90 38.8 342.2)">0</text>
<text x="38.8" y="374.0" font-size="8.2" text-anchor="middle" transform="rotate(-90 38.8 374.0)">-50kb</text>
<g shape-rendering="crispEdges">
<rect x="131.30" y="300.20" width="7.85" height="7.85" fill="#5183bb"/>
<rect x="138.85" y="300.20" width="7.85" height="7.85" fill="#5183bb"/>
<rect x="146.39" y="300.20" width="7.85" height="7.85" fill="#5183bb"/>
<rect x="153.94" y="300.20" width="7.85" height="7.85" fill="#3b56a4"/>
<rect x="161.48" y="300.20" width="7.85" height="7.85" fill="#649ac7"/>
<rect x="169.03" y="300.20" width="7.85" height="7.85" fill="#5f94c4"/>
<rect x="176.57" y="300.20" width="7.85" height="7.85" fill="#5689be"/>
<rect x="184.12" y="300.20" width="7.85" height="7.85" fill="#5183bb"/>
<rect x="191.66" y="300.20" width="7.85" height="7.85" fill="#384b9f"/>
<rect x="199.21" y="300.20" width="7.85" height="7.85" fill="#34409a"/>
<rect x="206.75" y="300.20" width="7.85" height="7.85" fill="#313695"/>
<rect x="131.30" y="307.75" width="7.85" height="7.85" fill="#5183bb"/>
<rect x="138.85" y="307.75" width="7.85" height="7.85" fill="#5183bb"/>
<rect x="146.39" y="307.75" width="7.85" height="7.85" fill="#5183bb"/>
<rect x="153.94" y="307.75" width="7.85" height="7.85" fill="#69a0ca"/>
<rect x="161.48" y="307.75" width="7.85" height="7.85" fill="#6ea5cd"/>
<rect x="169.03" y="307.75" width="7.85" height="7.85" fill="#69a0ca"/>
<rect x="176.57" y="307.75" width="7.85" height="7.85" fill="#5a8ec1"/>
<rect x="184.12" y="307.75" width="7.85" height="7.85" fill="#3f61aa"/>
<rect x="191.66" y="307.75" width="7.85" height="7.85" fill="#384b9f"/>
<rect x="199.21" y="307.75" width="7.85" height="7.85" fill="#313695"/>
<rect x="206.75" y="307.75" width="7.85" height="7.85" fill="#313695"/>
<rect x="131.30" y="315.29" width="7.85" height="7.85" fill="#426db0"/>
<rect x="138.85" y="315.29" width="7.85" height="7.85" fill="#5689be"/>
<rect x="146.39" y="315.29" width="7.85" height="7.85" fill="#4878b6"/>
<rect x="153.94" y="315.29" width="7.85" height="7.85" fill="#69a0ca"/>
<rect x="161.48" y="315.29" width="7.85" height="7.85" fill="#6ea5cd"/>
<rect x="169.03" y="315.29" width="7.85" height="7.85" fill="#72abd0"/>
<rect x="176.57" y="315.29" width="7.85" height="7.85" fill="#5a8ec1"/>
<rect x="184.12" y="315.29" width="7.85" height="7.85" fill="#3f61aa"/>
<rect x="191.66" y="315.29" width="7.85" height="7.85" fill="#3b56a4"/>
<rect x="199.21" y="315.29" width="7.85" height="7.85" fill="#313695"/>
<rect x="206.75" y="315.29" width="7.85" height="7.85" fill="#313695"/>
<rect x="131.30" y="322.84" width="7.85" height="7.85" fill="#5a8ec1"/>
<rect x="138.85" y="322.84" width="7.85" height="7.85" fill="#5a8ec1"/>
<rect x="146.39" y="322.84" width="7.85" height="7.85" fill="#69a0ca"/>
<rect x="153.94" y="322.84" width="7.85" height="7.85" fill="#6ea5cd"/>
<rect x="161.48" y="322.84" width="7.85" height="7.85" fill="#69a0ca"/>
<rect x="169.03" y="322.84" width="7.85" height="7.85" fill="#83b9d8"/>
<rect x="176.57" y="322.84" width="7.85" height="7.85" fill="#649ac7"/>
<rect x="184.12" y="322.84" width="7.85" height="7.85" fill="#5a8ec1"/>
<rect x="191.66" y="322.84" width="7.85" height="7.85" fill="#3f61aa"/>
<rect x="199.21" y="322.84" width="7.85" height="7.85" fill="#313695"/>
<rect x="206.75" y="322.84" width="7.85" height="7.85" fill="#313695"/>
<rect x="131.30" y="330.38" width="7.85" height="7.85" fill="#78b0d3"/>
<rect x="138.85" y="330.38" width="7.85" height="7.85" fill="#83b9d8"/>
<rect x="146.39" y="330.38" width="7.85" height="7.85" fill="#78b0d3"/>
<rect x="153.94" y="330.38" width="7.85" height="7.85" fill="#9fd0e4"/>
<rect x="161.48" y="330.38" width="7.85" height="7.85" fill="#9fd0e4"/>
<rect x="169.03" y="330.38" width="7.85" height="7.85" fill="#d5edf5"/>
<rect x="176.57" y="330.38" width="7.85" height="7.85" fill="#94c7df"/>
<rect x="184.12" y="330.38" width="7.85" height="7.85" fill="#6ea5cd"/>
<rect x="191.66" y="330.38" width="7.85" height="7.85" fill="#69a0ca"/>
<rect x="199.21" y="330.38" width="7.85" height="7.85" fill="#3b56a4"/>
<rect x="206.75" y="330.38" width="7.85" height="7.85" fill="#3f61aa"/>
<rect x="131.30" y="337.93" width="7.85" height="7.85" fill="#abd9e9"/>
<rect x="138.85" y="337.93" width="7.85" height="7.85" fill="#9fd0e4"/>
<rect x="146.39" y="337.93" width="7.85" height="7.85" fill="#dff2f8"/>
<rect x="153.94" y="337.93" width="7.85" height="7.85" fill="#abd9e9"/>
<rect x="161.48" y="337.93" width="7.85" height="7.85" fill="#abd9e9"/>
<rect x="169.03" y="337.93" width="7.85" height="7.85" fill="#c5e6f0"/>
<rect x="176.57" y="337.93" width="7.85" height="7.85" fill="#bbe1ee"/>
<rect x="184.12" y="337.93" width="7.85" height="7.85" fill="#69a0ca"/>
<rect x="191.66" y="337.93" width="7.85" height="7.85" fill="#649ac7"/>
<rect x="199.21" y="337.93" width="7.85" height="7.85" fill="#3f61aa"/>
<rect x="206.75" y="337.93" width="7.85" height="7.85" fill="#3f61aa"/>
<rect x="131.30" y="345.47" width="7.85" height="7.85" fill="#b0dbea"/>
<rect x="138.85" y="345.47" width="7.85" height="7.85" fill="#c5e6f0"/>
<rect x="146.39" y="345.47" width="7.85" height="7.85" fill="#9fd0e4"/>
<rect x="153.94" y="345.47" width="7.85" height="7.85" fill="#9fd0e4"/>
<rect x="161.48" y="345.47" width="7.85" height="7.85" fill="#c5e6f0"/>
<rect x="169.03" y="345.47" width="7.85" height="7.85" fill="#abd9e9"/>
<rect x="176.57" y="345.47" width="7.85" height="7.85" fill="#72abd0"/>
<rect x="184.12" y="345.47" width="7.85" height="7.85" fill="#5a8ec1"/>
<rect x="191.66" y="345.47" width="7.85" height="7.85" fill="#5183bb"/>
<rect x="199.21" y="345.47" width="7.85" height="7.85" fill="#384b9f"/>
<rect x="206.75" y="345.47" width="7.85" height="7.85" fill="#313695"/>
<rect x="131.30" y="353.02" width="7.85" height="7.85" fill="#e2f4f4"/>
<rect x="138.85" y="353.02" width="7.85" height="7.85" fill="#b0dbea"/>
<rect x="146.39" y="353.02" width="7.85" height="7.85" fill="#abd9e9"/>
<rect x="153.94" y="353.02" width="7.85" height="7.85" fill="#9fd0e4"/>
<rect x="161.48" y="353.02" width="7.85" height="7.85" fill="#9fd0e4"/>
<rect x="169.03" y="353.02" width="7.85" height="7.85" fill="#94c7df"/>
<rect x="176.57" y="353.02" width="7.85" height="7.85" fill="#78b0d3"/>
<rect x="184.12" y="353.02" width="7.85" height="7.85" fill="#5a8ec1"/>
<rect x="191.66" y="353.02" width="7.85" height="7.85" fill="#5183bb"/>
<rect x="199.21" y="353.02" width="7.85" height="7.85" fill="#384b9f"/>
<rect x="206.75" y="353.02" width="7.85" height="7.85" fill="#384b9f"/>
<rect x="131.30" y="360.56" width="7.85" height="7.85" fill="#fffebd"/>
<rect x="138.85" y="360.56" width="7.85" height="7.85" fill="#bbe1ee"/>
<rect x="146.39" y="360.56" width="7.85" height="7.85" fill="#b0dbea"/>
<rect x="153.94" y="360.56" width="7.85" height="7.85" fill="#9fd0e4"/>
<rect x="161.48" y="360.56" width="7.85" height="7.85" fill="#abd9e9"/>
<rect x="169.03" y="360.56" width="7.85" height="7.85" fill="#8ec2dd"/>
<rect x="176.57" y="360.56" width="7.85" height="7.85" fill="#6ea5cd"/>
<rect x="184.12" y="360.56" width="7.85" height="7.85" fill="#5a8ec1"/>
<rect x="191.66" y="360.56" width="7.85" height="7.85" fill="#4878b6"/>
<rect x="199.21" y="360.56" width="7.85" height="7.85" fill="#384b9f"/>
<rect x="206.75" y="360.56" width="7.85" height="7.85" fill="#313695"/>
<rect x="131.30" y="368.11" width="7.85" height="7.85" fill="#fdbe70"/>
<rect x="138.85" y="368.11" width="7.85" height="7.85" fill="#f7fccd"/>
<rect x="146.39" y="368.11" width="7.85" height="7.85" fill="#e2f4f4"/>
<rect x="153.94" y="368.11" width="7.85" height="7.85" fill="#bbe1ee"/>
<rect x="161.48" y="368.11" width="7.85" height="7.85" fill="#8ec2dd"/>
<rect x="169.03" y="368.11" width="7.85" height="7.85" fill="#83b9d8"/>
<rect x="176.57" y="368.11" width="7.85" height="7.85" fill="#69a0ca"/>
<rect x="184.12" y="368.11" width="7.85" height="7.85" fill="#5183bb"/>
<rect x="191.66" y="368.11" width="7.85" height="7.85" fill="#3f61aa"/>
<rect x="199.21" y="368.11" width="7.85" height="7.85" fill="#384b9f"/>
<rect x="206.75" y="368.11" width="7.85" height="7.85" fill="#34409a"/>
<rect x="131.30" y="375.65" width="7.85" height="7.85" fill="#b30e26"/>
<rect x="138.85" y="375.65" width="7.85" height="7.85" fill="#fdbe70"/>
<rect x="146.39" y="375.65" width="7.85" height="7.85" fill="#fff8b4"/>
<rect x="153.94" y="375.65" width="7.85" height="7.85" fill="#c5e6f0"/>
<rect x="161.48" y="375.65" width="7.85" height="7.85" fill="#9fd0e4"/>
<rect x="169.03" y="375.65" width="7.85" height="7.85" fill="#d5edf5"/>
<rect x="176.57" y="375.65" width="7.85" height="7.85" fill="#69a0ca"/>
<rect x="184.12" y="375.65" width="7.85" height="7.85" fill="#5a8ec1"/>
<rect x="191.66" y="375.65" width="7.85" height="7.85" fill="#3f61aa"/>
<rect x="199.21" y="375.65" width="7.85" height="7.85" fill="#384b9f"/>
<rect x="206.75" y="375.65" width="7.85" height="7.85" fill="#384b9f"/>
</g>
<rect x="131.3" y="300.2" width="83.0" height="83.0" fill="none" stroke="#111" stroke-width="1"/>
<text x="211.7" y="311.8" font-size="8.2" text-anchor="end" fill="#fff" style="stroke:none">z-score: -0.81</text>
<text x="141.5" y="391.1" font-size="8.2" text-anchor="middle">-50kb</text>
<text x="172.8" y="391.1" font-size="8.2" text-anchor="middle">0</text>
<text x="204.4" y="391.1" font-size="8.2" text-anchor="middle">+50kb</text>
<text x="172.8" y="292.9" font-size="8.2" text-anchor="middle">GM12878 (A/A)</text>
<g shape-rendering="crispEdges">
<rect x="258.70" y="300.20" width="7.85" height="7.85" fill="#3f61aa"/>
<rect x="266.25" y="300.20" width="7.85" height="7.85" fill="#426db0"/>
<rect x="273.79" y="300.20" width="7.85" height="7.85" fill="#426db0"/>
<rect x="281.34" y="300.20" width="7.85" height="7.85" fill="#426db0"/>
<rect x="288.88" y="300.20" width="7.85" height="7.85" fill="#5183bb"/>
<rect x="296.43" y="300.20" width="7.85" height="7.85" fill="#69a0ca"/>
<rect x="303.97" y="300.20" width="7.85" height="7.85" fill="#4878b6"/>
<rect x="311.52" y="300.20" width="7.85" height="7.85" fill="#384b9f"/>
<rect x="319.06" y="300.20" width="7.85" height="7.85" fill="#34409a"/>
<rect x="326.61" y="300.20" width="7.85" height="7.85" fill="#34409a"/>
<rect x="334.15" y="300.20" width="7.85" height="7.85" fill="#313695"/>
<rect x="258.70" y="307.75" width="7.85" height="7.85" fill="#4878b6"/>
<rect x="266.25" y="307.75" width="7.85" height="7.85" fill="#5183bb"/>
<rect x="273.79" y="307.75" width="7.85" height="7.85" fill="#5183bb"/>
<rect x="281.34" y="307.75" width="7.85" height="7.85" fill="#5183bb"/>
<rect x="288.88" y="307.75" width="7.85" height="7.85" fill="#5183bb"/>
<rect x="296.43" y="307.75" width="7.85" height="7.85" fill="#5a8ec1"/>
<rect x="303.97" y="307.75" width="7.85" height="7.85" fill="#426db0"/>
<rect x="311.52" y="307.75" width="7.85" height="7.85" fill="#384b9f"/>
<rect x="319.06" y="307.75" width="7.85" height="7.85" fill="#34409a"/>
<rect x="326.61" y="307.75" width="7.85" height="7.85" fill="#313695"/>
<rect x="334.15" y="307.75" width="7.85" height="7.85" fill="#313695"/>
<rect x="258.70" y="315.29" width="7.85" height="7.85" fill="#5f94c4"/>
<rect x="266.25" y="315.29" width="7.85" height="7.85" fill="#5183bb"/>
<rect x="273.79" y="315.29" width="7.85" height="7.85" fill="#5a8ec1"/>
<rect x="281.34" y="315.29" width="7.85" height="7.85" fill="#5a8ec1"/>
<rect x="288.88" y="315.29" width="7.85" height="7.85" fill="#5f94c4"/>
<rect x="296.43" y="315.29" width="7.85" height="7.85" fill="#78b0d3"/>
<rect x="303.97" y="315.29" width="7.85" height="7.85" fill="#5a8ec1"/>
<rect x="311.52" y="315.29" width="7.85" height="7.85" fill="#426db0"/>
<rect x="319.06" y="315.29" width="7.85" height="7.85" fill="#3b56a4"/>
<rect x="326.61" y="315.29" width="7.85" height="7.85" fill="#34409a"/>
<rect x="334.15" y="315.29" width="7.85" height="7.85" fill="#34409a"/>
<rect x="258.70" y="322.84" width="7.85" height="7.85" fill="#649ac7"/>
<rect x="266.25" y="322.84" width="7.85" height="7.85" fill="#649ac7"/>
<rect x="273.79" y="322.84" width="7.85" height="7.85" fill="#649ac7"/>
<rect x="281.34" y="322.84" width="7.85" height="7.85" fill="#649ac7"/>
<rect x="288.88" y="322.84" width="7.85" height="7.85" fill="#69a0ca"/>
<rect x="296.43" y="322.84" width="7.85" height="7.85" fill="#8ec2dd"/>
<rect x="303.97" y="322.84" width="7.85" height="7.85" fill="#649ac7"/>
<rect x="311.52" y="322.84" width="7.85" height="7.85" fill="#426db0"/>
<rect x="319.06" y="322.84" width="7.85" height="7.85" fill="#3f61aa"/>
<rect x="326.61" y="322.84" width="7.85" height="7.85" fill="#384b9f"/>
<rect x="334.15" y="322.84" width="7.85" height="7.85" fill="#384b9f"/>
<rect x="258.70" y="330.38" width="7.85" height="7.85" fill="#78b0d3"/>
<rect x="266.25" y="330.38" width="7.85" height="7.85" fill="#78b0d3"/>
<rect x="273.79" y="330.38" width="7.85" height="7.85" fill="#72abd0"/>
<rect x="281.34" y="330.38" width="7.85" height="7.85" fill="#72abd0"/>
<rect x="288.88" y="330.38" width="7.85" height="7.85" fill="#9fd0e4"/>
<rect x="296.43" y="330.38" width="7.85" height="7.85" fill="#cae8f2"/>
<rect x="303.97" y="330.38" width="7.85" height="7.85" fill="#8ec2dd"/>
<rect x="311.52" y="330.38" width="7.85" height="7.85" fill="#5a8ec1"/>
<rect x="319.06" y="330.38" width="7.85" height="7.85" fill="#5183bb"/>
<rect x="326.61" y="330.38" width="7.85" height="7.85" fill="#426db0"/>
<rect x="334.15" y="330.38" width="7.85" height="7.85" fill="#3f61aa"/>
<rect x="258.70" y="337.93" width="7.85" height="7.85" fill="#bbe1ee"/>
<rect x="266.25" y="337.93" width="7.85" height="7.85" fill="#bbe1ee"/>
<rect x="273.79" y="337.93" width="7.85" height="7.85" fill="#b0dbea"/>
<rect x="281.34" y="337.93" width="7.85" height="7.85" fill="#bbe1ee"/>
<rect x="288.88" y="337.93" width="7.85" height="7.85" fill="#dff2f8"/>
<rect x="296.43" y="337.93" width="7.85" height="7.85" fill="#d42e27"/>
<rect x="303.97" y="337.93" width="7.85" height="7.85" fill="#cae8f2"/>
<rect x="311.52" y="337.93" width="7.85" height="7.85" fill="#72abd0"/>
<rect x="319.06" y="337.93" width="7.85" height="7.85" fill="#649ac7"/>
<rect x="326.61" y="337.93" width="7.85" height="7.85" fill="#5a8ec1"/>
<rect x="334.15" y="337.93" width="7.85" height="7.85" fill="#4878b6"/>
<rect x="258.70" y="345.47" width="7.85" height="7.85" fill="#b0dbea"/>
<rect x="266.25" y="345.47" width="7.85" height="7.85" fill="#a5d4e6"/>
<rect x="273.79" y="345.47" width="7.85" height="7.85" fill="#9acbe1"/>
<rect x="281.34" y="345.47" width="7.85" height="7.85" fill="#9fd0e4"/>
<rect x="288.88" y="345.47" width="7.85" height="7.85" fill="#b0dbea"/>
<rect x="296.43" y="345.47" width="7.85" height="7.85" fill="#e2f4f4"/>
<rect x="303.97" y="345.47" width="7.85" height="7.85" fill="#9acbe1"/>
<rect x="311.52" y="345.47" width="7.85" height="7.85" fill="#649ac7"/>
<rect x="319.06" y="345.47" width="7.85" height="7.85" fill="#5689be"/>
<rect x="326.61" y="345.47" width="7.85" height="7.85" fill="#426db0"/>
<rect x="334.15" y="345.47" width="7.85" height="7.85" fill="#3f61aa"/>
<rect x="258.70" y="353.02" width="7.85" height="7.85" fill="#abd9e9"/>
<rect x="266.25" y="353.02" width="7.85" height="7.85" fill="#abd9e9"/>
<rect x="273.79" y="353.02" width="7.85" height="7.85" fill="#9fd0e4"/>
<rect x="281.34" y="353.02" width="7.85" height="7.85" fill="#9fd0e4"/>
<rect x="288.88" y="353.02" width="7.85" height="7.85" fill="#9fd0e4"/>
<rect x="296.43" y="353.02" width="7.85" height="7.85" fill="#bbe1ee"/>
<rect x="303.97" y="353.02" width="7.85" height="7.85" fill="#78b0d3"/>
<rect x="311.52" y="353.02" width="7.85" height="7.85" fill="#5a8ec1"/>
<rect x="319.06" y="353.02" width="7.85" height="7.85" fill="#4878b6"/>
<rect x="326.61" y="353.02" width="7.85" height="7.85" fill="#3f61aa"/>
<rect x="334.15" y="353.02" width="7.85" height="7.85" fill="#3b56a4"/>
<rect x="258.70" y="360.56" width="7.85" height="7.85" fill="#d5edf5"/>
<rect x="266.25" y="360.56" width="7.85" height="7.85" fill="#b0dbea"/>
<rect x="273.79" y="360.56" width="7.85" height="7.85" fill="#8ec2dd"/>
<rect x="281.34" y="360.56" width="7.85" height="7.85" fill="#9fd0e4"/>
<rect x="288.88" y="360.56" width="7.85" height="7.85" fill="#9fd0e4"/>
<rect x="296.43" y="360.56" width="7.85" height="7.85" fill="#b0dbea"/>
<rect x="303.97" y="360.56" width="7.85" height="7.85" fill="#72abd0"/>
<rect x="311.52" y="360.56" width="7.85" height="7.85" fill="#5a8ec1"/>
<rect x="319.06" y="360.56" width="7.85" height="7.85" fill="#5183bb"/>
<rect x="326.61" y="360.56" width="7.85" height="7.85" fill="#426db0"/>
<rect x="334.15" y="360.56" width="7.85" height="7.85" fill="#384b9f"/>
<rect x="258.70" y="368.11" width="7.85" height="7.85" fill="#fee394"/>
<rect x="266.25" y="368.11" width="7.85" height="7.85" fill="#cae8f2"/>
<rect x="273.79" y="368.11" width="7.85" height="7.85" fill="#b0dbea"/>
<rect x="281.34" y="368.11" width="7.85" height="7.85" fill="#9fd0e4"/>
<rect x="288.88" y="368.11" width="7.85" height="7.85" fill="#9fd0e4"/>
<rect x="296.43" y="368.11" width="7.85" height="7.85" fill="#9fd0e4"/>
<rect x="303.97" y="368.11" width="7.85" height="7.85" fill="#72abd0"/>
<rect x="311.52" y="368.11" width="7.85" height="7.85" fill="#5a8ec1"/>
<rect x="319.06" y="368.11" width="7.85" height="7.85" fill="#5183bb"/>
<rect x="326.61" y="368.11" width="7.85" height="7.85" fill="#3b56a4"/>
<rect x="334.15" y="368.11" width="7.85" height="7.85" fill="#384b9f"/>
<rect x="258.70" y="375.65" width="7.85" height="7.85" fill="#d42e27"/>
<rect x="266.25" y="375.65" width="7.85" height="7.85" fill="#fee394"/>
<rect x="273.79" y="375.65" width="7.85" height="7.85" fill="#d5edf5"/>
<rect x="281.34" y="375.65" width="7.85" height="7.85" fill="#abd9e9"/>
<rect x="288.88" y="375.65" width="7.85" height="7.85" fill="#abd9e9"/>
<rect x="296.43" y="375.65" width="7.85" height="7.85" fill="#abd9e9"/>
<rect x="303.97" y="375.65" width="7.85" height="7.85" fill="#78b0d3"/>
<rect x="311.52" y="375.65" width="7.85" height="7.85" fill="#5f94c4"/>
<rect x="319.06" y="375.65" width="7.85" height="7.85" fill="#5183bb"/>
<rect x="326.61" y="375.65" width="7.85" height="7.85" fill="#3f61aa"/>
<rect x="334.15" y="375.65" width="7.85" height="7.85" fill="#5183bb"/>
</g>
<rect x="258.7" y="300.2" width="83.0" height="83.0" fill="none" stroke="#111" stroke-width="1"/>
<text x="339.1" y="311.8" font-size="8.2" text-anchor="end" fill="#fff" style="stroke:none">z-score: 2.44</text>
<text x="268.9" y="391.1" font-size="8.2" text-anchor="middle">-50kb</text>
<text x="300.2" y="391.1" font-size="8.2" text-anchor="middle">0</text>
<text x="331.8" y="391.1" font-size="8.2" text-anchor="middle">+50kb</text>
<text x="300.2" y="292.9" font-size="8.2" text-anchor="middle">GM12878 (C/C)</text>
<g shape-rendering="crispEdges">
<rect x="349.50" y="300.20" width="7.85" height="7.85" fill="#4878b6"/>
<rect x="357.05" y="300.20" width="7.85" height="7.85" fill="#4878b6"/>
<rect x="364.59" y="300.20" width="7.85" height="7.85" fill="#426db0"/>
<rect x="372.14" y="300.20" width="7.85" height="7.85" fill="#426db0"/>
<rect x="379.68" y="300.20" width="7.85" height="7.85" fill="#5689be"/>
<rect x="387.23" y="300.20" width="7.85" height="7.85" fill="#5689be"/>
<rect x="394.77" y="300.20" width="7.85" height="7.85" fill="#5183bb"/>
<rect x="402.32" y="300.20" width="7.85" height="7.85" fill="#426db0"/>
<rect x="409.86" y="300.20" width="7.85" height="7.85" fill="#3b56a4"/>
<rect x="417.41" y="300.20" width="7.85" height="7.85" fill="#384b9f"/>
<rect x="424.95" y="300.20" width="7.85" height="7.85" fill="#313695"/>
<rect x="349.50" y="307.75" width="7.85" height="7.85" fill="#4878b6"/>
<rect x="357.05" y="307.75" width="7.85" height="7.85" fill="#4878b6"/>
<rect x="364.59" y="307.75" width="7.85" height="7.85" fill="#426db0"/>
<rect x="372.14" y="307.75" width="7.85" height="7.85" fill="#4878b6"/>
<rect x="379.68" y="307.75" width="7.85" height="7.85" fill="#5183bb"/>
<rect x="387.23" y="307.75" width="7.85" height="7.85" fill="#5183bb"/>
<rect x="394.77" y="307.75" width="7.85" height="7.85" fill="#4878b6"/>
<rect x="402.32" y="307.75" width="7.85" height="7.85" fill="#426db0"/>
<rect x="409.86" y="307.75" width="7.85" height="7.85" fill="#3b56a4"/>
<rect x="417.41" y="307.75" width="7.85" height="7.85" fill="#384b9f"/>
<rect x="424.95" y="307.75" width="7.85" height="7.85" fill="#313695"/>
<rect x="349.50" y="315.29" width="7.85" height="7.85" fill="#5689be"/>
<rect x="357.05" y="315.29" width="7.85" height="7.85" fill="#5183bb"/>
<rect x="364.59" y="315.29" width="7.85" height="7.85" fill="#5f94c4"/>
<rect x="372.14" y="315.29" width="7.85" height="7.85" fill="#5a8ec1"/>
<rect x="379.68" y="315.29" width="7.85" height="7.85" fill="#5f94c4"/>
<rect x="387.23" y="315.29" width="7.85" height="7.85" fill="#69a0ca"/>
<rect x="394.77" y="315.29" width="7.85" height="7.85" fill="#5a8ec1"/>
<rect x="402.32" y="315.29" width="7.85" height="7.85" fill="#4878b6"/>
<rect x="409.86" y="315.29" width="7.85" height="7.85" fill="#426db0"/>
<rect x="417.41" y="315.29" width="7.85" height="7.85" fill="#3b56a4"/>
<rect x="424.95" y="315.29" width="7.85" height="7.85" fill="#3b56a4"/>
<rect x="349.50" y="322.84" width="7.85" height="7.85" fill="#649ac7"/>
<rect x="357.05" y="322.84" width="7.85" height="7.85" fill="#649ac7"/>
<rect x="364.59" y="322.84" width="7.85" height="7.85" fill="#5f94c4"/>
<rect x="372.14" y="322.84" width="7.85" height="7.85" fill="#69a0ca"/>
<rect x="379.68" y="322.84" width="7.85" height="7.85" fill="#72abd0"/>
<rect x="387.23" y="322.84" width="7.85" height="7.85" fill="#78b0d3"/>
<rect x="394.77" y="322.84" width="7.85" height="7.85" fill="#69a0ca"/>
<rect x="402.32" y="322.84" width="7.85" height="7.85" fill="#5a8ec1"/>
<rect x="409.86" y="322.84" width="7.85" height="7.85" fill="#4878b6"/>
<rect x="417.41" y="322.84" width="7.85" height="7.85" fill="#426db0"/>
<rect x="424.95" y="322.84" width="7.85" height="7.85" fill="#3f61aa"/>
<rect x="349.50" y="330.38" width="7.85" height="7.85" fill="#7db5d5"/>
<rect x="357.05" y="330.38" width="7.85" height="7.85" fill="#7db5d5"/>
<rect x="364.59" y="330.38" width="7.85" height="7.85" fill="#72abd0"/>
<rect x="372.14" y="330.38" width="7.85" height="7.85" fill="#7db5d5"/>
<rect x="379.68" y="330.38" width="7.85" height="7.85" fill="#9fd0e4"/>
<rect x="387.23" y="330.38" width="7.85" height="7.85" fill="#abd9e9"/>
<rect x="394.77" y="330.38" width="7.85" height="7.85" fill="#83b9d8"/>
<rect x="402.32" y="330.38" width="7.85" height="7.85" fill="#69a0ca"/>
<rect x="409.86" y="330.38" width="7.85" height="7.85" fill="#5689be"/>
<rect x="417.41" y="330.38" width="7.85" height="7.85" fill="#4878b6"/>
<rect x="424.95" y="330.38" width="7.85" height="7.85" fill="#426db0"/>
<rect x="349.50" y="337.93" width="7.85" height="7.85" fill="#a5d4e6"/>
<rect x="357.05" y="337.93" width="7.85" height="7.85" fill="#9acbe1"/>
<rect x="364.59" y="337.93" width="7.85" height="7.85" fill="#89beda"/>
<rect x="372.14" y="337.93" width="7.85" height="7.85" fill="#9fd0e4"/>
<rect x="379.68" y="337.93" width="7.85" height="7.85" fill="#bbe1ee"/>
<rect x="387.23" y="337.93" width="7.85" height="7.85" fill="#cae8f2"/>
<rect x="394.77" y="337.93" width="7.85" height="7.85" fill="#a5d4e6"/>
<rect x="402.32" y="337.93" width="7.85" height="7.85" fill="#78b0d3"/>
<rect x="409.86" y="337.93" width="7.85" height="7.85" fill="#5a8ec1"/>
<rect x="417.41" y="337.93" width="7.85" height="7.85" fill="#5183bb"/>
<rect x="424.95" y="337.93" width="7.85" height="7.85" fill="#4878b6"/>
<rect x="349.50" y="345.47" width="7.85" height="7.85" fill="#9acbe1"/>
<rect x="357.05" y="345.47" width="7.85" height="7.85" fill="#8ec2dd"/>
<rect x="364.59" y="345.47" width="7.85" height="7.85" fill="#8ec2dd"/>
<rect x="372.14" y="345.47" width="7.85" height="7.85" fill="#8ec2dd"/>
<rect x="379.68" y="345.47" width="7.85" height="7.85" fill="#abd9e9"/>
<rect x="387.23" y="345.47" width="7.85" height="7.85" fill="#abd9e9"/>
<rect x="394.77" y="345.47" width="7.85" height="7.85" fill="#8ec2dd"/>
<rect x="402.32" y="345.47" width="7.85" height="7.85" fill="#69a0ca"/>
<rect x="409.86" y="345.47" width="7.85" height="7.85" fill="#5a8ec1"/>
<rect x="417.41" y="345.47" width="7.85" height="7.85" fill="#5183bb"/>
<rect x="424.95" y="345.47" width="7.85" height="7.85" fill="#426db0"/>
<rect x="349.50" y="353.02" width="7.85" height="7.85" fill="#b0dbea"/>
<rect x="357.05" y="353.02" width="7.85" height="7.85" fill="#8ec2dd"/>
<rect x="364.59" y="353.02" width="7.85" height="7.85" fill="#8ec2dd"/>
<rect x="372.14" y="353.02" width="7.85" height="7.85" fill="#9acbe1"/>
<rect x="379.68" y="353.02" width="7.85" height="7.85" fill="#89beda"/>
<rect x="387.23" y="353.02" width="7.85" height="7.85" fill="#9fd0e4"/>
<rect x="394.77" y="353.02" width="7.85" height="7.85" fill="#83b9d8"/>
<rect x="402.32" y="353.02" width="7.85" height="7.85" fill="#649ac7"/>
<rect x="409.86" y="353.02" width="7.85" height="7.85" fill="#5a8ec1"/>
<rect x="417.41" y="353.02" width="7.85" height="7.85" fill="#5183bb"/>
<rect x="424.95" y="353.02" width="7.85" height="7.85" fill="#3f61aa"/>
<rect x="349.50" y="360.56" width="7.85" height="7.85" fill="#bbe1ee"/>
<rect x="357.05" y="360.56" width="7.85" height="7.85" fill="#9acbe1"/>
<rect x="364.59" y="360.56" width="7.85" height="7.85" fill="#89beda"/>
<rect x="372.14" y="360.56" width="7.85" height="7.85" fill="#89beda"/>
<rect x="379.68" y="360.56" width="7.85" height="7.85" fill="#9fd0e4"/>
<rect x="387.23" y="360.56" width="7.85" height="7.85" fill="#9fd0e4"/>
<rect x="394.77" y="360.56" width="7.85" height="7.85" fill="#83b9d8"/>
<rect x="402.32" y="360.56" width="7.85" height="7.85" fill="#649ac7"/>
<rect x="409.86" y="360.56" width="7.85" height="7.85" fill="#5a8ec1"/>
<rect x="417.41" y="360.56" width="7.85" height="7.85" fill="#4878b6"/>
<rect x="424.95" y="360.56" width="7.85" height="7.85" fill="#3f61aa"/>
<rect x="349.50" y="368.11" width="7.85" height="7.85" fill="#fee99d"/>
<rect x="357.05" y="368.11" width="7.85" height="7.85" fill="#d5edf5"/>
<rect x="364.59" y="368.11" width="7.85" height="7.85" fill="#b0dbea"/>
<rect x="372.14" y="368.11" width="7.85" height="7.85" fill="#94c7df"/>
<rect x="379.68" y="368.11" width="7.85" height="7.85" fill="#9fd0e4"/>
<rect x="387.23" y="368.11" width="7.85" height="7.85" fill="#9fd0e4"/>
<rect x="394.77" y="368.11" width="7.85" height="7.85" fill="#83b9d8"/>
<rect x="402.32" y="368.11" width="7.85" height="7.85" fill="#69a0ca"/>
<rect x="409.86" y="368.11" width="7.85" height="7.85" fill="#5a8ec1"/>
<rect x="417.41" y="368.11" width="7.85" height="7.85" fill="#4878b6"/>
<rect x="424.95" y="368.11" width="7.85" height="7.85" fill="#3f61aa"/>
<rect x="349.50" y="375.65" width="7.85" height="7.85" fill="#f7854e"/>
<rect x="357.05" y="375.65" width="7.85" height="7.85" fill="#fee99d"/>
<rect x="364.59" y="375.65" width="7.85" height="7.85" fill="#e2f4f4"/>
<rect x="372.14" y="375.65" width="7.85" height="7.85" fill="#9fd0e4"/>
<rect x="379.68" y="375.65" width="7.85" height="7.85" fill="#9fd0e4"/>
<rect x="387.23" y="375.65" width="7.85" height="7.85" fill="#9fd0e4"/>
<rect x="394.77" y="375.65" width="7.85" height="7.85" fill="#83b9d8"/>
<rect x="402.32" y="375.65" width="7.85" height="7.85" fill="#69a0ca"/>
<rect x="409.86" y="375.65" width="7.85" height="7.85" fill="#5a8ec1"/>
<rect x="417.41" y="375.65" width="7.85" height="7.85" fill="#5183bb"/>
<rect x="424.95" y="375.65" width="7.85" height="7.85" fill="#426db0"/>
</g>
<rect x="349.5" y="300.2" width="83.0" height="83.0" fill="none" stroke="#111" stroke-width="1"/>
<text x="429.9" y="311.8" font-size="8.2" text-anchor="end" fill="#fff" style="stroke:none">z-score: -0.41</text>
<text x="359.7" y="391.1" font-size="8.2" text-anchor="middle">-50kb</text>
<text x="391.0" y="391.1" font-size="8.2" text-anchor="middle">0</text>
<text x="422.6" y="391.1" font-size="8.2" text-anchor="middle">+50kb</text>
<text x="391.0" y="292.9" font-size="8.2" text-anchor="middle">GM12878 (A/A)</text>
<g shape-rendering="crispEdges">
<rect x="40.30" y="406.00" width="7.85" height="7.85" fill="#5a8ec1"/>
<rect x="47.85" y="406.00" width="7.85" height="7.85" fill="#384b9f"/>
<rect x="55.39" y="406.00" width="7.85" height="7.85" fill="#5183bb"/>
<rect x="62.94" y="406.00" width="7.85" height="7.85" fill="#313695"/>
<rect x="70.48" y="406.00" width="7.85" height="7.85" fill="#426db0"/>
<rect x="78.03" y="406.00" width="7.85" height="7.85" fill="#313695"/>
<rect x="85.57" y="406.00" width="7.85" height="7.85" fill="#313695"/>
<rect x="93.12" y="406.00" width="7.85" height="7.85" fill="#34409a"/>
<rect x="100.66" y="406.00" width="7.85" height="7.85" fill="#313695"/>
<rect x="108.21" y="406.00" width="7.85" height="7.85" fill="#313695"/>
<rect x="115.75" y="406.00" width="7.85" height="7.85" fill="#313695"/>
<rect x="40.30" y="413.55" width="7.85" height="7.85" fill="#313695"/>
<rect x="47.85" y="413.55" width="7.85" height="7.85" fill="#426db0"/>
<rect x="55.39" y="413.55" width="7.85" height="7.85" fill="#426db0"/>
<rect x="62.94" y="413.55" width="7.85" height="7.85" fill="#313695"/>
<rect x="70.48" y="413.55" width="7.85" height="7.85" fill="#5183bb"/>
<rect x="78.03" y="413.55" width="7.85" height="7.85" fill="#83b9d8"/>
<rect x="85.57" y="413.55" width="7.85" height="7.85" fill="#69a0ca"/>
<rect x="93.12" y="413.55" width="7.85" height="7.85" fill="#426db0"/>
<rect x="100.66" y="413.55" width="7.85" height="7.85" fill="#313695"/>
<rect x="108.21" y="413.55" width="7.85" height="7.85" fill="#313695"/>
<rect x="115.75" y="413.55" width="7.85" height="7.85" fill="#313695"/>
<rect x="40.30" y="421.09" width="7.85" height="7.85" fill="#3b56a4"/>
<rect x="47.85" y="421.09" width="7.85" height="7.85" fill="#3b56a4"/>
<rect x="55.39" y="421.09" width="7.85" height="7.85" fill="#3f61aa"/>
<rect x="62.94" y="421.09" width="7.85" height="7.85" fill="#5183bb"/>
<rect x="70.48" y="421.09" width="7.85" height="7.85" fill="#4878b6"/>
<rect x="78.03" y="421.09" width="7.85" height="7.85" fill="#426db0"/>
<rect x="85.57" y="421.09" width="7.85" height="7.85" fill="#5f94c4"/>
<rect x="93.12" y="421.09" width="7.85" height="7.85" fill="#384b9f"/>
<rect x="100.66" y="421.09" width="7.85" height="7.85" fill="#313695"/>
<rect x="108.21" y="421.09" width="7.85" height="7.85" fill="#313695"/>
<rect x="115.75" y="421.09" width="7.85" height="7.85" fill="#313695"/>
<rect x="40.30" y="428.64" width="7.85" height="7.85" fill="#649ac7"/>
<rect x="47.85" y="428.64" width="7.85" height="7.85" fill="#649ac7"/>
<rect x="55.39" y="428.64" width="7.85" height="7.85" fill="#649ac7"/>
<rect x="62.94" y="428.64" width="7.85" height="7.85" fill="#649ac7"/>
<rect x="70.48" y="428.64" width="7.85" height="7.85" fill="#649ac7"/>
<rect x="78.03" y="428.64" width="7.85" height="7.85" fill="#3b56a4"/>
<rect x="85.57" y="428.64" width="7.85" height="7.85" fill="#69a0ca"/>
<rect x="93.12" y="428.64" width="7.85" height="7.85" fill="#69a0ca"/>
<rect x="100.66" y="428.64" width="7.85" height="7.85" fill="#69a0ca"/>
<rect x="108.21" y="428.64" width="7.85" height="7.85" fill="#3f61aa"/>
<rect x="115.75" y="428.64" width="7.85" height="7.85" fill="#5689be"/>
<rect x="40.30" y="436.18" width="7.85" height="7.85" fill="#5a8ec1"/>
<rect x="47.85" y="436.18" width="7.85" height="7.85" fill="#83b9d8"/>
<rect x="55.39" y="436.18" width="7.85" height="7.85" fill="#9acbe1"/>
<rect x="62.94" y="436.18" width="7.85" height="7.85" fill="#72abd0"/>
<rect x="70.48" y="436.18" width="7.85" height="7.85" fill="#78b0d3"/>
<rect x="78.03" y="436.18" width="7.85" height="7.85" fill="#94c7df"/>
<rect x="85.57" y="436.18" width="7.85" height="7.85" fill="#8ec2dd"/>
<rect x="93.12" y="436.18" width="7.85" height="7.85" fill="#72abd0"/>
<rect x="100.66" y="436.18" width="7.85" height="7.85" fill="#4878b6"/>
<rect x="108.21" y="436.18" width="7.85" height="7.85" fill="#83b9d8"/>
<rect x="115.75" y="436.18" width="7.85" height="7.85" fill="#5183bb"/>
<rect x="40.30" y="443.73" width="7.85" height="7.85" fill="#fffebd"/>
<rect x="47.85" y="443.73" width="7.85" height="7.85" fill="#e8f6e9"/>
<rect x="55.39" y="443.73" width="7.85" height="7.85" fill="#eef9de"/>
<rect x="62.94" y="443.73" width="7.85" height="7.85" fill="#abd9e9"/>
<rect x="70.48" y="443.73" width="7.85" height="7.85" fill="#dff2f8"/>
<rect x="78.03" y="443.73" width="7.85" height="7.85" fill="#e8f6e9"/>
<rect x="85.57" y="443.73" width="7.85" height="7.85" fill="#94c7df"/>
<rect x="93.12" y="443.73" width="7.85" height="7.85" fill="#78b0d3"/>
<rect x="100.66" y="443.73" width="7.85" height="7.85" fill="#abd9e9"/>
<rect x="108.21" y="443.73" width="7.85" height="7.85" fill="#5a8ec1"/>
<rect x="115.75" y="443.73" width="7.85" height="7.85" fill="#72abd0"/>
<rect x="40.30" y="451.27" width="7.85" height="7.85" fill="#f1fad8"/>
<rect x="47.85" y="451.27" width="7.85" height="7.85" fill="#e2f4f4"/>
<rect x="55.39" y="451.27" width="7.85" height="7.85" fill="#fff8b4"/>
<rect x="62.94" y="451.27" width="7.85" height="7.85" fill="#abd9e9"/>
<rect x="70.48" y="451.27" width="7.85" height="7.85" fill="#bbe1ee"/>
<rect x="78.03" y="451.27" width="7.85" height="7.85" fill="#f1fad8"/>
<rect x="85.57" y="451.27" width="7.85" height="7.85" fill="#94c7df"/>
<rect x="93.12" y="451.27" width="7.85" height="7.85" fill="#72abd0"/>
<rect x="100.66" y="451.27" width="7.85" height="7.85" fill="#69a0ca"/>
<rect x="108.21" y="451.27" width="7.85" height="7.85" fill="#5a8ec1"/>
<rect x="115.75" y="451.27" width="7.85" height="7.85" fill="#72abd0"/>
<rect x="40.30" y="458.82" width="7.85" height="7.85" fill="#bbe1ee"/>
<rect x="47.85" y="458.82" width="7.85" height="7.85" fill="#e8f6e9"/>
<rect x="55.39" y="458.82" width="7.85" height="7.85" fill="#94c7df"/>
<rect x="62.94" y="458.82" width="7.85" height="7.85" fill="#bbe1ee"/>
<rect x="70.48" y="458.82" width="7.85" height="7.85" fill="#f7fccd"/>
<rect x="78.03" y="458.82" width="7.85" height="7.85" fill="#abd9e9"/>
<rect x="85.57" y="458.82" width="7.85" height="7.85" fill="#7db5d5"/>
<rect x="93.12" y="458.82" width="7.85" height="7.85" fill="#5a8ec1"/>
<rect x="100.66" y="458.82" width="7.85" height="7.85" fill="#5183bb"/>
<rect x="108.21" y="458.82" width="7.85" height="7.85" fill="#5183bb"/>
<rect x="115.75" y="458.82" width="7.85" height="7.85" fill="#4878b6"/>
<rect x="40.30" y="466.36" width="7.85" height="7.85" fill="#abd9e9"/>
<rect x="47.85" y="466.36" width="7.85" height="7.85" fill="#bbe1ee"/>
<rect x="55.39" y="466.36" width="7.85" height="7.85" fill="#bbe1ee"/>
<rect x="62.94" y="466.36" width="7.85" height="7.85" fill="#abd9e9"/>
<rect x="70.48" y="466.36" width="7.85" height="7.85" fill="#78b0d3"/>
<rect x="78.03" y="466.36" width="7.85" height="7.85" fill="#5f94c4"/>
<rect x="85.57" y="466.36" width="7.85" height="7.85" fill="#78b0d3"/>
<rect x="93.12" y="466.36" width="7.85" height="7.85" fill="#6ea5cd"/>
<rect x="100.66" y="466.36" width="7.85" height="7.85" fill="#3b56a4"/>
<rect x="108.21" y="466.36" width="7.85" height="7.85" fill="#649ac7"/>
<rect x="115.75" y="466.36" width="7.85" height="7.85" fill="#8ec2dd"/>
<rect x="40.30" y="473.91" width="7.85" height="7.85" fill="#f1fad8"/>
<rect x="47.85" y="473.91" width="7.85" height="7.85" fill="#bbe1ee"/>
<rect x="55.39" y="473.91" width="7.85" height="7.85" fill="#eef9de"/>
<rect x="62.94" y="473.91" width="7.85" height="7.85" fill="#e2f4f4"/>
<rect x="70.48" y="473.91" width="7.85" height="7.85" fill="#9fd0e4"/>
<rect x="78.03" y="473.91" width="7.85" height="7.85" fill="#e8f6e9"/>
<rect x="85.57" y="473.91" width="7.85" height="7.85" fill="#9fd0e4"/>
<rect x="93.12" y="473.91" width="7.85" height="7.85" fill="#94c7df"/>
<rect x="100.66" y="473.91" width="7.85" height="7.85" fill="#5f94c4"/>
<rect x="108.21" y="473.91" width="7.85" height="7.85" fill="#3b56a4"/>
<rect x="115.75" y="473.91" width="7.85" height="7.85" fill="#649ac7"/>
<rect x="40.30" y="481.45" width="7.85" height="7.85" fill="#fdb063"/>
<rect x="47.85" y="481.45" width="7.85" height="7.85" fill="#f4fbd3"/>
<rect x="55.39" y="481.45" width="7.85" height="7.85" fill="#fdfec2"/>
<rect x="62.94" y="481.45" width="7.85" height="7.85" fill="#fff8b4"/>
<rect x="70.48" y="481.45" width="7.85" height="7.85" fill="#bbe1ee"/>
<rect x="78.03" y="481.45" width="7.85" height="7.85" fill="#fff8b4"/>
<rect x="85.57" y="481.45" width="7.85" height="7.85" fill="#c5e6f0"/>
<rect x="93.12" y="481.45" width="7.85" height="7.85" fill="#72abd0"/>
<rect x="100.66" y="481.45" width="7.85" height="7.85" fill="#4878b6"/>
<rect x="108.21" y="481.45" width="7.85" height="7.85" fill="#4878b6"/>
<rect x="115.75" y="481.45" width="7.85" height="7.85" fill="#5183bb"/>
</g>
<rect x="40.3" y="406.0" width="83.0" height="83.0" fill="none" stroke="#111" stroke-width="1"/>
<text x="120.7" y="417.6" font-size="8.2" text-anchor="end" fill="#fff" style="stroke:none">z-score: -0.16</text>
<text x="50.5" y="496.9" font-size="8.2" text-anchor="middle">-50kb</text>
<text x="81.8" y="496.9" font-size="8.2" text-anchor="middle">0</text>
<text x="113.4" y="496.9" font-size="8.2" text-anchor="middle">+50kb</text>
<text x="38.8" y="417.2" font-size="8.2" text-anchor="middle" transform="rotate(-90 38.8 417.2)">+50kb</text>
<text x="38.8" y="448.0" font-size="8.2" text-anchor="middle" transform="rotate(-90 38.8 448.0)">0</text>
<text x="38.8" y="479.8" font-size="8.2" text-anchor="middle" transform="rotate(-90 38.8 479.8)">-50kb</text>
<g shape-rendering="crispEdges">
<rect x="131.30" y="406.00" width="7.85" height="7.85" fill="#426db0"/>
<rect x="138.85" y="406.00" width="7.85" height="7.85" fill="#313695"/>
<rect x="146.39" y="406.00" width="7.85" height="7.85" fill="#3b56a4"/>
<rect x="153.94" y="406.00" width="7.85" height="7.85" fill="#313695"/>
<rect x="161.48" y="406.00" width="7.85" height="7.85" fill="#313695"/>
<rect x="169.03" y="406.00" width="7.85" height="7.85" fill="#5183bb"/>
<rect x="176.57" y="406.00" width="7.85" height="7.85" fill="#426db0"/>
<rect x="184.12" y="406.00" width="7.85" height="7.85" fill="#313695"/>
<rect x="191.66" y="406.00" width="7.85" height="7.85" fill="#313695"/>
<rect x="199.21" y="406.00" width="7.85" height="7.85" fill="#313695"/>
<rect x="206.75" y="406.00" width="7.85" height="7.85" fill="#313695"/>
<rect x="131.30" y="413.55" width="7.85" height="7.85" fill="#426db0"/>
<rect x="138.85" y="413.55" width="7.85" height="7.85" fill="#313695"/>
<rect x="146.39" y="413.55" width="7.85" height="7.85" fill="#313695"/>
<rect x="153.94" y="413.55" width="7.85" height="7.85" fill="#313695"/>
<rect x="161.48" y="413.55" width="7.85" height="7.85" fill="#313695"/>
<rect x="169.03" y="413.55" width="7.85" height="7.85" fill="#313695"/>
<rect x="176.57" y="413.55" width="7.85" height="7.85" fill="#313695"/>
<rect x="184.12" y="413.55" width="7.85" height="7.85" fill="#313695"/>
<rect x="191.66" y="413.55" width="7.85" height="7.85" fill="#313695"/>
<rect x="199.21" y="413.55" width="7.85" height="7.85" fill="#313695"/>
<rect x="206.75" y="413.55" width="7.85" height="7.85" fill="#313695"/>
<rect x="131.30" y="421.09" width="7.85" height="7.85" fill="#426db0"/>
<rect x="138.85" y="421.09" width="7.85" height="7.85" fill="#649ac7"/>
<rect x="146.39" y="421.09" width="7.85" height="7.85" fill="#5a8ec1"/>
<rect x="153.94" y="421.09" width="7.85" height="7.85" fill="#5a8ec1"/>
<rect x="161.48" y="421.09" width="7.85" height="7.85" fill="#3b56a4"/>
<rect x="169.03" y="421.09" width="7.85" height="7.85" fill="#649ac7"/>
<rect x="176.57" y="421.09" width="7.85" height="7.85" fill="#384b9f"/>
<rect x="184.12" y="421.09" width="7.85" height="7.85" fill="#426db0"/>
<rect x="191.66" y="421.09" width="7.85" height="7.85" fill="#384b9f"/>
<rect x="199.21" y="421.09" width="7.85" height="7.85" fill="#313695"/>
<rect x="206.75" y="421.09" width="7.85" height="7.85" fill="#426db0"/>
<rect x="131.30" y="428.64" width="7.85" height="7.85" fill="#72abd0"/>
<rect x="138.85" y="428.64" width="7.85" height="7.85" fill="#426db0"/>
<rect x="146.39" y="428.64" width="7.85" height="7.85" fill="#94c7df"/>
<rect x="153.94" y="428.64" width="7.85" height="7.85" fill="#5f94c4"/>
<rect x="161.48" y="428.64" width="7.85" height="7.85" fill="#bbe1ee"/>
<rect x="169.03" y="428.64" width="7.85" height="7.85" fill="#b0dbea"/>
<rect x="176.57" y="428.64" width="7.85" height="7.85" fill="#34409a"/>
<rect x="184.12" y="428.64" width="7.85" height="7.85" fill="#34409a"/>
<rect x="191.66" y="428.64" width="7.85" height="7.85" fill="#426db0"/>
<rect x="199.21" y="428.64" width="7.85" height="7.85" fill="#3b56a4"/>
<rect x="206.75" y="428.64" width="7.85" height="7.85" fill="#313695"/>
<rect x="131.30" y="436.18" width="7.85" height="7.85" fill="#69a0ca"/>
<rect x="138.85" y="436.18" width="7.85" height="7.85" fill="#8ec2dd"/>
<rect x="146.39" y="436.18" width="7.85" height="7.85" fill="#d5edf5"/>
<rect x="153.94" y="436.18" width="7.85" height="7.85" fill="#8ec2dd"/>
<rect x="161.48" y="436.18" width="7.85" height="7.85" fill="#72abd0"/>
<rect x="169.03" y="436.18" width="7.85" height="7.85" fill="#83b9d8"/>
<rect x="176.57" y="436.18" width="7.85" height="7.85" fill="#8ec2dd"/>
<rect x="184.12" y="436.18" width="7.85" height="7.85" fill="#78b0d3"/>
<rect x="191.66" y="436.18" width="7.85" height="7.85" fill="#5a8ec1"/>
<rect x="199.21" y="436.18" width="7.85" height="7.85" fill="#5f94c4"/>
<rect x="206.75" y="436.18" width="7.85" height="7.85" fill="#5183bb"/>
<rect x="131.30" y="443.73" width="7.85" height="7.85" fill="#f1fad8"/>
<rect x="138.85" y="443.73" width="7.85" height="7.85" fill="#f1fad8"/>
<rect x="146.39" y="443.73" width="7.85" height="7.85" fill="#e2f4f4"/>
<rect x="153.94" y="443.73" width="7.85" height="7.85" fill="#f1fad8"/>
<rect x="161.48" y="443.73" width="7.85" height="7.85" fill="#fdfec2"/>
<rect x="169.03" y="443.73" width="7.85" height="7.85" fill="#a50026"/>
<rect x="176.57" y="443.73" width="7.85" height="7.85" fill="#fff8b4"/>
<rect x="184.12" y="443.73" width="7.85" height="7.85" fill="#83b9d8"/>
<rect x="191.66" y="443.73" width="7.85" height="7.85" fill="#69a0ca"/>
<rect x="199.21" y="443.73" width="7.85" height="7.85" fill="#426db0"/>
<rect x="206.75" y="443.73" width="7.85" height="7.85" fill="#5183bb"/>
<rect x="131.30" y="451.27" width="7.85" height="7.85" fill="#bbe1ee"/>
<rect x="138.85" y="451.27" width="7.85" height="7.85" fill="#fffebd"/>
<rect x="146.39" y="451.27" width="7.85" height="7.85" fill="#e2f4f4"/>
<rect x="153.94" y="451.27" width="7.85" height="7.85" fill="#9fd0e4"/>
<rect x="161.48" y="451.27" width="7.85" height="7.85" fill="#a5d4e6"/>
<rect x="169.03" y="451.27" width="7.85" height="7.85" fill="#f1fad8"/>
<rect x="176.57" y="451.27" width="7.85" height="7.85" fill="#cae8f2"/>
<rect x="184.12" y="451.27" width="7.85" height="7.85" fill="#78b0d3"/>
<rect x="191.66" y="451.27" width="7.85" height="7.85" fill="#649ac7"/>
<rect x="199.21" y="451.27" width="7.85" height="7.85" fill="#3f61aa"/>
<rect x="206.75" y="451.27" width="7.85" height="7.85" fill="#5183bb"/>
<rect x="131.30" y="458.82" width="7.85" height="7.85" fill="#e2f4f4"/>
<rect x="138.85" y="458.82" width="7.85" height="7.85" fill="#fffebd"/>
<rect x="146.39" y="458.82" width="7.85" height="7.85" fill="#abd9e9"/>
<rect x="153.94" y="458.82" width="7.85" height="7.85" fill="#abd9e9"/>
<rect x="161.48" y="458.82" width="7.85" height="7.85" fill="#bbe1ee"/>
<rect x="169.03" y="458.82" width="7.85" height="7.85" fill="#cae8f2"/>
<rect x="176.57" y="458.82" width="7.85" height="7.85" fill="#78b0d3"/>
<rect x="184.12" y="458.82" width="7.85" height="7.85" fill="#5f94c4"/>
<rect x="191.66" y="458.82" width="7.85" height="7.85" fill="#649ac7"/>
<rect x="199.21" y="458.82" width="7.85" height="7.85" fill="#5a8ec1"/>
<rect x="206.75" y="458.82" width="7.85" height="7.85" fill="#426db0"/>
<rect x="131.30" y="466.36" width="7.85" height="7.85" fill="#e8f6e9"/>
<rect x="138.85" y="466.36" width="7.85" height="7.85" fill="#bbe1ee"/>
<rect x="146.39" y="466.36" width="7.85" height="7.85" fill="#bbe1ee"/>
<rect x="153.94" y="466.36" width="7.85" height="7.85" fill="#83b9d8"/>
<rect x="161.48" y="466.36" width="7.85" height="7.85" fill="#c5e6f0"/>
<rect x="169.03" y="466.36" width="7.85" height="7.85" fill="#b0dbea"/>
<rect x="176.57" y="466.36" width="7.85" height="7.85" fill="#83b9d8"/>
<rect x="184.12" y="466.36" width="7.85" height="7.85" fill="#313695"/>
<rect x="191.66" y="466.36" width="7.85" height="7.85" fill="#5183bb"/>
<rect x="199.21" y="466.36" width="7.85" height="7.85" fill="#426db0"/>
<rect x="206.75" y="466.36" width="7.85" height="7.85" fill="#3b56a4"/>
<rect x="131.30" y="473.91" width="7.85" height="7.85" fill="#fffebd"/>
<rect x="138.85" y="473.91" width="7.85" height="7.85" fill="#e8f6e9"/>
<rect x="146.39" y="473.91" width="7.85" height="7.85" fill="#fdfec2"/>
<rect x="153.94" y="473.91" width="7.85" height="7.85" fill="#bbe1ee"/>
<rect x="161.48" y="473.91" width="7.85" height="7.85" fill="#d5edf5"/>
<rect x="169.03" y="473.91" width="7.85" height="7.85" fill="#bbe1ee"/>
<rect x="176.57" y="473.91" width="7.85" height="7.85" fill="#eef9de"/>
<rect x="184.12" y="473.91" width="7.85" height="7.85" fill="#5f94c4"/>
<rect x="191.66" y="473.91" width="7.85" height="7.85" fill="#5183bb"/>
<rect x="199.21" y="473.91" width="7.85" height="7.85" fill="#5a8ec1"/>
<rect x="206.75" y="473.91" width="7.85" height="7.85" fill="#313695"/>
<rect x="131.30" y="481.45" width="7.85" height="7.85" fill="#feefa6"/>
<rect x="138.85" y="481.45" width="7.85" height="7.85" fill="#f1fad8"/>
<rect x="146.39" y="481.45" width="7.85" height="7.85" fill="#e2f4f4"/>
<rect x="153.94" y="481.45" width="7.85" height="7.85" fill="#d5edf5"/>
<rect x="161.48" y="481.45" width="7.85" height="7.85" fill="#b0dbea"/>
<rect x="169.03" y="481.45" width="7.85" height="7.85" fill="#fee090"/>
<rect x="176.57" y="481.45" width="7.85" height="7.85" fill="#bbe1ee"/>
<rect x="184.12" y="481.45" width="7.85" height="7.85" fill="#5a8ec1"/>
<rect x="191.66" y="481.45" width="7.85" height="7.85" fill="#5183bb"/>
<rect x="199.21" y="481.45" width="7.85" height="7.85" fill="#5183bb"/>
<rect x="206.75" y="481.45" width="7.85" height="7.85" fill="#3b56a4"/>
</g>
<rect x="131.3" y="406.0" width="83.0" height="83.0" fill="none" stroke="#111" stroke-width="1"/>
<text x="211.7" y="417.6" font-size="8.2" text-anchor="end" fill="#fff" style="stroke:none">z-score: 13.23</text>
<text x="141.5" y="496.9" font-size="8.2" text-anchor="middle">-50kb</text>
<text x="172.8" y="496.9" font-size="8.2" text-anchor="middle">0</text>
<text x="204.4" y="496.9" font-size="8.2" text-anchor="middle">+50kb</text>
<g shape-rendering="crispEdges">
<rect x="258.70" y="406.00" width="7.85" height="7.85" fill="#384b9f"/>
<rect x="266.25" y="406.00" width="7.85" height="7.85" fill="#384b9f"/>
<rect x="273.79" y="406.00" width="7.85" height="7.85" fill="#3b56a4"/>
<rect x="281.34" y="406.00" width="7.85" height="7.85" fill="#384b9f"/>
<rect x="288.88" y="406.00" width="7.85" height="7.85" fill="#384b9f"/>
<rect x="296.43" y="406.00" width="7.85" height="7.85" fill="#3f61aa"/>
<rect x="303.97" y="406.00" width="7.85" height="7.85" fill="#3f61aa"/>
<rect x="311.52" y="406.00" width="7.85" height="7.85" fill="#34409a"/>
<rect x="319.06" y="406.00" width="7.85" height="7.85" fill="#34409a"/>
<rect x="326.61" y="406.00" width="7.85" height="7.85" fill="#313695"/>
<rect x="334.15" y="406.00" width="7.85" height="7.85" fill="#313695"/>
<rect x="258.70" y="413.55" width="7.85" height="7.85" fill="#3b56a4"/>
<rect x="266.25" y="413.55" width="7.85" height="7.85" fill="#4878b6"/>
<rect x="273.79" y="413.55" width="7.85" height="7.85" fill="#426db0"/>
<rect x="281.34" y="413.55" width="7.85" height="7.85" fill="#3f61aa"/>
<rect x="288.88" y="413.55" width="7.85" height="7.85" fill="#3f61aa"/>
<rect x="296.43" y="413.55" width="7.85" height="7.85" fill="#426db0"/>
<rect x="303.97" y="413.55" width="7.85" height="7.85" fill="#3f61aa"/>
<rect x="311.52" y="413.55" width="7.85" height="7.85" fill="#3b56a4"/>
<rect x="319.06" y="413.55" width="7.85" height="7.85" fill="#34409a"/>
<rect x="326.61" y="413.55" width="7.85" height="7.85" fill="#313695"/>
<rect x="334.15" y="413.55" width="7.85" height="7.85" fill="#313695"/>
<rect x="258.70" y="421.09" width="7.85" height="7.85" fill="#4878b6"/>
<rect x="266.25" y="421.09" width="7.85" height="7.85" fill="#4878b6"/>
<rect x="273.79" y="421.09" width="7.85" height="7.85" fill="#4878b6"/>
<rect x="281.34" y="421.09" width="7.85" height="7.85" fill="#4878b6"/>
<rect x="288.88" y="421.09" width="7.85" height="7.85" fill="#4878b6"/>
<rect x="296.43" y="421.09" width="7.85" height="7.85" fill="#5a8ec1"/>
<rect x="303.97" y="421.09" width="7.85" height="7.85" fill="#5183bb"/>
<rect x="311.52" y="421.09" width="7.85" height="7.85" fill="#426db0"/>
<rect x="319.06" y="421.09" width="7.85" height="7.85" fill="#3b56a4"/>
<rect x="326.61" y="421.09" width="7.85" height="7.85" fill="#34409a"/>
<rect x="334.15" y="421.09" width="7.85" height="7.85" fill="#313695"/>
<rect x="258.70" y="428.64" width="7.85" height="7.85" fill="#649ac7"/>
<rect x="266.25" y="428.64" width="7.85" height="7.85" fill="#5689be"/>
<rect x="273.79" y="428.64" width="7.85" height="7.85" fill="#5689be"/>
<rect x="281.34" y="428.64" width="7.85" height="7.85" fill="#5689be"/>
<rect x="288.88" y="428.64" width="7.85" height="7.85" fill="#69a0ca"/>
<rect x="296.43" y="428.64" width="7.85" height="7.85" fill="#72abd0"/>
<rect x="303.97" y="428.64" width="7.85" height="7.85" fill="#6ea5cd"/>
<rect x="311.52" y="428.64" width="7.85" height="7.85" fill="#5689be"/>
<rect x="319.06" y="428.64" width="7.85" height="7.85" fill="#3f61aa"/>
<rect x="326.61" y="428.64" width="7.85" height="7.85" fill="#3b56a4"/>
<rect x="334.15" y="428.64" width="7.85" height="7.85" fill="#384b9f"/>
<rect x="258.70" y="436.18" width="7.85" height="7.85" fill="#78b0d3"/>
<rect x="266.25" y="436.18" width="7.85" height="7.85" fill="#7db5d5"/>
<rect x="273.79" y="436.18" width="7.85" height="7.85" fill="#7db5d5"/>
<rect x="281.34" y="436.18" width="7.85" height="7.85" fill="#72abd0"/>
<rect x="288.88" y="436.18" width="7.85" height="7.85" fill="#78b0d3"/>
<rect x="296.43" y="436.18" width="7.85" height="7.85" fill="#9fd0e4"/>
<rect x="303.97" y="436.18" width="7.85" height="7.85" fill="#83b9d8"/>
<rect x="311.52" y="436.18" width="7.85" height="7.85" fill="#69a0ca"/>
<rect x="319.06" y="436.18" width="7.85" height="7.85" fill="#5a8ec1"/>
<rect x="326.61" y="436.18" width="7.85" height="7.85" fill="#5183bb"/>
<rect x="334.15" y="436.18" width="7.85" height="7.85" fill="#426db0"/>
<rect x="258.70" y="443.73" width="7.85" height="7.85" fill="#c5e6f0"/>
<rect x="266.25" y="443.73" width="7.85" height="7.85" fill="#abd9e9"/>
<rect x="273.79" y="443.73" width="7.85" height="7.85" fill="#b5deec"/>
<rect x="281.34" y="443.73" width="7.85" height="7.85" fill="#9fd0e4"/>
<rect x="288.88" y="443.73" width="7.85" height="7.85" fill="#b0dbea"/>
<rect x="296.43" y="443.73" width="7.85" height="7.85" fill="#dff2f8"/>
<rect x="303.97" y="443.73" width="7.85" height="7.85" fill="#bbe1ee"/>
<rect x="311.52" y="443.73" width="7.85" height="7.85" fill="#83b9d8"/>
<rect x="319.06" y="443.73" width="7.85" height="7.85" fill="#6ea5cd"/>
<rect x="326.61" y="443.73" width="7.85" height="7.85" fill="#649ac7"/>
<rect x="334.15" y="443.73" width="7.85" height="7.85" fill="#5183bb"/>
<rect x="258.70" y="451.27" width="7.85" height="7.85" fill="#b0dbea"/>
<rect x="266.25" y="451.27" width="7.85" height="7.85" fill="#b0dbea"/>
<rect x="273.79" y="451.27" width="7.85" height="7.85" fill="#9acbe1"/>
<rect x="281.34" y="451.27" width="7.85" height="7.85" fill="#a5d4e6"/>
<rect x="288.88" y="451.27" width="7.85" height="7.85" fill="#9fd0e4"/>
<rect x="296.43" y="451.27" width="7.85" height="7.85" fill="#bbe1ee"/>
<rect x="303.97" y="451.27" width="7.85" height="7.85" fill="#abd9e9"/>
<rect x="311.52" y="451.27" width="7.85" height="7.85" fill="#72abd0"/>
<rect x="319.06" y="451.27" width="7.85" height="7.85" fill="#649ac7"/>
<rect x="326.61" y="451.27" width="7.85" height="7.85" fill="#5183bb"/>
<rect x="334.15" y="451.27" width="7.85" height="7.85" fill="#426db0"/>
<rect x="258.70" y="458.82" width="7.85" height="7.85" fill="#dff2f8"/>
<rect x="266.25" y="458.82" width="7.85" height="7.85" fill="#9fd0e4"/>
<rect x="273.79" y="458.82" width="7.85" height="7.85" fill="#9fd0e4"/>
<rect x="281.34" y="458.82" width="7.85" height="7.85" fill="#abd9e9"/>
<rect x="288.88" y="458.82" width="7.85" height="7.85" fill="#abd9e9"/>
<rect x="296.43" y="458.82" width="7.85" height="7.85" fill="#abd9e9"/>
<rect x="303.97" y="458.82" width="7.85" height="7.85" fill="#83b9d8"/>
<rect x="311.52" y="458.82" width="7.85" height="7.85" fill="#6ea5cd"/>
<rect x="319.06" y="458.82" width="7.85" height="7.85" fill="#5a8ec1"/>
<rect x="326.61" y="458.82" width="7.85" height="7.85" fill="#5183bb"/>
<rect x="334.15" y="458.82" width="7.85" height="7.85" fill="#3f61aa"/>
<rect x="258.70" y="466.36" width="7.85" height="7.85" fill="#fff2ab"/>
<rect x="266.25" y="466.36" width="7.85" height="7.85" fill="#cae8f2"/>
<rect x="273.79" y="466.36" width="7.85" height="7.85" fill="#b0dbea"/>
<rect x="281.34" y="466.36" width="7.85" height="7.85" fill="#a5d4e6"/>
<rect x="288.88" y="466.36" width="7.85" height="7.85" fill="#9fd0e4"/>
<rect x="296.43" y="466.36" width="7.85" height="7.85" fill="#a5d4e6"/>
<rect x="303.97" y="466.36" width="7.85" height="7.85" fill="#83b9d8"/>
<rect x="311.52" y="466.36" width="7.85" height="7.85" fill="#69a0ca"/>
<rect x="319.06" y="466.36" width="7.85" height="7.85" fill="#5689be"/>
<rect x="326.61" y="466.36" width="7.85" height="7.85" fill="#4878b6"/>
<rect x="334.15" y="466.36" width="7.85" height="7.85" fill="#3f61aa"/>
<rect x="258.70" y="473.91" width="7.85" height="7.85" fill="#f7854e"/>
<rect x="266.25" y="473.91" width="7.85" height="7.85" fill="#fffebd"/>
<rect x="273.79" y="473.91" width="7.85" height="7.85" fill="#d5edf5"/>
<rect x="281.34" y="473.91" width="7.85" height="7.85" fill="#bbe1ee"/>
<rect x="288.88" y="473.91" width="7.85" height="7.85" fill="#b0dbea"/>
<rect x="296.43" y="473.91" width="7.85" height="7.85" fill="#abd9e9"/>
<rect x="303.97" y="473.91" width="7.85" height="7.85" fill="#83b9d8"/>
<rect x="311.52" y="473.91" width="7.85" height="7.85" fill="#69a0ca"/>
<rect x="319.06" y="473.91" width="7.85" height="7.85" fill="#5689be"/>
<rect x="326.61" y="473.91" width="7.85" height="7.85" fill="#4878b6"/>
<rect x="334.15" y="473.91" width="7.85" height="7.85" fill="#3f61aa"/>
<rect x="258.70" y="481.45" width="7.85" height="7.85" fill="#b30e26"/>
<rect x="266.25" y="481.45" width="7.85" height="7.85" fill="#f7854e"/>
<rect x="273.79" y="481.45" width="7.85" height="7.85" fill="#fee99d"/>
<rect x="281.34" y="481.45" width="7.85" height="7.85" fill="#e8f6e9"/>
<rect x="288.88" y="481.45" width="7.85" height="7.85" fill="#cae8f2"/>
<rect x="296.43" y="481.45" width="7.85" height="7.85" fill="#dff2f8"/>
<rect x="303.97" y="481.45" width="7.85" height="7.85" fill="#9acbe1"/>
<rect x="311.52" y="481.45" width="7.85" height="7.85" fill="#72abd0"/>
<rect x="319.06" y="481.45" width="7.85" height="7.85" fill="#5a8ec1"/>
<rect x="326.61" y="481.45" width="7.85" height="7.85" fill="#4878b6"/>
<rect x="334.15" y="481.45" width="7.85" height="7.85" fill="#426db0"/>
</g>
<rect x="258.7" y="406.0" width="83.0" height="83.0" fill="none" stroke="#111" stroke-width="1"/>
<text x="339.1" y="417.6" font-size="8.2" text-anchor="end" fill="#fff" style="stroke:none">z-score: -0.82</text>
<text x="268.9" y="496.9" font-size="8.2" text-anchor="middle">-50kb</text>
<text x="300.2" y="496.9" font-size="8.2" text-anchor="middle">0</text>
<text x="331.8" y="496.9" font-size="8.2" text-anchor="middle">+50kb</text>
<g shape-rendering="crispEdges">
<rect x="349.50" y="406.00" width="7.85" height="7.85" fill="#34409a"/>
<rect x="357.05" y="406.00" width="7.85" height="7.85" fill="#34409a"/>
<rect x="364.59" y="406.00" width="7.85" height="7.85" fill="#384b9f"/>
<rect x="372.14" y="406.00" width="7.85" height="7.85" fill="#34409a"/>
<rect x="379.68" y="406.00" width="7.85" height="7.85" fill="#3f61aa"/>
<rect x="387.23" y="406.00" width="7.85" height="7.85" fill="#4878b6"/>
<rect x="394.77" y="406.00" width="7.85" height="7.85" fill="#4878b6"/>
<rect x="402.32" y="406.00" width="7.85" height="7.85" fill="#34409a"/>
<rect x="409.86" y="406.00" width="7.85" height="7.85" fill="#384b9f"/>
<rect x="417.41" y="406.00" width="7.85" height="7.85" fill="#313695"/>
<rect x="424.95" y="406.00" width="7.85" height="7.85" fill="#313695"/>
<rect x="349.50" y="413.55" width="7.85" height="7.85" fill="#3f61aa"/>
<rect x="357.05" y="413.55" width="7.85" height="7.85" fill="#5183bb"/>
<rect x="364.59" y="413.55" width="7.85" height="7.85" fill="#3b56a4"/>
<rect x="372.14" y="413.55" width="7.85" height="7.85" fill="#426db0"/>
<rect x="379.68" y="413.55" width="7.85" height="7.85" fill="#426db0"/>
<rect x="387.23" y="413.55" width="7.85" height="7.85" fill="#5183bb"/>
<rect x="394.77" y="413.55" width="7.85" height="7.85" fill="#426db0"/>
<rect x="402.32" y="413.55" width="7.85" height="7.85" fill="#3b56a4"/>
<rect x="409.86" y="413.55" width="7.85" height="7.85" fill="#384b9f"/>
<rect x="417.41" y="413.55" width="7.85" height="7.85" fill="#313695"/>
<rect x="424.95" y="413.55" width="7.85" height="7.85" fill="#313695"/>
<rect x="349.50" y="421.09" width="7.85" height="7.85" fill="#5183bb"/>
<rect x="357.05" y="421.09" width="7.85" height="7.85" fill="#4878b6"/>
<rect x="364.59" y="421.09" width="7.85" height="7.85" fill="#4878b6"/>
<rect x="372.14" y="421.09" width="7.85" height="7.85" fill="#5183bb"/>
<rect x="379.68" y="421.09" width="7.85" height="7.85" fill="#5183bb"/>
<rect x="387.23" y="421.09" width="7.85" height="7.85" fill="#649ac7"/>
<rect x="394.77" y="421.09" width="7.85" height="7.85" fill="#4878b6"/>
<rect x="402.32" y="421.09" width="7.85" height="7.85" fill="#3f61aa"/>
<rect x="409.86" y="421.09" width="7.85" height="7.85" fill="#3b56a4"/>
<rect x="417.41" y="421.09" width="7.85" height="7.85" fill="#384b9f"/>
<rect x="424.95" y="421.09" width="7.85" height="7.85" fill="#34409a"/>
<rect x="349.50" y="428.64" width="7.85" height="7.85" fill="#69a0ca"/>
<rect x="357.05" y="428.64" width="7.85" height="7.85" fill="#69a0ca"/>
<rect x="364.59" y="428.64" width="7.85" height="7.85" fill="#5a8ec1"/>
<rect x="372.14" y="428.64" width="7.85" height="7.85" fill="#5f94c4"/>
<rect x="379.68" y="428.64" width="7.85" height="7.85" fill="#69a0ca"/>
<rect x="387.23" y="428.64" width="7.85" height="7.85" fill="#72abd0"/>
<rect x="394.77" y="428.64" width="7.85" height="7.85" fill="#6ea5cd"/>
<rect x="402.32" y="428.64" width="7.85" height="7.85" fill="#5f94c4"/>
<rect x="409.86" y="428.64" width="7.85" height="7.85" fill="#4878b6"/>
<rect x="417.41" y="428.64" width="7.85" height="7.85" fill="#3f61aa"/>
<rect x="424.95" y="428.64" width="7.85" height="7.85" fill="#384b9f"/>
<rect x="349.50" y="436.18" width="7.85" height="7.85" fill="#7db5d5"/>
<rect x="357.05" y="436.18" width="7.85" height="7.85" fill="#72abd0"/>
<rect x="364.59" y="436.18" width="7.85" height="7.85" fill="#78b0d3"/>
<rect x="372.14" y="436.18" width="7.85" height="7.85" fill="#83b9d8"/>
<rect x="379.68" y="436.18" width="7.85" height="7.85" fill="#83b9d8"/>
<rect x="387.23" y="436.18" width="7.85" height="7.85" fill="#9fd0e4"/>
<rect x="394.77" y="436.18" width="7.85" height="7.85" fill="#9acbe1"/>
<rect x="402.32" y="436.18" width="7.85" height="7.85" fill="#83b9d8"/>
<rect x="409.86" y="436.18" width="7.85" height="7.85" fill="#5a8ec1"/>
<rect x="417.41" y="436.18" width="7.85" height="7.85" fill="#5183bb"/>
<rect x="424.95" y="436.18" width="7.85" height="7.85" fill="#426db0"/>
<rect x="349.50" y="443.73" width="7.85" height="7.85" fill="#abd9e9"/>
<rect x="357.05" y="443.73" width="7.85" height="7.85" fill="#abd9e9"/>
<rect x="364.59" y="443.73" width="7.85" height="7.85" fill="#8ec2dd"/>
<rect x="372.14" y="443.73" width="7.85" height="7.85" fill="#abd9e9"/>
<rect x="379.68" y="443.73" width="7.85" height="7.85" fill="#9fd0e4"/>
<rect x="387.23" y="443.73" width="7.85" height="7.85" fill="#f16740"/>
<rect x="394.77" y="443.73" width="7.85" height="7.85" fill="#b0dbea"/>
<rect x="402.32" y="443.73" width="7.85" height="7.85" fill="#83b9d8"/>
<rect x="409.86" y="443.73" width="7.85" height="7.85" fill="#5f94c4"/>
<rect x="417.41" y="443.73" width="7.85" height="7.85" fill="#5a8ec1"/>
<rect x="424.95" y="443.73" width="7.85" height="7.85" fill="#5183bb"/>
<rect x="349.50" y="451.27" width="7.85" height="7.85" fill="#9acbe1"/>
<rect x="357.05" y="451.27" width="7.85" height="7.85" fill="#9acbe1"/>
<rect x="364.59" y="451.27" width="7.85" height="7.85" fill="#89beda"/>
<rect x="372.14" y="451.27" width="7.85" height="7.85" fill="#72abd0"/>
<rect x="379.68" y="451.27" width="7.85" height="7.85" fill="#8ec2dd"/>
<rect x="387.23" y="451.27" width="7.85" height="7.85" fill="#bbe1ee"/>
<rect x="394.77" y="451.27" width="7.85" height="7.85" fill="#9acbe1"/>
<rect x="402.32" y="451.27" width="7.85" height="7.85" fill="#78b0d3"/>
<rect x="409.86" y="451.27" width="7.85" height="7.85" fill="#5a8ec1"/>
<rect x="417.41" y="451.27" width="7.85" height="7.85" fill="#5183bb"/>
<rect x="424.95" y="451.27" width="7.85" height="7.85" fill="#426db0"/>
<rect x="349.50" y="458.82" width="7.85" height="7.85" fill="#abd9e9"/>
<rect x="357.05" y="458.82" width="7.85" height="7.85" fill="#9acbe1"/>
<rect x="364.59" y="458.82" width="7.85" height="7.85" fill="#8ec2dd"/>
<rect x="372.14" y="458.82" width="7.85" height="7.85" fill="#9acbe1"/>
<rect x="379.68" y="458.82" width="7.85" height="7.85" fill="#8ec2dd"/>
<rect x="387.23" y="458.82" width="7.85" height="7.85" fill="#a5d4e6"/>
<rect x="394.77" y="458.82" width="7.85" height="7.85" fill="#83b9d8"/>
<rect x="402.32" y="458.82" width="7.85" height="7.85" fill="#69a0ca"/>
<rect x="409.86" y="458.82" width="7.85" height="7.85" fill="#5f94c4"/>
<rect x="417.41" y="458.82" width="7.85" height="7.85" fill="#5183bb"/>
<rect x="424.95" y="458.82" width="7.85" height="7.85" fill="#3f61aa"/>
<rect x="349.50" y="466.36" width="7.85" height="7.85" fill="#f7fccd"/>
<rect x="357.05" y="466.36" width="7.85" height="7.85" fill="#a5d4e6"/>
<rect x="364.59" y="466.36" width="7.85" height="7.85" fill="#9fd0e4"/>
<rect x="372.14" y="466.36" width="7.85" height="7.85" fill="#89beda"/>
<rect x="379.68" y="466.36" width="7.85" height="7.85" fill="#8ec2dd"/>
<rect x="387.23" y="466.36" width="7.85" height="7.85" fill="#9fd0e4"/>
<rect x="394.77" y="466.36" width="7.85" height="7.85" fill="#7db5d5"/>
<rect x="402.32" y="466.36" width="7.85" height="7.85" fill="#649ac7"/>
<rect x="409.86" y="466.36" width="7.85" height="7.85" fill="#5a8ec1"/>
<rect x="417.41" y="466.36" width="7.85" height="7.85" fill="#5689be"/>
<rect x="424.95" y="466.36" width="7.85" height="7.85" fill="#313695"/>
<rect x="349.50" y="473.91" width="7.85" height="7.85" fill="#fecc7e"/>
<rect x="357.05" y="473.91" width="7.85" height="7.85" fill="#e8f6e9"/>
<rect x="364.59" y="473.91" width="7.85" height="7.85" fill="#bbe1ee"/>
<rect x="372.14" y="473.91" width="7.85" height="7.85" fill="#9fd0e4"/>
<rect x="379.68" y="473.91" width="7.85" height="7.85" fill="#94c7df"/>
<rect x="387.23" y="473.91" width="7.85" height="7.85" fill="#b0dbea"/>
<rect x="394.77" y="473.91" width="7.85" height="7.85" fill="#8ec2dd"/>
<rect x="402.32" y="473.91" width="7.85" height="7.85" fill="#69a0ca"/>
<rect x="409.86" y="473.91" width="7.85" height="7.85" fill="#5689be"/>
<rect x="417.41" y="473.91" width="7.85" height="7.85" fill="#5183bb"/>
<rect x="424.95" y="473.91" width="7.85" height="7.85" fill="#3f61aa"/>
<rect x="349.50" y="481.45" width="7.85" height="7.85" fill="#d42e27"/>
<rect x="357.05" y="481.45" width="7.85" height="7.85" fill="#fed687"/>
<rect x="364.59" y="481.45" width="7.85" height="7.85" fill="#eef9de"/>
<rect x="372.14" y="481.45" width="7.85" height="7.85" fill="#abd9e9"/>
<rect x="379.68" y="481.45" width="7.85" height="7.85" fill="#9fd0e4"/>
<rect x="387.23" y="481.45" width="7.85" height="7.85" fill="#bbe1ee"/>
<rect x="394.77" y="481.45" width="7.85" height="7.85" fill="#8ec2dd"/>
<rect x="402.32" y="481.45" width="7.85" height="7.85" fill="#72abd0"/>
<rect x="409.86" y="481.45" width="7.85" height="7.85" fill="#69a0ca"/>
<rect x="417.41" y="481.45" width="7.85" height="7.85" fill="#5a8ec1"/>
<rect x="424.95" y="481.45" width="7.85" height="7.85" fill="#69a0ca"/>
</g>
<rect x="349.5" y="406.0" width="83.0" height="83.0" fill="none" stroke="#111" stroke-width="1"/>
<text x="429.9" y="417.6" font-size="8.2" text-anchor="end" fill="#fff" style="stroke:none">z-score: 1.72</text>
<text x="359.7" y="496.9" font-size="8.2" text-anchor="middle">-50kb</text>
<text x="391.0" y="496.9" font-size="8.2" text-anchor="middle">0</text>
<text x="422.6" y="496.9" font-size="8.2" text-anchor="middle">+50kb</text>
<text x="7.1" y="341.7" font-size="8.3" text-anchor="middle" transform="rotate(-90 7.1 341.7)">C/C-specific loops</text>
<text x="17.6" y="342.9" font-size="8.3" text-anchor="middle" transform="rotate(-90 17.6 342.9)">unique to ICE</text>
<text x="28.0" y="341.7" font-size="8.3" text-anchor="middle" transform="rotate(-90 28.0 341.7)">(n = 245)</text>
<text x="232.7" y="340.8" font-size="8.3" text-anchor="middle" transform="rotate(-90 232.7 340.8)">C/C-specific loops</text>
<text x="243.2" y="340.8" font-size="8.3" text-anchor="middle" transform="rotate(-90 243.2 340.8)">unique to Raichu</text>
<text x="253.6" y="340.8" font-size="8.3" text-anchor="middle" transform="rotate(-90 253.6 340.8)">(n = 937)</text>
<text x="7.1" y="447.5" font-size="8.3" text-anchor="middle" transform="rotate(-90 7.1 447.5)">A/A-specific loops</text>
<text x="17.6" y="448.7" font-size="8.3" text-anchor="middle" transform="rotate(-90 17.6 448.7)">unique to ICE</text>
<text x="28.0" y="447.5" font-size="8.3" text-anchor="middle" transform="rotate(-90 28.0 447.5)">(n = 65)</text>
<text x="232.7" y="446.6" font-size="8.3" text-anchor="middle" transform="rotate(-90 232.7 446.6)">A/A-specific loops</text>
<text x="243.2" y="446.6" font-size="8.3" text-anchor="middle" transform="rotate(-90 243.2 446.6)">unique to Raichu</text>
<text x="253.6" y="446.6" font-size="8.3" text-anchor="middle" transform="rotate(-90 253.6 446.6)">(n = 249)</text>
<rect x="446.6" y="290.4" width="6.6" height="33.4" fill="url(#rdylbu)" stroke="#000" stroke-width="1.2"/>
<text x="454.3" y="295.4" font-size="7.3">2.5</text>
<text x="454.3" y="324.2" font-size="7.3">0.6</text>
<text x="452.3" y="273.6" font-size="8.2" text-anchor="middle">Normalized</text>
<text x="451.8" y="283.6" font-size="8.2" text-anchor="middle">intensity</text>
<text x="480.2" y="315.0" font-size="12.5" font-weight="bold" fill="#000" style="stroke:#000">e</text>
<rect x="503.20" y="305.10" width="11.70" height="5.20" fill="rgb(92,190,98)"/>
<rect x="503.20" y="327.20" width="11.70" height="5.20" fill="rgb(250,130,20)"/>
<rect x="590.00" y="306.20" width="11.60" height="5.00" fill="rgb(90,155,212)"/>
<rect x="590.00" y="328.70" width="11.60" height="5.20" fill="rgb(238,88,98)"/>
<text x="519.5" y="304.4" font-size="6.8">WT-specific loops</text>
<text x="519.5" y="314.9" font-size="6.8">unique to ICE</text>
<text x="519.5" y="326.8" font-size="6.8">A/A-specific loops</text>
<text x="519.5" y="337.3" font-size="6.8">unique to ICE</text>
<text x="606.8" y="305.3" font-size="6.8">WT-specific loops</text>
<text x="606.8" y="316.3" font-size="6.8">unique to Raichu</text>
<text x="606.8" y="327.4" font-size="6.8">A/A-specific loops</text>
<text x="606.8" y="338.1" font-size="6.8">unique to Raichu</text>
<line x1="517.10" y1="348.80" x2="517.10" y2="440.40" stroke="#111" stroke-width="1.2"/>
<line x1="516.50" y1="439.80" x2="655.20" y2="439.80" stroke="#111" stroke-width="1.2"/>
<line x1="513.10" y1="439.80" x2="517.10" y2="439.80" stroke="#111" stroke-width="1.0"/>
<text x="510.9" y="442.7" font-size="8.2" text-anchor="end">0</text>
<line x1="513.10" y1="421.60" x2="517.10" y2="421.60" stroke="#111" stroke-width="1.0"/>
<text x="510.9" y="424.5" font-size="8.2" text-anchor="end">100</text>
<line x1="513.10" y1="403.40" x2="517.10" y2="403.40" stroke="#111" stroke-width="1.0"/>
<text x="510.9" y="406.3" font-size="8.2" text-anchor="end">200</text>
<line x1="513.10" y1="385.20" x2="517.10" y2="385.20" stroke="#111" stroke-width="1.0"/>
<text x="510.9" y="388.1" font-size="8.2" text-anchor="end">300</text>
<line x1="513.10" y1="367.00" x2="517.10" y2="367.00" stroke="#111" stroke-width="1.0"/>
<text x="510.9" y="369.9" font-size="8.2" text-anchor="end">400</text>
<rect x="524.00" y="429.43" width="6.80" height="10.37" fill="rgb(92,190,98)"/>
<rect x="532.80" y="376.65" width="6.80" height="63.15" fill="rgb(90,155,212)"/>
<rect x="541.90" y="438.16" width="6.80" height="1.64" fill="rgb(250,130,20)"/>
<rect x="551.00" y="425.97" width="6.80" height="13.83" fill="rgb(238,88,98)"/>
<rect x="569.20" y="425.97" width="6.80" height="13.83" fill="rgb(92,190,98)"/>
<rect x="578.30" y="353.17" width="6.80" height="86.63" fill="rgb(90,155,212)"/>
<rect x="587.30" y="437.07" width="6.80" height="2.73" fill="rgb(250,130,20)"/>
<rect x="596.20" y="423.24" width="6.80" height="16.56" fill="rgb(238,88,98)"/>
<rect x="614.10" y="435.07" width="6.80" height="4.73" fill="rgb(92,190,98)"/>
<rect x="623.20" y="408.86" width="6.80" height="30.94" fill="rgb(90,155,212)"/>
<rect x="632.20" y="439.71" width="6.80" height="0.09" fill="rgb(250,130,20)"/>
<rect x="641.00" y="433.61" width="6.80" height="6.19" fill="rgb(238,88,98)"/>
<text x="540.6" y="448.6" font-size="8.2" text-anchor="middle">P-E</text>
<text x="586.1" y="448.6" font-size="8.2" text-anchor="middle">E-E</text>
<text x="631.0" y="448.6" font-size="8.2" text-anchor="middle">P-P</text>
<text x="586.0" y="461.0" font-size="8.2" text-anchor="middle">Loop category</text>
<text x="486.0" y="395.0" font-size="8.2" text-anchor="middle" transform="rotate(-90 486.0 395.0)">Number of loops</text>
<text x="2.1" y="536.4" font-size="12.5" font-weight="bold" fill="#000" style="stroke:#000">f</text>
<path d="M67.3,613.1 L68.5,617.3 L69.9,609.9 L71.5,606.8 L73.4,603.4 L74.8,607.8 L76.2,608.9 L77.8,608.9 L79.3,609.9 L80.9,611.0 L82.5,609.9 L83.5,606.3 L84.6,610.5 L85.6,611.0 L87.2,601.0 L88.3,597.9 L89.5,603.6 L90.9,605.7 L92.5,605.7 L94.1,601.5 L95.4,598.4 L96.7,595.0 L98.3,598.4 L99.3,602.6 L100.9,596.8 L101.9,595.8 L103.0,599.4 L104.0,596.3 L105.1,600.5 L106.1,605.7 L107.7,600.0 L109.1,599.4 L110.3,601.5 L111.9,601.5 L113.5,602.6 L114.6,605.7 L116.1,606.3 L117.7,607.3 L119.3,605.7 L120.9,604.7 L122.4,607.3 L124.0,608.4 L125.6,607.8 L126.6,609.9 L128.0,601.5 L129.3,604.7" stroke="#bdbdbd" stroke-width="1.3" fill="none" stroke-linejoin="round"/>
<path d="M67.3,618.6 L68.3,619.4 L69.6,614.1 L70.9,612.0 L72.5,611.5 L73.4,607.8 L74.4,610.5 L75.5,608.4 L76.5,611.5 L77.6,612.0 L78.8,613.1 L80.4,614.1 L82.0,614.7 L83.5,613.1 L84.9,612.6 L86.0,615.2 L86.7,608.9 L87.8,602.1 L88.5,601.5 L89.5,606.8 L90.6,608.9 L92.0,609.4 L93.5,607.8 L95.1,606.3 L96.7,603.6 L98.3,604.2 L99.6,608.4 L100.7,602.6 L101.9,601.5 L103.5,602.1 L104.6,603.6 L105.3,610.5 L106.7,611.0 L107.4,611.5 L108.2,603.6 L109.5,602.6 L110.6,605.7 L111.9,606.3 L113.0,605.7 L114.6,610.5 L115.8,613.1 L117.2,615.4 L118.2,612.0 L119.6,609.4 L120.7,610.5 L121.9,612.0 L123.5,612.6 L125.1,613.1 L126.3,615.2 L127.4,616.2 L128.2,606.3 L129.3,608.9" stroke="#000" stroke-width="1.6" fill="none" stroke-linejoin="round"/>
<line x1="64.30" y1="553.40" x2="64.30" y2="622.10" stroke="#111" stroke-width="1.4"/>
<line x1="63.60" y1="621.50" x2="132.80" y2="621.50" stroke="#111" stroke-width="1.4"/>
<line x1="67.30" y1="621.50" x2="67.30" y2="625.30" stroke="#111" stroke-width="1.1"/>
<line x1="98.60" y1="621.50" x2="98.60" y2="625.30" stroke="#111" stroke-width="1.1"/>
<line x1="129.60" y1="621.50" x2="129.60" y2="625.30" stroke="#111" stroke-width="1.1"/>
<text x="67.3" y="635.6" font-size="8.2" text-anchor="middle">-50kb</text>
<text x="98.6" y="635.6" font-size="8.2" text-anchor="middle">anchor</text>
<text x="129.6" y="635.6" font-size="8.2" text-anchor="middle">+50kb</text>
<line x1="59.80" y1="554.50" x2="64.30" y2="554.50" stroke="#111" stroke-width="1.1"/>
<text x="56.7" y="558.0" font-size="8.2" text-anchor="end">0.15</text>
<line x1="59.80" y1="580.80" x2="64.30" y2="580.80" stroke="#111" stroke-width="1.1"/>
<text x="56.7" y="584.3" font-size="8.2" text-anchor="end">0.10</text>
<line x1="59.80" y1="607.10" x2="64.30" y2="607.10" stroke="#111" stroke-width="1.1"/>
<text x="56.7" y="610.6" font-size="8.2" text-anchor="end">0.05</text>
<text x="98.8" y="530.3" font-size="8.9" text-anchor="middle">C/C-specific loops</text>
<text x="98.8" y="540.9" font-size="8.9" text-anchor="middle">unique to ICE</text>
<text x="98.8" y="551.6" font-size="8.9" text-anchor="middle">(n = 245)</text>
<path d="M167.3,604.1 L169.4,604.7 L171.5,604.1 L173.6,603.1 L175.1,601.0 L176.7,602.6 L178.8,602.0 L180.4,600.5 L182.0,601.5 L184.1,601.0 L185.6,599.9 L187.2,598.3 L188.3,602.6 L190.4,604.7 L192.0,606.2 L193.5,600.5 L195.4,586.8 L196.7,568.9 L198.6,557.9 L200.5,571.0 L201.7,584.7 L203.0,596.2 L204.6,603.6 L206.1,605.7 L207.7,603.1 L209.3,601.5 L210.9,599.9 L212.5,602.0 L214.6,602.6 L216.7,603.1 L218.8,599.9 L220.3,601.0 L221.9,601.5 L223.5,602.6 L225.1,601.5 L226.6,603.6 L228.2,601.0 L229.8,604.7" stroke="#bdbdbd" stroke-width="1.3" fill="none" stroke-linejoin="round"/>
<path d="M167.3,607.3 L168.3,608.9 L169.9,607.8 L171.5,607.3 L173.6,605.7 L175.1,605.2 L176.7,606.2 L178.8,605.7 L180.9,604.1 L182.0,602.6 L183.0,603.6 L184.6,604.1 L186.2,604.9 L187.8,604.7 L188.8,605.7 L190.4,608.3 L192.0,609.4 L193.0,607.3 L194.1,600.5 L195.4,586.8 L196.7,568.9 L197.7,560.5 L198.6,557.4 L199.4,560.5 L200.5,571.0 L201.7,584.7 L203.0,596.2 L204.0,602.6 L205.1,606.8 L206.1,608.3 L207.2,607.3 L208.8,605.2 L210.3,604.7 L212.5,604.1 L214.6,604.1 L216.1,605.7 L217.2,607.3 L218.8,606.8 L220.3,607.3 L221.9,606.2 L223.0,607.3 L224.5,608.9 L225.6,607.3 L226.6,608.3 L227.7,605.7 L228.7,607.3 L229.8,607.3" stroke="#000" stroke-width="1.6" fill="none" stroke-linejoin="round"/>
<line x1="164.40" y1="553.40" x2="164.40" y2="622.10" stroke="#111" stroke-width="1.4"/>
<line x1="163.70" y1="621.50" x2="232.90" y2="621.50" stroke="#111" stroke-width="1.4"/>
<line x1="167.40" y1="621.50" x2="167.40" y2="625.30" stroke="#111" stroke-width="1.1"/>
<line x1="198.70" y1="621.50" x2="198.70" y2="625.30" stroke="#111" stroke-width="1.1"/>
<line x1="229.70" y1="621.50" x2="229.70" y2="625.30" stroke="#111" stroke-width="1.1"/>
<text x="167.4" y="635.6" font-size="8.2" text-anchor="middle">-50kb</text>
<text x="198.7" y="635.6" font-size="8.2" text-anchor="middle">anchor</text>
<text x="229.7" y="635.6" font-size="8.2" text-anchor="middle">+50kb</text>
<line x1="159.90" y1="554.50" x2="164.40" y2="554.50" stroke="#111" stroke-width="1.1"/>
<text x="156.8" y="558.0" font-size="8.2" text-anchor="end">0.15</text>
<line x1="159.90" y1="580.80" x2="164.40" y2="580.80" stroke="#111" stroke-width="1.1"/>
<text x="156.8" y="584.3" font-size="8.2" text-anchor="end">0.10</text>
<line x1="159.90" y1="607.10" x2="164.40" y2="607.10" stroke="#111" stroke-width="1.1"/>
<text x="156.8" y="610.6" font-size="8.2" text-anchor="end">0.05</text>
<text x="198.9" y="530.3" font-size="8.9" text-anchor="middle">C/C-specific loops</text>
<text x="198.9" y="540.9" font-size="8.9" text-anchor="middle">unique to Raichu</text>
<text x="198.9" y="551.6" font-size="8.9" text-anchor="middle">(n = 937)</text>
<path d="M265.7,596.2 L267.3,599.4 L269.4,602.0 L271.0,599.4 L272.4,600.5 L273.6,607.8 L274.7,598.3 L275.7,596.2 L276.8,599.4 L277.8,600.5 L278.9,594.1 L279.9,590.5 L281.0,596.2 L282.0,595.2 L283.1,593.1 L284.1,593.6 L285.4,594.1 L286.4,584.7 L287.3,578.4 L288.3,582.6 L289.4,580.5 L290.6,580.5 L291.5,586.8 L292.5,596.2 L293.6,601.5 L294.8,600.5 L295.9,606.8 L296.9,607.3 L298.0,604.7 L299.0,597.3 L300.1,599.4 L301.2,596.2 L302.2,596.2 L303.3,594.1 L304.3,595.2 L305.4,600.5 L306.4,602.6 L307.5,599.4 L308.8,596.2 L309.9,591.0 L310.9,583.6 L312.0,593.1 L313.0,597.3 L314.1,592.0 L315.1,586.8 L316.2,594.1 L317.2,600.5 L318.3,596.2 L319.3,596.2 L320.4,596.2 L321.4,599.4 L322.5,596.2 L324.1,598.3 L325.1,593.1 L326.2,592.0 L327.2,593.1 L328.3,598.3" stroke="#bdbdbd" stroke-width="1.3" fill="none" stroke-linejoin="round"/>
<path d="M265.7,592.0 L266.8,600.5 L267.8,602.0 L268.9,602.6 L269.9,609.4 L271.0,605.7 L272.0,607.8 L272.8,613.1 L273.6,619.4 L274.7,608.9 L275.7,603.6 L276.8,608.9 L277.6,616.2 L278.7,608.9 L279.7,603.6 L280.8,607.8 L281.8,608.3 L282.9,604.7 L284.1,597.8 L285.2,596.2 L286.2,599.4 L287.1,590.5 L288.1,593.1 L289.2,591.5 L290.4,592.0 L291.5,595.2 L292.5,602.6 L293.4,612.0 L294.4,613.1 L295.7,618.3 L296.7,617.8 L297.8,617.8 L298.8,611.0 L299.7,601.5 L300.7,604.7 L301.8,612.0 L303.0,599.4 L304.1,598.3 L305.1,601.5 L306.2,613.1 L307.2,618.3 L308.3,608.9 L309.3,600.5 L310.4,592.0 L311.5,594.1 L312.5,604.7 L313.6,608.9 L314.6,597.3 L315.7,592.0 L316.7,602.6 L317.5,613.1 L318.6,602.6 L319.7,601.5 L320.7,609.9 L321.8,600.5 L322.8,605.7 L323.9,600.5 L325.1,598.3 L326.2,600.5 L327.2,597.8 L328.3,599.4" stroke="#000" stroke-width="1.6" fill="none" stroke-linejoin="round"/>
<line x1="263.30" y1="553.40" x2="263.30" y2="622.10" stroke="#111" stroke-width="1.4"/>
<line x1="262.60" y1="621.50" x2="331.80" y2="621.50" stroke="#111" stroke-width="1.4"/>
<line x1="266.30" y1="621.50" x2="266.30" y2="625.30" stroke="#111" stroke-width="1.1"/>
<line x1="297.60" y1="621.50" x2="297.60" y2="625.30" stroke="#111" stroke-width="1.1"/>
<line x1="328.60" y1="621.50" x2="328.60" y2="625.30" stroke="#111" stroke-width="1.1"/>
<text x="266.3" y="635.6" font-size="8.2" text-anchor="middle">-50kb</text>
<text x="297.6" y="635.6" font-size="8.2" text-anchor="middle">anchor</text>
<text x="328.6" y="635.6" font-size="8.2" text-anchor="middle">+50kb</text>
<line x1="258.80" y1="554.50" x2="263.30" y2="554.50" stroke="#111" stroke-width="1.1"/>
<text x="255.7" y="558.0" font-size="8.2" text-anchor="end">0.15</text>
<line x1="258.80" y1="580.80" x2="263.30" y2="580.80" stroke="#111" stroke-width="1.1"/>
<text x="255.7" y="584.3" font-size="8.2" text-anchor="end">0.10</text>
<line x1="258.80" y1="607.10" x2="263.30" y2="607.10" stroke="#111" stroke-width="1.1"/>
<text x="255.7" y="610.6" font-size="8.2" text-anchor="end">0.05</text>
<text x="297.8" y="530.3" font-size="8.9" text-anchor="middle">A/A-specific loops</text>
<text x="297.8" y="540.9" font-size="8.9" text-anchor="middle">unique to ICE</text>
<text x="297.8" y="551.6" font-size="8.9" text-anchor="middle">(n = 65)</text>
<path d="M366.0,602.6 L367.3,601.5 L368.6,604.7 L369.9,612.0 L371.5,611.0 L373.1,609.4 L374.5,609.9 L375.7,612.0 L376.8,611.0 L378.3,604.7 L379.4,606.8 L381.0,610.4 L382.5,612.0 L384.1,608.9 L385.4,603.1 L386.8,601.5 L388.1,602.6 L389.4,599.4 L390.4,601.5 L391.7,604.7 L393.1,603.6 L394.1,602.6 L395.2,593.1 L396.5,583.6 L397.8,585.7 L399.0,589.9 L400.4,595.2 L401.5,595.2 L402.8,595.2 L404.1,598.3 L405.7,606.8 L406.7,604.7 L407.8,600.5 L408.8,599.4 L409.9,602.6 L411.2,606.8 L412.5,608.9 L414.1,607.3 L415.1,603.6 L416.5,604.7 L417.2,599.4 L418.3,604.7 L419.9,603.1 L421.4,603.6 L423.0,602.0 L424.6,601.5 L426.0,604.7 L427.2,607.3 L428.8,603.6" stroke="#bdbdbd" stroke-width="1.3" fill="none" stroke-linejoin="round"/>
<path d="M366.0,606.8 L367.3,604.7 L368.4,607.3 L369.6,613.1 L371.0,616.2 L372.6,615.2 L373.8,613.6 L375.2,616.2 L376.6,616.7 L377.8,611.0 L378.9,607.8 L379.9,612.0 L381.5,612.5 L383.1,614.6 L384.3,615.2 L385.4,609.4 L386.4,606.2 L387.8,608.3 L388.9,609.4 L389.9,606.8 L391.0,607.8 L392.5,608.3 L393.8,608.9 L394.6,600.5 L395.7,588.9 L396.7,585.7 L398.0,586.8 L399.4,591.0 L400.4,596.2 L401.5,598.9 L402.8,600.5 L403.6,602.0 L404.6,608.9 L405.7,611.5 L406.7,611.0 L407.8,605.2 L408.8,603.6 L409.9,605.7 L410.9,610.4 L412.5,612.5 L413.6,613.1 L414.6,610.4 L415.7,608.3 L416.7,606.8 L417.8,606.2 L418.8,609.4 L419.9,609.9 L420.9,606.8 L422.2,606.2 L423.2,607.8 L424.3,607.3 L425.3,605.7 L426.4,609.9 L427.4,608.3 L428.8,603.1" stroke="#000" stroke-width="1.6" fill="none" stroke-linejoin="round"/>
<line x1="363.20" y1="553.40" x2="363.20" y2="622.10" stroke="#111" stroke-width="1.4"/>
<line x1="362.50" y1="621.50" x2="431.70" y2="621.50" stroke="#111" stroke-width="1.4"/>
<line x1="366.20" y1="621.50" x2="366.20" y2="625.30" stroke="#111" stroke-width="1.1"/>
<line x1="397.50" y1="621.50" x2="397.50" y2="625.30" stroke="#111" stroke-width="1.1"/>
<line x1="428.50" y1="621.50" x2="428.50" y2="625.30" stroke="#111" stroke-width="1.1"/>
<text x="366.2" y="635.6" font-size="8.2" text-anchor="middle">-50kb</text>
<text x="397.5" y="635.6" font-size="8.2" text-anchor="middle">anchor</text>
<text x="428.5" y="635.6" font-size="8.2" text-anchor="middle">+50kb</text>
<line x1="358.70" y1="554.50" x2="363.20" y2="554.50" stroke="#111" stroke-width="1.1"/>
<text x="355.6" y="558.0" font-size="8.2" text-anchor="end">0.15</text>
<line x1="358.70" y1="580.80" x2="363.20" y2="580.80" stroke="#111" stroke-width="1.1"/>
<text x="355.6" y="584.3" font-size="8.2" text-anchor="end">0.10</text>
<line x1="358.70" y1="607.10" x2="363.20" y2="607.10" stroke="#111" stroke-width="1.1"/>
<text x="355.6" y="610.6" font-size="8.2" text-anchor="end">0.05</text>
<text x="397.7" y="530.3" font-size="8.9" text-anchor="middle">A/A-specific loops</text>
<text x="397.7" y="540.9" font-size="8.9" text-anchor="middle">unique to Raichu</text>
<text x="397.7" y="551.6" font-size="8.9" text-anchor="middle">(n = 249)</text>
<path d="M66.7,715.2 L68.3,717.3 L69.9,714.1 L71.5,711.0 L73.0,713.1 L74.6,715.2 L76.2,715.2 L77.8,713.1 L78.8,712.5 L79.9,715.2 L81.4,715.7 L83.0,716.2 L84.6,715.7 L86.0,718.8 L87.2,714.1 L88.3,711.5 L89.5,715.7 L90.9,715.2 L92.5,715.2 L94.1,715.2 L95.6,714.1 L96.7,708.3 L97.5,715.2 L98.6,712.0 L99.8,713.1 L101.1,712.0 L102.2,712.5 L103.2,713.6 L104.3,715.2 L105.3,717.3 L106.1,715.2 L107.2,712.0 L108.2,714.1 L109.3,709.9 L110.6,714.1 L111.6,712.0 L112.7,713.1 L114.0,718.3 L115.6,718.3 L117.2,719.4 L118.8,718.8 L120.3,717.8 L121.9,716.2 L123.5,715.7 L124.7,714.1 L126.1,716.2 L127.7,716.2 L129.3,719.4" stroke="#bdbdbd" stroke-width="1.3" fill="none" stroke-linejoin="round"/>
<path d="M66.7,707.8 L67.8,713.1 L69.4,702.6 L70.4,708.9 L71.5,710.4 L72.5,704.7 L74.1,702.6 L75.7,697.3 L76.7,701.5 L77.8,705.7 L79.0,710.4 L80.7,701.5 L82.0,707.3 L83.5,707.8 L85.1,708.3 L86.0,708.9 L87.0,695.2 L88.3,702.6 L89.3,703.1 L90.4,699.9 L92.0,699.4 L93.5,698.3 L94.6,702.0 L95.6,703.1 L96.9,697.8 L97.9,703.6 L99.0,705.7 L100.4,695.2 L101.4,694.1 L102.5,699.4 L103.5,698.3 L105.1,704.7 L106.1,702.6 L107.2,699.9 L108.2,702.6 L109.3,701.0 L110.3,705.2 L111.4,703.6 L112.1,697.8 L113.3,707.3 L114.6,703.6 L115.8,704.7 L116.9,710.4 L118.2,706.8 L119.6,707.3 L120.7,699.4 L121.9,703.1 L123.0,707.3 L124.2,706.8 L125.6,710.4 L127.0,704.7 L128.0,698.9 L129.3,709.9" stroke="#000" stroke-width="1.6" fill="none" stroke-linejoin="round"/>
<line x1="64.30" y1="653.50" x2="64.30" y2="722.40" stroke="#111" stroke-width="1.4"/>
<line x1="63.60" y1="721.80" x2="132.80" y2="721.80" stroke="#111" stroke-width="1.4"/>
<line x1="67.30" y1="721.80" x2="67.30" y2="725.60" stroke="#111" stroke-width="1.1"/>
<line x1="98.60" y1="721.80" x2="98.60" y2="725.60" stroke="#111" stroke-width="1.1"/>
<line x1="129.60" y1="721.80" x2="129.60" y2="725.60" stroke="#111" stroke-width="1.1"/>
<text x="67.3" y="735.6" font-size="8.2" text-anchor="middle">-50kb</text>
<text x="98.6" y="735.6" font-size="8.2" text-anchor="middle">anchor</text>
<text x="129.6" y="735.6" font-size="8.2" text-anchor="middle">+50kb</text>
<line x1="59.80" y1="664.00" x2="64.30" y2="664.00" stroke="#111" stroke-width="1.1"/>
<text x="56.7" y="666.9" font-size="8.2" text-anchor="end">4</text>
<line x1="59.80" y1="691.90" x2="64.30" y2="691.90" stroke="#111" stroke-width="1.1"/>
<text x="56.7" y="694.8" font-size="8.2" text-anchor="end">2</text>
<line x1="59.80" y1="719.80" x2="64.30" y2="719.80" stroke="#111" stroke-width="1.1"/>
<text x="56.7" y="722.7" font-size="8.2" text-anchor="end">0</text>
<text x="57.7" y="651.6" font-size="7.8">×10</text>
<text x="70.6" y="648.4" font-size="5.8">-2</text>
<path d="M167.3,717.8 L168.8,716.2 L170.4,716.7 L172.0,717.3 L173.6,717.3 L175.1,716.7 L176.7,717.8 L178.3,716.2 L179.9,717.8 L181.4,716.2 L183.0,717.8 L184.6,717.3 L186.2,715.7 L187.8,717.3 L189.3,717.8 L190.9,717.3 L192.5,717.8 L193.5,717.3 L194.6,716.2 L195.6,714.1 L196.7,712.0 L197.7,709.9 L198.6,708.3 L199.4,709.9 L200.4,712.0 L201.4,714.1 L202.5,715.7 L204.0,716.7 L205.6,716.2 L207.2,717.3 L208.8,716.2 L210.3,715.7 L211.9,717.3 L213.5,716.2 L215.1,715.7 L216.7,717.3 L218.2,716.2 L219.8,716.2 L221.4,718.3 L223.0,717.3 L224.5,717.3 L226.1,716.7 L227.7,717.8 L229.3,717.3 L230.3,718.3" stroke="#bdbdbd" stroke-width="1.3" fill="none" stroke-linejoin="round"/>
<path d="M167.3,699.9 L168.3,703.6 L169.9,704.7 L171.5,703.6 L173.0,701.5 L174.4,703.1 L175.7,701.0 L177.2,702.6 L178.8,703.6 L180.1,701.5 L181.1,697.3 L182.2,702.0 L183.5,702.0 L184.9,702.6 L186.2,699.9 L187.4,701.5 L188.8,701.5 L189.9,703.1 L191.4,703.1 L192.7,702.0 L193.7,701.5 L194.6,696.2 L195.6,684.7 L196.7,671.0 L197.7,660.5 L198.6,656.8 L199.4,661.6 L200.4,668.9 L201.4,681.5 L202.5,695.2 L203.5,700.5 L204.6,704.1 L205.6,704.1 L206.7,702.0 L208.2,701.5 L209.8,700.5 L210.9,698.3 L211.9,701.0 L213.3,698.3 L214.6,696.2 L215.6,698.9 L216.7,704.1 L217.7,703.1 L218.8,701.5 L220.3,702.6 L221.7,701.5 L222.8,702.6 L224.0,706.8 L225.1,704.7 L226.1,702.0 L227.2,702.6 L228.2,701.5 L229.3,703.6 L230.3,705.7" stroke="#000" stroke-width="1.6" fill="none" stroke-linejoin="round"/>
<line x1="164.40" y1="653.50" x2="164.40" y2="722.40" stroke="#111" stroke-width="1.4"/>
<line x1="163.70" y1="721.80" x2="232.90" y2="721.80" stroke="#111" stroke-width="1.4"/>
<line x1="167.40" y1="721.80" x2="167.40" y2="725.60" stroke="#111" stroke-width="1.1"/>
<line x1="198.70" y1="721.80" x2="198.70" y2="725.60" stroke="#111" stroke-width="1.1"/>
<line x1="229.70" y1="721.80" x2="229.70" y2="725.60" stroke="#111" stroke-width="1.1"/>
<text x="167.4" y="735.6" font-size="8.2" text-anchor="middle">-50kb</text>
<text x="198.7" y="735.6" font-size="8.2" text-anchor="middle">anchor</text>
<text x="229.7" y="735.6" font-size="8.2" text-anchor="middle">+50kb</text>
<line x1="159.90" y1="664.00" x2="164.40" y2="664.00" stroke="#111" stroke-width="1.1"/>
<text x="156.8" y="666.9" font-size="8.2" text-anchor="end">4</text>
<line x1="159.90" y1="691.90" x2="164.40" y2="691.90" stroke="#111" stroke-width="1.1"/>
<text x="156.8" y="694.8" font-size="8.2" text-anchor="end">2</text>
<line x1="159.90" y1="719.80" x2="164.40" y2="719.80" stroke="#111" stroke-width="1.1"/>
<text x="156.8" y="722.7" font-size="8.2" text-anchor="end">0</text>
<text x="157.8" y="651.6" font-size="7.8">×10</text>
<text x="170.7" y="648.4" font-size="5.8">-2</text>
<path d="M265.7,705.7 L267.3,708.9 L268.9,712.0 L269.9,715.2 L271.5,717.3 L273.1,716.2 L274.7,712.0 L275.7,708.9 L276.8,713.1 L277.8,714.1 L279.4,703.6 L280.4,712.0 L281.5,716.2 L282.5,718.8 L283.9,714.1 L285.2,709.9 L286.8,706.8 L288.1,707.3 L289.2,708.9 L290.4,707.8 L291.7,708.9 L293.1,704.7 L294.4,701.5 L295.5,704.7 L296.5,716.2 L297.8,707.3 L299.0,704.7 L300.1,716.2 L301.2,712.0 L302.5,705.7 L304.1,706.8 L305.1,713.1 L306.4,714.1 L307.8,713.1 L309.1,708.9 L310.2,702.6 L311.5,708.9 L312.5,715.2 L313.8,716.2 L315.1,715.2 L316.2,712.0 L317.8,713.1 L319.0,715.2 L320.4,713.1 L321.8,715.2 L323.0,708.9 L324.1,709.9 L325.1,718.3 L326.4,707.8 L328.3,705.7" stroke="#bdbdbd" stroke-width="1.3" fill="none" stroke-linejoin="round"/>
<path d="M265.7,688.9 L266.8,707.8 L267.8,699.4 L268.9,712.0 L269.9,702.6 L271.0,696.2 L272.0,704.7 L273.1,707.8 L274.5,701.5 L275.5,705.7 L276.8,698.3 L278.0,697.3 L279.4,699.4 L281.0,704.7 L282.5,704.7 L283.9,705.2 L285.0,708.9 L286.0,695.2 L287.1,687.3 L288.1,693.1 L289.2,698.3 L290.4,691.0 L291.5,694.1 L292.3,706.8 L293.4,695.2 L294.4,688.4 L295.5,704.7 L296.5,697.8 L297.8,698.3 L299.0,694.1 L300.1,696.2 L301.2,703.6 L302.5,704.7 L303.6,698.3 L304.3,691.5 L305.1,708.9 L306.2,715.2 L307.2,717.3 L308.3,708.9 L309.3,697.3 L310.6,687.8 L311.5,700.5 L312.3,711.0 L313.3,698.3 L314.4,702.6 L315.7,706.8 L316.9,701.5 L318.0,697.3 L319.3,696.2 L320.4,702.6 L321.8,698.3 L323.0,693.1 L324.1,692.6 L325.1,699.4 L326.2,702.6 L327.0,700.5 L328.3,705.7" stroke="#000" stroke-width="1.6" fill="none" stroke-linejoin="round"/>
<line x1="263.30" y1="653.50" x2="263.30" y2="722.40" stroke="#111" stroke-width="1.4"/>
<line x1="262.60" y1="721.80" x2="331.80" y2="721.80" stroke="#111" stroke-width="1.4"/>
<line x1="266.30" y1="721.80" x2="266.30" y2="725.60" stroke="#111" stroke-width="1.1"/>
<line x1="297.60" y1="721.80" x2="297.60" y2="725.60" stroke="#111" stroke-width="1.1"/>
<line x1="328.60" y1="721.80" x2="328.60" y2="725.60" stroke="#111" stroke-width="1.1"/>
<text x="266.3" y="735.6" font-size="8.2" text-anchor="middle">-50kb</text>
<text x="297.6" y="735.6" font-size="8.2" text-anchor="middle">anchor</text>
<text x="328.6" y="735.6" font-size="8.2" text-anchor="middle">+50kb</text>
<line x1="258.80" y1="664.00" x2="263.30" y2="664.00" stroke="#111" stroke-width="1.1"/>
<text x="255.7" y="666.9" font-size="8.2" text-anchor="end">4</text>
<line x1="258.80" y1="691.90" x2="263.30" y2="691.90" stroke="#111" stroke-width="1.1"/>
<text x="255.7" y="694.8" font-size="8.2" text-anchor="end">2</text>
<line x1="258.80" y1="719.80" x2="263.30" y2="719.80" stroke="#111" stroke-width="1.1"/>
<text x="255.7" y="722.7" font-size="8.2" text-anchor="end">0</text>
<text x="256.7" y="651.6" font-size="7.8">×10</text>
<text x="269.6" y="648.4" font-size="5.8">-2</text>
<path d="M365.2,716.2 L366.8,713.6 L367.8,717.3 L369.4,718.3 L371.0,717.8 L372.6,718.3 L374.1,715.2 L375.7,716.7 L377.3,715.2 L378.9,718.3 L380.4,718.8 L382.0,717.3 L383.6,715.7 L385.2,714.1 L386.8,715.2 L388.3,715.7 L389.9,716.2 L391.5,715.2 L392.5,718.3 L393.6,714.1 L394.6,712.5 L395.7,714.1 L397.3,710.4 L398.3,714.1 L399.4,716.2 L400.4,715.2 L402.0,713.6 L403.6,715.7 L405.1,717.3 L406.7,718.3 L408.3,716.2 L409.9,715.7 L411.5,717.3 L413.0,717.8 L414.6,716.2 L416.2,714.1 L417.8,711.5 L418.8,717.3 L420.4,717.3 L422.0,717.3 L423.5,716.7 L425.1,716.2 L426.7,715.2 L428.3,713.6" stroke="#bdbdbd" stroke-width="1.3" fill="none" stroke-linejoin="round"/>
<path d="M365.2,697.8 L366.8,699.4 L367.8,704.7 L368.9,707.3 L369.9,701.0 L371.0,708.3 L372.0,705.7 L373.4,706.8 L374.7,712.0 L375.7,706.8 L376.8,703.6 L377.8,702.6 L378.9,712.0 L379.9,708.9 L381.2,706.2 L382.5,703.6 L383.6,704.1 L384.6,702.6 L385.4,700.5 L386.4,705.2 L387.5,701.5 L388.5,697.8 L389.4,696.2 L390.4,707.3 L391.5,703.6 L392.5,707.8 L393.6,692.0 L394.6,690.5 L395.7,688.9 L396.7,687.8 L397.8,688.4 L398.8,689.9 L399.9,695.2 L400.7,700.5 L402.0,701.5 L403.0,703.1 L404.3,703.6 L405.7,704.7 L406.7,706.2 L408.1,705.2 L409.3,704.7 L410.4,705.2 L411.7,707.3 L412.7,709.9 L413.6,704.7 L414.6,705.7 L415.7,707.3 L416.7,703.6 L417.8,701.5 L418.8,709.9 L419.9,702.6 L420.9,704.7 L422.0,701.5 L423.0,702.0 L424.1,705.2 L425.3,709.4 L426.4,707.8 L427.7,699.4" stroke="#000" stroke-width="1.6" fill="none" stroke-linejoin="round"/>
<line x1="363.20" y1="653.50" x2="363.20" y2="722.40" stroke="#111" stroke-width="1.4"/>
<line x1="362.50" y1="721.80" x2="431.70" y2="721.80" stroke="#111" stroke-width="1.4"/>
<line x1="366.20" y1="721.80" x2="366.20" y2="725.60" stroke="#111" stroke-width="1.1"/>
<line x1="397.50" y1="721.80" x2="397.50" y2="725.60" stroke="#111" stroke-width="1.1"/>
<line x1="428.50" y1="721.80" x2="428.50" y2="725.60" stroke="#111" stroke-width="1.1"/>
<text x="366.2" y="735.6" font-size="8.2" text-anchor="middle">-50kb</text>
<text x="397.5" y="735.6" font-size="8.2" text-anchor="middle">anchor</text>
<text x="428.5" y="735.6" font-size="8.2" text-anchor="middle">+50kb</text>
<line x1="358.70" y1="664.00" x2="363.20" y2="664.00" stroke="#111" stroke-width="1.1"/>
<text x="355.6" y="666.9" font-size="8.2" text-anchor="end">4</text>
<line x1="358.70" y1="691.90" x2="363.20" y2="691.90" stroke="#111" stroke-width="1.1"/>
<text x="355.6" y="694.8" font-size="8.2" text-anchor="end">2</text>
<line x1="358.70" y1="719.80" x2="363.20" y2="719.80" stroke="#111" stroke-width="1.1"/>
<text x="355.6" y="722.7" font-size="8.2" text-anchor="end">0</text>
<text x="356.6" y="651.6" font-size="7.8">×10</text>
<text x="369.5" y="648.4" font-size="5.8">-2</text>
<text x="9.8" y="586.3" font-size="9" text-anchor="middle" transform="rotate(-90 9.8 586.3)">H3K27ac</text>
<text x="9.8" y="688.0" font-size="9" text-anchor="middle" transform="rotate(-90 9.8 688.0)">GATA3</text>
<text x="32.4" y="587.9" font-size="8.1" text-anchor="middle" transform="rotate(-90 32.4 587.9)">Average peak number</text>
<text x="32.4" y="688.0" font-size="8.1" text-anchor="middle" transform="rotate(-90 32.4 688.0)">Average peak number</text>
<line x1="164.70" y1="752.60" x2="173.40" y2="752.60" stroke="#bdbdbd" stroke-width="2"/>
<text x="177.0" y="755.6" font-size="8.2">Wild type (C/C)</text>
<line x1="261.50" y1="752.60" x2="272.00" y2="752.60" stroke="#000" stroke-width="2"/>
<text x="275.5" y="755.6" font-size="8.2">Engineered (A/A)</text>
<text x="464.0" y="484.0" font-size="12.5" font-weight="bold" fill="#000" style="stroke:#000">g</text>
<line x1="502.40" y1="521.70" x2="502.40" y2="598.70" stroke="#111" stroke-width="1.5"/>
<line x1="501.70" y1="598.00" x2="571.00" y2="598.00" stroke="#111" stroke-width="1.5"/>
<line x1="498.10" y1="594.70" x2="502.40" y2="594.70" stroke="#111" stroke-width="1.1"/>
<text x="495.8" y="597.6" font-size="8.2" text-anchor="end">0</text>
<line x1="498.10" y1="560.50" x2="502.40" y2="560.50" stroke="#111" stroke-width="1.1"/>
<text x="495.8" y="563.4" font-size="8.2" text-anchor="end">5</text>
<line x1="498.10" y1="526.30" x2="502.40" y2="526.30" stroke="#111" stroke-width="1.1"/>
<text x="495.8" y="529.2" font-size="8.2" text-anchor="end">10</text>
<line x1="519.70" y1="526.30" x2="519.70" y2="557.00" stroke="#111" stroke-width="1.2" stroke-dasharray="3.4,1.6"/>
<line x1="519.70" y1="592.30" x2="519.70" y2="594.70" stroke="#111" stroke-width="1.2" stroke-dasharray="3.4,1.6"/>
<line x1="514.10" y1="525.50" x2="525.30" y2="525.50" stroke="#111" stroke-width="1.6"/>
<line x1="514.10" y1="594.70" x2="525.30" y2="594.70" stroke="#111" stroke-width="1.6"/>
<rect x="509.7" y="557.0" width="20.0" height="35.3" fill="rgb(127,201,127)" stroke="#111" stroke-width="1.1"/>
<line x1="509.70" y1="570.00" x2="529.70" y2="570.00" stroke="#111" stroke-width="1.4"/>
<line x1="519.70" y1="598.00" x2="519.70" y2="601.80" stroke="#111" stroke-width="1.1"/>
<text x="519.7" y="611.9" font-size="8.2" text-anchor="middle">C/C</text>
<line x1="553.90" y1="531.50" x2="553.90" y2="560.40" stroke="#111" stroke-width="1.2" stroke-dasharray="3.4,1.6"/>
<line x1="553.90" y1="593.20" x2="553.90" y2="594.70" stroke="#111" stroke-width="1.2" stroke-dasharray="3.4,1.6"/>
<line x1="548.30" y1="530.70" x2="559.50" y2="530.70" stroke="#111" stroke-width="1.6"/>
<line x1="548.30" y1="594.70" x2="559.50" y2="594.70" stroke="#111" stroke-width="1.6"/>
<rect x="543.4" y="560.4" width="21.0" height="32.8" fill="rgb(190,174,212)" stroke="#111" stroke-width="1.1"/>
<line x1="543.40" y1="571.30" x2="564.40" y2="571.30" stroke="#111" stroke-width="1.4"/>
<line x1="553.90" y1="598.00" x2="553.90" y2="601.80" stroke="#111" stroke-width="1.1"/>
<text x="553.9" y="611.9" font-size="8.2" text-anchor="middle">A/A</text>
<text x="535.9" y="483.0" font-size="8.9" text-anchor="middle">C/C-specific loops</text>
<text x="534.6" y="494.1" font-size="8.9" text-anchor="middle">unique to ICE</text>
<text x="537.3" y="506.5" font-size="8.2" text-anchor="middle"><tspan font-style="italic">P</tspan>=0.149</text>
<text x="536.8" y="515.3" font-size="8.2" text-anchor="middle">(n=28)</text>
<path d="M519.7,523.1V518.9H553.9V523.1" stroke="#111" stroke-width="1.3" fill="none"/>
<text x="476.8" y="559.9" font-size="8.2" text-anchor="middle" transform="rotate(-90 476.8 559.9)">RNA-Seq log2(TPM + 1)</text>
<line x1="614.70" y1="521.70" x2="614.70" y2="598.70" stroke="#111" stroke-width="1.5"/>
<line x1="614.00" y1="598.00" x2="683.70" y2="598.00" stroke="#111" stroke-width="1.5"/>
<line x1="610.40" y1="594.70" x2="614.70" y2="594.70" stroke="#111" stroke-width="1.1"/>
<text x="608.1" y="597.6" font-size="8.2" text-anchor="end">0.0</text>
<line x1="610.40" y1="573.73" x2="614.70" y2="573.73" stroke="#111" stroke-width="1.1"/>
<text x="608.1" y="576.6" font-size="8.2" text-anchor="end">2.5</text>
<line x1="610.40" y1="552.75" x2="614.70" y2="552.75" stroke="#111" stroke-width="1.1"/>
<text x="608.1" y="555.6" font-size="8.2" text-anchor="end">5.0</text>
<line x1="610.40" y1="531.78" x2="614.70" y2="531.78" stroke="#111" stroke-width="1.1"/>
<text x="608.1" y="534.7" font-size="8.2" text-anchor="end">7.5</text>
<line x1="631.50" y1="527.30" x2="631.50" y2="552.80" stroke="#111" stroke-width="1.2" stroke-dasharray="3.4,1.6"/>
<line x1="631.50" y1="592.30" x2="631.50" y2="594.70" stroke="#111" stroke-width="1.2" stroke-dasharray="3.4,1.6"/>
<line x1="625.90" y1="526.50" x2="637.10" y2="526.50" stroke="#111" stroke-width="1.6"/>
<line x1="625.90" y1="594.70" x2="637.10" y2="594.70" stroke="#111" stroke-width="1.6"/>
<rect x="621.3" y="552.8" width="20.4" height="39.5" fill="rgb(127,201,127)" stroke="#111" stroke-width="1.1"/>
<line x1="621.30" y1="567.10" x2="641.70" y2="567.10" stroke="#111" stroke-width="1.4"/>
<line x1="631.50" y1="598.00" x2="631.50" y2="601.80" stroke="#111" stroke-width="1.1"/>
<text x="631.5" y="611.9" font-size="8.2" text-anchor="middle">C/C</text>
<line x1="666.00" y1="526.50" x2="666.00" y2="552.80" stroke="#111" stroke-width="1.2" stroke-dasharray="3.4,1.6"/>
<line x1="666.00" y1="592.30" x2="666.00" y2="594.70" stroke="#111" stroke-width="1.2" stroke-dasharray="3.4,1.6"/>
<line x1="660.40" y1="525.70" x2="671.60" y2="525.70" stroke="#111" stroke-width="1.6"/>
<line x1="660.40" y1="594.70" x2="671.60" y2="594.70" stroke="#111" stroke-width="1.6"/>
<rect x="656.0" y="552.8" width="20.0" height="39.5" fill="rgb(190,174,212)" stroke="#111" stroke-width="1.1"/>
<line x1="656.00" y1="565.60" x2="676.00" y2="565.60" stroke="#111" stroke-width="1.4"/>
<line x1="666.00" y1="598.00" x2="666.00" y2="601.80" stroke="#111" stroke-width="1.1"/>
<text x="666.0" y="611.9" font-size="8.2" text-anchor="middle">A/A</text>
<text x="643.5" y="483.0" font-size="8.9" text-anchor="middle">C/C-specific loops</text>
<text x="642.2" y="494.1" font-size="8.9" text-anchor="middle">unique to Raichu</text>
<text x="649.2" y="506.5" font-size="8.2" text-anchor="middle"><tspan font-style="italic">P</tspan>=0.364</text>
<text x="648.8" y="515.3" font-size="8.2" text-anchor="middle">(n=109)</text>
<path d="M631.5,523.1V518.9H666.0V523.1" stroke="#111" stroke-width="1.3" fill="none"/>
<text x="589.1" y="559.9" font-size="8.2" text-anchor="middle" transform="rotate(-90 589.1 559.9)">RNA-Seq log2(TPM + 1)</text>
<line x1="501.70" y1="670.70" x2="501.70" y2="747.80" stroke="#111" stroke-width="1.5"/>
<line x1="501.00" y1="747.10" x2="570.80" y2="747.10" stroke="#111" stroke-width="1.5"/>
<line x1="497.40" y1="743.60" x2="501.70" y2="743.60" stroke="#111" stroke-width="1.1"/>
<text x="495.1" y="746.5" font-size="8.2" text-anchor="end">0.0</text>
<line x1="497.40" y1="723.50" x2="501.70" y2="723.50" stroke="#111" stroke-width="1.1"/>
<text x="495.1" y="726.4" font-size="8.2" text-anchor="end">2.5</text>
<line x1="497.40" y1="703.40" x2="501.70" y2="703.40" stroke="#111" stroke-width="1.1"/>
<text x="495.1" y="706.3" font-size="8.2" text-anchor="end">5.0</text>
<line x1="497.40" y1="683.30" x2="501.70" y2="683.30" stroke="#111" stroke-width="1.1"/>
<text x="495.1" y="686.2" font-size="8.2" text-anchor="end">7.5</text>
<line x1="519.25" y1="675.70" x2="519.25" y2="704.30" stroke="#111" stroke-width="1.2" stroke-dasharray="3.4,1.6"/>
<line x1="519.25" y1="741.30" x2="519.25" y2="743.20" stroke="#111" stroke-width="1.2" stroke-dasharray="3.4,1.6"/>
<line x1="513.65" y1="674.90" x2="524.85" y2="674.90" stroke="#111" stroke-width="1.6"/>
<line x1="513.65" y1="743.20" x2="524.85" y2="743.20" stroke="#111" stroke-width="1.6"/>
<rect x="509.4" y="704.3" width="19.7" height="37.0" fill="rgb(127,201,127)" stroke="#111" stroke-width="1.1"/>
<line x1="509.40" y1="739.40" x2="529.10" y2="739.40" stroke="#111" stroke-width="1.4"/>
<line x1="519.25" y1="747.10" x2="519.25" y2="750.90" stroke="#111" stroke-width="1.1"/>
<text x="519.2" y="761.0" font-size="8.2" text-anchor="middle">C/C</text>
<line x1="553.15" y1="679.20" x2="553.15" y2="701.40" stroke="#111" stroke-width="1.2" stroke-dasharray="3.4,1.6"/>
<line x1="553.15" y1="742.10" x2="553.15" y2="743.40" stroke="#111" stroke-width="1.2" stroke-dasharray="3.4,1.6"/>
<line x1="547.55" y1="678.40" x2="558.75" y2="678.40" stroke="#111" stroke-width="1.6"/>
<line x1="547.55" y1="743.40" x2="558.75" y2="743.40" stroke="#111" stroke-width="1.6"/>
<rect x="542.6" y="701.4" width="21.1" height="40.7" fill="rgb(190,174,212)" stroke="#111" stroke-width="1.1"/>
<line x1="542.60" y1="733.60" x2="563.70" y2="733.60" stroke="#111" stroke-width="1.4"/>
<line x1="553.15" y1="747.10" x2="553.15" y2="750.90" stroke="#111" stroke-width="1.1"/>
<text x="553.2" y="761.0" font-size="8.2" text-anchor="middle">A/A</text>
<text x="535.3" y="630.7" font-size="8.9" text-anchor="middle">A/A-specific loops</text>
<text x="534.0" y="641.8" font-size="8.9" text-anchor="middle">unique to ICE</text>
<text x="536.7" y="654.2" font-size="8.2" text-anchor="middle"><tspan font-style="italic">P</tspan>=0.754</text>
<text x="536.2" y="663.0" font-size="8.2" text-anchor="middle">(n=14)</text>
<path d="M519.2,671.4V667.2H553.2V671.4" stroke="#111" stroke-width="1.3" fill="none"/>
<text x="476.1" y="708.9" font-size="8.2" text-anchor="middle" transform="rotate(-90 476.1 708.9)">RNA-Seq log2(TPM + 1)</text>
<line x1="614.90" y1="671.60" x2="614.90" y2="747.80" stroke="#111" stroke-width="1.5"/>
<line x1="614.20" y1="747.10" x2="683.50" y2="747.10" stroke="#111" stroke-width="1.5"/>
<line x1="610.60" y1="743.60" x2="614.90" y2="743.60" stroke="#111" stroke-width="1.1"/>
<text x="608.3" y="746.5" font-size="8.2" text-anchor="end">0</text>
<line x1="610.60" y1="708.60" x2="614.90" y2="708.60" stroke="#111" stroke-width="1.1"/>
<text x="608.3" y="711.5" font-size="8.2" text-anchor="end">5</text>
<line x1="610.60" y1="673.60" x2="614.90" y2="673.60" stroke="#111" stroke-width="1.1"/>
<text x="608.3" y="676.5" font-size="8.2" text-anchor="end">10</text>
<line x1="631.45" y1="678.80" x2="631.45" y2="706.20" stroke="#111" stroke-width="1.2" stroke-dasharray="3.4,1.6"/>
<line x1="631.45" y1="742.70" x2="631.45" y2="743.40" stroke="#111" stroke-width="1.2" stroke-dasharray="3.4,1.6"/>
<line x1="625.85" y1="678.00" x2="637.05" y2="678.00" stroke="#111" stroke-width="1.6"/>
<line x1="625.85" y1="743.40" x2="637.05" y2="743.40" stroke="#111" stroke-width="1.6"/>
<rect x="621.1" y="706.2" width="20.7" height="36.5" fill="rgb(127,201,127)" stroke="#111" stroke-width="1.1"/>
<line x1="621.10" y1="724.40" x2="641.80" y2="724.40" stroke="#111" stroke-width="1.4"/>
<line x1="631.45" y1="747.10" x2="631.45" y2="750.90" stroke="#111" stroke-width="1.1"/>
<text x="631.5" y="761.0" font-size="8.2" text-anchor="middle">C/C</text>
<line x1="666.00" y1="675.30" x2="666.00" y2="705.60" stroke="#111" stroke-width="1.2" stroke-dasharray="3.4,1.6"/>
<line x1="666.00" y1="742.70" x2="666.00" y2="743.40" stroke="#111" stroke-width="1.2" stroke-dasharray="3.4,1.6"/>
<line x1="660.40" y1="674.50" x2="671.60" y2="674.50" stroke="#111" stroke-width="1.6"/>
<line x1="660.40" y1="743.40" x2="671.60" y2="743.40" stroke="#111" stroke-width="1.6"/>
<rect x="655.6" y="705.6" width="20.8" height="37.1" fill="rgb(190,174,212)" stroke="#111" stroke-width="1.1"/>
<line x1="655.60" y1="719.60" x2="676.40" y2="719.60" stroke="#111" stroke-width="1.4"/>
<line x1="666.00" y1="747.10" x2="666.00" y2="750.90" stroke="#111" stroke-width="1.1"/>
<text x="666.0" y="761.0" font-size="8.2" text-anchor="middle">A/A</text>
<text x="643.7" y="630.7" font-size="8.9" text-anchor="middle">A/A-specific loops</text>
<text x="642.4" y="641.8" font-size="8.9" text-anchor="middle">unique to Raichu</text>
<text x="647.5" y="655.7" font-size="8.2" text-anchor="middle"><tspan font-style="italic">P</tspan>=4.09 × 10<tspan font-size="5.5" dy="-3">-3</tspan></text>
<text x="648.7" y="663.0" font-size="8.2" text-anchor="middle">(n=73)</text>
<path d="M631.5,671.4V667.2H666.0V671.4" stroke="#111" stroke-width="1.3" fill="none"/>
<text x="589.3" y="709.4" font-size="8.2" text-anchor="middle" transform="rotate(-90 589.3 709.4)">RNA-Seq log2(TPM + 1)</text>
</svg>
</body></html>
